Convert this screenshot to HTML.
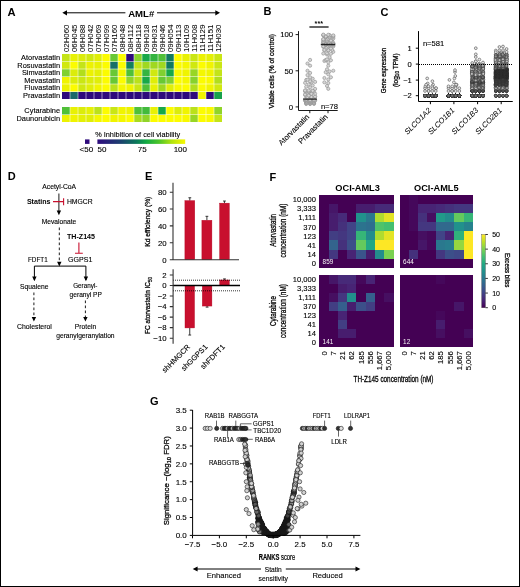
<!DOCTYPE html>
<html><head><meta charset="utf-8"><style>
html,body{margin:0;padding:0;background:#fff;}
body{width:520px;height:587px;overflow:hidden;font-family:"Liberation Sans", sans-serif;}
svg{display:block;will-change:transform;}
</style></head><body>
<svg width="520" height="587" viewBox="0 0 520 587" font-family="Liberation Sans, sans-serif"><text x="7.60" y="16.00" font-size="11.2" text-anchor="start" font-weight="bold">A</text>
<line x1="66" y1="12.8" x2="125.4" y2="12.8" stroke="#000" stroke-width="1"/>
<line x1="157" y1="12.8" x2="216" y2="12.8" stroke="#000" stroke-width="1"/>
<path d="M62.3 12.8 L67 10.2 L67 15.4 Z" fill="#000"/>
<path d="M220 12.8 L215.3 10.2 L215.3 15.4 Z" fill="#000"/>
<text x="141.20" y="17.30" font-size="9.6" text-anchor="middle" font-weight="bold">AML#</text>
<text x="69.10" y="52.10" font-size="6.6" text-anchor="start" stroke="#000" stroke-width="0.05" textLength="27.6" lengthAdjust="spacingAndGlyphs" transform="rotate(-90 69.10 52.10)">02H060</text>
<text x="77.10" y="52.10" font-size="6.6" text-anchor="start" stroke="#000" stroke-width="0.05" textLength="27.6" lengthAdjust="spacingAndGlyphs" transform="rotate(-90 77.10 52.10)">06H045</text>
<text x="85.10" y="52.10" font-size="6.6" text-anchor="start" stroke="#000" stroke-width="0.05" textLength="27.6" lengthAdjust="spacingAndGlyphs" transform="rotate(-90 85.10 52.10)">06H088</text>
<text x="93.10" y="52.10" font-size="6.6" text-anchor="start" stroke="#000" stroke-width="0.05" textLength="27.6" lengthAdjust="spacingAndGlyphs" transform="rotate(-90 93.10 52.10)">07H042</text>
<text x="101.10" y="52.10" font-size="6.6" text-anchor="start" stroke="#000" stroke-width="0.05" textLength="27.6" lengthAdjust="spacingAndGlyphs" transform="rotate(-90 101.10 52.10)">07H069</text>
<text x="109.10" y="52.10" font-size="6.6" text-anchor="start" stroke="#000" stroke-width="0.05" textLength="27.6" lengthAdjust="spacingAndGlyphs" transform="rotate(-90 109.10 52.10)">07H099</text>
<text x="117.10" y="52.10" font-size="6.6" text-anchor="start" stroke="#000" stroke-width="0.05" textLength="27.6" lengthAdjust="spacingAndGlyphs" transform="rotate(-90 117.10 52.10)">07H160</text>
<text x="125.10" y="52.10" font-size="6.6" text-anchor="start" stroke="#000" stroke-width="0.05" textLength="27.6" lengthAdjust="spacingAndGlyphs" transform="rotate(-90 125.10 52.10)">08H048</text>
<text x="133.10" y="52.10" font-size="6.6" text-anchor="start" stroke="#000" stroke-width="0.05" textLength="27.6" lengthAdjust="spacingAndGlyphs" transform="rotate(-90 133.10 52.10)">08H112</text>
<text x="141.10" y="52.10" font-size="6.6" text-anchor="start" stroke="#000" stroke-width="0.05" textLength="27.6" lengthAdjust="spacingAndGlyphs" transform="rotate(-90 141.10 52.10)">08H118</text>
<text x="149.10" y="52.10" font-size="6.6" text-anchor="start" stroke="#000" stroke-width="0.05" textLength="27.6" lengthAdjust="spacingAndGlyphs" transform="rotate(-90 149.10 52.10)">09H018</text>
<text x="157.10" y="52.10" font-size="6.6" text-anchor="start" stroke="#000" stroke-width="0.05" textLength="27.6" lengthAdjust="spacingAndGlyphs" transform="rotate(-90 157.10 52.10)">09H031</text>
<text x="165.10" y="52.10" font-size="6.6" text-anchor="start" stroke="#000" stroke-width="0.05" textLength="27.6" lengthAdjust="spacingAndGlyphs" transform="rotate(-90 165.10 52.10)">09H046</text>
<text x="173.10" y="52.10" font-size="6.6" text-anchor="start" stroke="#000" stroke-width="0.05" textLength="27.6" lengthAdjust="spacingAndGlyphs" transform="rotate(-90 173.10 52.10)">09H054</text>
<text x="181.10" y="52.10" font-size="6.6" text-anchor="start" stroke="#000" stroke-width="0.05" textLength="27.6" lengthAdjust="spacingAndGlyphs" transform="rotate(-90 181.10 52.10)">09H113</text>
<text x="189.10" y="52.10" font-size="6.6" text-anchor="start" stroke="#000" stroke-width="0.05" textLength="27.6" lengthAdjust="spacingAndGlyphs" transform="rotate(-90 189.10 52.10)">10H109</text>
<text x="197.10" y="52.10" font-size="6.6" text-anchor="start" stroke="#000" stroke-width="0.05" textLength="27.6" lengthAdjust="spacingAndGlyphs" transform="rotate(-90 197.10 52.10)">11H008</text>
<text x="205.10" y="52.10" font-size="6.6" text-anchor="start" stroke="#000" stroke-width="0.05" textLength="27.6" lengthAdjust="spacingAndGlyphs" transform="rotate(-90 205.10 52.10)">11H129</text>
<text x="213.10" y="52.10" font-size="6.6" text-anchor="start" stroke="#000" stroke-width="0.05" textLength="27.6" lengthAdjust="spacingAndGlyphs" transform="rotate(-90 213.10 52.10)">11H151</text>
<text x="221.10" y="52.10" font-size="6.6" text-anchor="start" stroke="#000" stroke-width="0.05" textLength="27.6" lengthAdjust="spacingAndGlyphs" transform="rotate(-90 221.10 52.10)">12H030</text>
<text x="60.10" y="60.30" font-size="7.4" text-anchor="end" stroke="#000" stroke-width="0.12">Atorvastatin</text>
<text x="60.10" y="67.80" font-size="7.4" text-anchor="end" stroke="#000" stroke-width="0.12">Rosuvastatin</text>
<text x="60.10" y="75.30" font-size="7.4" text-anchor="end" stroke="#000" stroke-width="0.12">Simvastatin</text>
<text x="60.10" y="82.80" font-size="7.4" text-anchor="end" stroke="#000" stroke-width="0.12">Mevastatin</text>
<text x="60.10" y="90.30" font-size="7.4" text-anchor="end" stroke="#000" stroke-width="0.12">Fluvastatin</text>
<text x="60.10" y="97.80" font-size="7.4" text-anchor="end" stroke="#000" stroke-width="0.12">Pravastatin</text>
<text x="60.10" y="113.30" font-size="7.4" text-anchor="end" stroke="#000" stroke-width="0.12">Cytarabine</text>
<text x="60.10" y="120.80" font-size="7.4" text-anchor="end" stroke="#000" stroke-width="0.12">Daunorubicin</text>
<g shape-rendering="crispEdges">
<rect x="62.00" y="54.00" width="8" height="7.5" fill="#c4e418"/>
<rect x="70.00" y="54.00" width="8" height="7.5" fill="#e8f104"/>
<rect x="78.00" y="54.00" width="8" height="7.5" fill="#dbec0b"/>
<rect x="86.00" y="54.00" width="8" height="7.5" fill="#d0e810"/>
<rect x="94.00" y="54.00" width="8" height="7.5" fill="#e0ee08"/>
<rect x="102.00" y="54.00" width="8" height="7.5" fill="#fcfc00"/>
<rect x="110.00" y="54.00" width="8" height="7.5" fill="#68c834"/>
<rect x="118.00" y="54.00" width="8" height="7.5" fill="#fcfc00"/>
<rect x="126.00" y="54.00" width="8" height="7.5" fill="#2e0a7c"/>
<rect x="134.00" y="54.00" width="8" height="7.5" fill="#88d22c"/>
<rect x="142.00" y="54.00" width="8" height="7.5" fill="#18a848"/>
<rect x="150.00" y="54.00" width="8" height="7.5" fill="#34b440"/>
<rect x="158.00" y="54.00" width="8" height="7.5" fill="#50c038"/>
<rect x="166.00" y="54.00" width="8" height="7.5" fill="#127a60"/>
<rect x="174.00" y="54.00" width="8" height="7.5" fill="#fcfc00"/>
<rect x="182.00" y="54.00" width="8" height="7.5" fill="#e8f104"/>
<rect x="190.00" y="54.00" width="8" height="7.5" fill="#cae614"/>
<rect x="198.00" y="54.00" width="8" height="7.5" fill="#ecf202"/>
<rect x="206.00" y="54.00" width="8" height="7.5" fill="#e4f006"/>
<rect x="214.00" y="54.00" width="8" height="7.5" fill="#cae614"/>
<rect x="62.00" y="61.50" width="8" height="7.5" fill="#d0e810"/>
<rect x="70.00" y="61.50" width="8" height="7.5" fill="#fcfc00"/>
<rect x="78.00" y="61.50" width="8" height="7.5" fill="#c4e418"/>
<rect x="86.00" y="61.50" width="8" height="7.5" fill="#ecf202"/>
<rect x="94.00" y="61.50" width="8" height="7.5" fill="#e8f104"/>
<rect x="102.00" y="61.50" width="8" height="7.5" fill="#fcfc00"/>
<rect x="110.00" y="61.50" width="8" height="7.5" fill="#176f67"/>
<rect x="118.00" y="61.50" width="8" height="7.5" fill="#fcfc00"/>
<rect x="126.00" y="61.50" width="8" height="7.5" fill="#13815d"/>
<rect x="134.00" y="61.50" width="8" height="7.5" fill="#c4e418"/>
<rect x="142.00" y="61.50" width="8" height="7.5" fill="#a0d820"/>
<rect x="150.00" y="61.50" width="8" height="7.5" fill="#a0d820"/>
<rect x="158.00" y="61.50" width="8" height="7.5" fill="#a0d820"/>
<rect x="166.00" y="61.50" width="8" height="7.5" fill="#127a60"/>
<rect x="174.00" y="61.50" width="8" height="7.5" fill="#fcfc00"/>
<rect x="182.00" y="61.50" width="8" height="7.5" fill="#f4f700"/>
<rect x="190.00" y="61.50" width="8" height="7.5" fill="#d0e810"/>
<rect x="198.00" y="61.50" width="8" height="7.5" fill="#fcfc00"/>
<rect x="206.00" y="61.50" width="8" height="7.5" fill="#f0f400"/>
<rect x="214.00" y="61.50" width="8" height="7.5" fill="#cae614"/>
<rect x="62.00" y="69.00" width="8" height="7.5" fill="#80d030"/>
<rect x="70.00" y="69.00" width="8" height="7.5" fill="#dbec0b"/>
<rect x="78.00" y="69.00" width="8" height="7.5" fill="#b2de1c"/>
<rect x="86.00" y="69.00" width="8" height="7.5" fill="#ecf202"/>
<rect x="94.00" y="69.00" width="8" height="7.5" fill="#e4f006"/>
<rect x="102.00" y="69.00" width="8" height="7.5" fill="#fcfc00"/>
<rect x="110.00" y="69.00" width="8" height="7.5" fill="#68c834"/>
<rect x="118.00" y="69.00" width="8" height="7.5" fill="#f4f700"/>
<rect x="126.00" y="69.00" width="8" height="7.5" fill="#50c038"/>
<rect x="134.00" y="69.00" width="8" height="7.5" fill="#d0e810"/>
<rect x="142.00" y="69.00" width="8" height="7.5" fill="#34b440"/>
<rect x="150.00" y="69.00" width="8" height="7.5" fill="#d0e810"/>
<rect x="158.00" y="69.00" width="8" height="7.5" fill="#80d030"/>
<rect x="166.00" y="69.00" width="8" height="7.5" fill="#18a848"/>
<rect x="174.00" y="69.00" width="8" height="7.5" fill="#f8f900"/>
<rect x="182.00" y="69.00" width="8" height="7.5" fill="#f0f400"/>
<rect x="190.00" y="69.00" width="8" height="7.5" fill="#98d624"/>
<rect x="198.00" y="69.00" width="8" height="7.5" fill="#f4f700"/>
<rect x="206.00" y="69.00" width="8" height="7.5" fill="#f0f400"/>
<rect x="214.00" y="69.00" width="8" height="7.5" fill="#c4e418"/>
<rect x="62.00" y="76.50" width="8" height="7.5" fill="#f0f400"/>
<rect x="70.00" y="76.50" width="8" height="7.5" fill="#dbec0b"/>
<rect x="78.00" y="76.50" width="8" height="7.5" fill="#cae614"/>
<rect x="86.00" y="76.50" width="8" height="7.5" fill="#dbec0b"/>
<rect x="94.00" y="76.50" width="8" height="7.5" fill="#e0ee08"/>
<rect x="102.00" y="76.50" width="8" height="7.5" fill="#fcfc00"/>
<rect x="110.00" y="76.50" width="8" height="7.5" fill="#68c834"/>
<rect x="118.00" y="76.50" width="8" height="7.5" fill="#fcfc00"/>
<rect x="126.00" y="76.50" width="8" height="7.5" fill="#90d428"/>
<rect x="134.00" y="76.50" width="8" height="7.5" fill="#bbe11a"/>
<rect x="142.00" y="76.50" width="8" height="7.5" fill="#18a848"/>
<rect x="150.00" y="76.50" width="8" height="7.5" fill="#e0ee08"/>
<rect x="158.00" y="76.50" width="8" height="7.5" fill="#68c834"/>
<rect x="166.00" y="76.50" width="8" height="7.5" fill="#80d030"/>
<rect x="174.00" y="76.50" width="8" height="7.5" fill="#fcfc00"/>
<rect x="182.00" y="76.50" width="8" height="7.5" fill="#f4f700"/>
<rect x="190.00" y="76.50" width="8" height="7.5" fill="#88d22c"/>
<rect x="198.00" y="76.50" width="8" height="7.5" fill="#fcfc00"/>
<rect x="206.00" y="76.50" width="8" height="7.5" fill="#f8f900"/>
<rect x="214.00" y="76.50" width="8" height="7.5" fill="#b2de1c"/>
<rect x="62.00" y="84.00" width="8" height="7.5" fill="#ecf202"/>
<rect x="70.00" y="84.00" width="8" height="7.5" fill="#fcfc00"/>
<rect x="78.00" y="84.00" width="8" height="7.5" fill="#d0e810"/>
<rect x="86.00" y="84.00" width="8" height="7.5" fill="#e0ee08"/>
<rect x="94.00" y="84.00" width="8" height="7.5" fill="#f0f400"/>
<rect x="102.00" y="84.00" width="8" height="7.5" fill="#fcfc00"/>
<rect x="110.00" y="84.00" width="8" height="7.5" fill="#bbe11a"/>
<rect x="118.00" y="84.00" width="8" height="7.5" fill="#f4f700"/>
<rect x="126.00" y="84.00" width="8" height="7.5" fill="#f0f400"/>
<rect x="134.00" y="84.00" width="8" height="7.5" fill="#cae614"/>
<rect x="142.00" y="84.00" width="8" height="7.5" fill="#50c038"/>
<rect x="150.00" y="84.00" width="8" height="7.5" fill="#e8f104"/>
<rect x="158.00" y="84.00" width="8" height="7.5" fill="#a0d820"/>
<rect x="166.00" y="84.00" width="8" height="7.5" fill="#e0ee08"/>
<rect x="174.00" y="84.00" width="8" height="7.5" fill="#f8f900"/>
<rect x="182.00" y="84.00" width="8" height="7.5" fill="#fcfc00"/>
<rect x="190.00" y="84.00" width="8" height="7.5" fill="#b2de1c"/>
<rect x="198.00" y="84.00" width="8" height="7.5" fill="#fcfc00"/>
<rect x="206.00" y="84.00" width="8" height="7.5" fill="#f0f400"/>
<rect x="214.00" y="84.00" width="8" height="7.5" fill="#d0e810"/>
<rect x="62.00" y="91.50" width="8" height="7.5" fill="#2e0a7c"/>
<rect x="70.00" y="91.50" width="8" height="7.5" fill="#1a6a6a"/>
<rect x="78.00" y="91.50" width="8" height="7.5" fill="#2e0a7c"/>
<rect x="86.00" y="91.50" width="8" height="7.5" fill="#2e0a7c"/>
<rect x="94.00" y="91.50" width="8" height="7.5" fill="#2e0a7c"/>
<rect x="102.00" y="91.50" width="8" height="7.5" fill="#2e0a7c"/>
<rect x="110.00" y="91.50" width="8" height="7.5" fill="#2e0a7c"/>
<rect x="118.00" y="91.50" width="8" height="7.5" fill="#2e0a7c"/>
<rect x="126.00" y="91.50" width="8" height="7.5" fill="#2e0a7c"/>
<rect x="134.00" y="91.50" width="8" height="7.5" fill="#2e0a7c"/>
<rect x="142.00" y="91.50" width="8" height="7.5" fill="#2e0a7c"/>
<rect x="150.00" y="91.50" width="8" height="7.5" fill="#2e0a7c"/>
<rect x="158.00" y="91.50" width="8" height="7.5" fill="#2e0a7c"/>
<rect x="166.00" y="91.50" width="8" height="7.5" fill="#2e0a7c"/>
<rect x="174.00" y="91.50" width="8" height="7.5" fill="#2e0a7c"/>
<rect x="182.00" y="91.50" width="8" height="7.5" fill="#2e0a7c"/>
<rect x="190.00" y="91.50" width="8" height="7.5" fill="#2e0a7c"/>
<rect x="198.00" y="91.50" width="8" height="7.5" fill="#f0f400"/>
<rect x="206.00" y="91.50" width="8" height="7.5" fill="#2e0a7c"/>
<rect x="214.00" y="91.50" width="8" height="7.5" fill="#17a14b"/>
<rect x="62.00" y="107.00" width="8" height="7.5" fill="#50c038"/>
<rect x="70.00" y="107.00" width="8" height="7.5" fill="#e8f104"/>
<rect x="78.00" y="107.00" width="8" height="7.5" fill="#dbec0b"/>
<rect x="86.00" y="107.00" width="8" height="7.5" fill="#e4f006"/>
<rect x="94.00" y="107.00" width="8" height="7.5" fill="#bbe11a"/>
<rect x="102.00" y="107.00" width="8" height="7.5" fill="#fcfc00"/>
<rect x="110.00" y="107.00" width="8" height="7.5" fill="#cae614"/>
<rect x="118.00" y="107.00" width="8" height="7.5" fill="#f0f400"/>
<rect x="126.00" y="107.00" width="8" height="7.5" fill="#ecf202"/>
<rect x="134.00" y="107.00" width="8" height="7.5" fill="#50c038"/>
<rect x="142.00" y="107.00" width="8" height="7.5" fill="#42ba3c"/>
<rect x="150.00" y="107.00" width="8" height="7.5" fill="#e8f104"/>
<rect x="158.00" y="107.00" width="8" height="7.5" fill="#18a848"/>
<rect x="166.00" y="107.00" width="8" height="7.5" fill="#fcfc00"/>
<rect x="174.00" y="107.00" width="8" height="7.5" fill="#dbec0b"/>
<rect x="182.00" y="107.00" width="8" height="7.5" fill="#f0f400"/>
<rect x="190.00" y="107.00" width="8" height="7.5" fill="#bbe11a"/>
<rect x="198.00" y="107.00" width="8" height="7.5" fill="#fcfc00"/>
<rect x="206.00" y="107.00" width="8" height="7.5" fill="#f8f900"/>
<rect x="214.00" y="107.00" width="8" height="7.5" fill="#90d428"/>
<rect x="62.00" y="114.50" width="8" height="7.5" fill="#ecf202"/>
<rect x="70.00" y="114.50" width="8" height="7.5" fill="#f0f400"/>
<rect x="78.00" y="114.50" width="8" height="7.5" fill="#e4f006"/>
<rect x="86.00" y="114.50" width="8" height="7.5" fill="#e0ee08"/>
<rect x="94.00" y="114.50" width="8" height="7.5" fill="#f4f700"/>
<rect x="102.00" y="114.50" width="8" height="7.5" fill="#fcfc00"/>
<rect x="110.00" y="114.50" width="8" height="7.5" fill="#f0f400"/>
<rect x="118.00" y="114.50" width="8" height="7.5" fill="#f4f700"/>
<rect x="126.00" y="114.50" width="8" height="7.5" fill="#fcfc00"/>
<rect x="134.00" y="114.50" width="8" height="7.5" fill="#a9db1e"/>
<rect x="142.00" y="114.50" width="8" height="7.5" fill="#90d428"/>
<rect x="150.00" y="114.50" width="8" height="7.5" fill="#fcfc00"/>
<rect x="158.00" y="114.50" width="8" height="7.5" fill="#fcfc00"/>
<rect x="166.00" y="114.50" width="8" height="7.5" fill="#fcfc00"/>
<rect x="174.00" y="114.50" width="8" height="7.5" fill="#fcfc00"/>
<rect x="182.00" y="114.50" width="8" height="7.5" fill="#f8f900"/>
<rect x="190.00" y="114.50" width="8" height="7.5" fill="#98d624"/>
<rect x="198.00" y="114.50" width="8" height="7.5" fill="#fcfc00"/>
<rect x="206.00" y="114.50" width="8" height="7.5" fill="#f8f900"/>
<rect x="214.00" y="114.50" width="8" height="7.5" fill="#c4e418"/>
</g>
<path d="M70 54V99M70 107V122M78 54V99M78 107V122M86 54V99M86 107V122M94 54V99M94 107V122M102 54V99M102 107V122M110 54V99M110 107V122M118 54V99M118 107V122M126 54V99M126 107V122M134 54V99M134 107V122M142 54V99M142 107V122M150 54V99M150 107V122M158 54V99M158 107V122M166 54V99M166 107V122M174 54V99M174 107V122M182 54V99M182 107V122M190 54V99M190 107V122M198 54V99M198 107V122M206 54V99M206 107V122M214 54V99M214 107V122M62 61.5H222M62 69.0H222M62 76.5H222M62 84.0H222M62 91.5H222M62 114.5H222" stroke="#fff" stroke-opacity="0.8" stroke-width="0.65" fill="none"/>
<text x="137.70" y="136.60" font-size="7.6" text-anchor="middle" stroke="#000" stroke-width="0.12" textLength="85" lengthAdjust="spacingAndGlyphs">% Inhibition of cell viability</text>
<rect x="85" y="139.4" width="4.5" height="4.5" fill="#2e0a7c"/>
<defs><linearGradient id="ga" x1="0" x2="1" y1="0" y2="0"><stop offset="0" stop-color="#2e0b7e"/><stop offset="0.25" stop-color="#1d3d70"/><stop offset="0.45" stop-color="#0c7a5a"/><stop offset="0.55" stop-color="#10a844"/><stop offset="0.7" stop-color="#4cc52a"/><stop offset="0.85" stop-color="#b4e40e"/><stop offset="1.0" stop-color="#f8f800"/></linearGradient></defs>
<rect x="97.4" y="139.4" width="87.8" height="4.5" fill="url(#ga)"/>
<text x="86.40" y="152.40" font-size="8" text-anchor="middle" stroke="#000" stroke-width="0.12">&lt;50</text>
<text x="97.50" y="152.40" font-size="8" text-anchor="start" stroke="#000" stroke-width="0.12">50</text>
<text x="142.30" y="152.40" font-size="8" text-anchor="middle" stroke="#000" stroke-width="0.12">75</text>
<text x="187.00" y="152.40" font-size="8" text-anchor="end" stroke="#000" stroke-width="0.12">100</text>
<text x="263.50" y="15.40" font-size="11" text-anchor="start" font-weight="bold">B</text>
<g fill="#d6d6d6" stroke="#8c8c8c" stroke-width="0.6"><circle cx="310.10" cy="104.00" r="1.6"/><circle cx="306.20" cy="103.95" r="1.6"/><circle cx="314.00" cy="103.88" r="1.6"/><circle cx="310.10" cy="103.52" r="1.6"/><circle cx="306.20" cy="103.46" r="1.6"/><circle cx="314.00" cy="103.41" r="1.6"/><circle cx="310.10" cy="103.32" r="1.6"/><circle cx="306.20" cy="103.10" r="1.6"/><circle cx="314.00" cy="103.07" r="1.6"/><circle cx="310.10" cy="103.07" r="1.6"/><circle cx="306.20" cy="102.94" r="1.6"/><circle cx="314.00" cy="102.80" r="1.6"/><circle cx="310.10" cy="101.99" r="1.6"/><circle cx="306.20" cy="101.97" r="1.6"/><circle cx="314.00" cy="101.65" r="1.6"/><circle cx="310.10" cy="101.52" r="1.6"/><circle cx="306.20" cy="101.33" r="1.6"/><circle cx="314.00" cy="101.31" r="1.6"/><circle cx="310.10" cy="101.19" r="1.6"/><circle cx="306.20" cy="100.80" r="1.6"/><circle cx="314.00" cy="100.79" r="1.6"/><circle cx="310.10" cy="100.69" r="1.6"/><circle cx="305.10" cy="100.56" r="1.6"/><circle cx="315.10" cy="100.55" r="1.6"/><circle cx="310.10" cy="100.23" r="1.6"/><circle cx="305.10" cy="100.22" r="1.6"/><circle cx="305.10" cy="100.10" r="1.6"/><circle cx="310.10" cy="100.03" r="1.6"/><circle cx="314.00" cy="100.01" r="1.6"/><circle cx="315.10" cy="99.92" r="1.6"/><circle cx="310.10" cy="99.92" r="1.6"/><circle cx="306.20" cy="99.75" r="1.6"/><circle cx="314.00" cy="99.64" r="1.6"/><circle cx="305.10" cy="99.10" r="1.6"/><circle cx="307.50" cy="98.41" r="1.6"/><circle cx="307.50" cy="98.23" r="1.6"/><circle cx="312.70" cy="97.89" r="1.6"/><circle cx="311.40" cy="97.16" r="1.6"/><circle cx="311.40" cy="97.08" r="1.6"/><circle cx="311.40" cy="97.06" r="1.6"/><circle cx="307.50" cy="96.98" r="1.6"/><circle cx="315.10" cy="96.74" r="1.6"/><circle cx="315.10" cy="96.54" r="1.6"/><circle cx="308.80" cy="95.50" r="1.6"/><circle cx="305.10" cy="94.99" r="1.6"/><circle cx="305.10" cy="94.44" r="1.6"/><circle cx="311.40" cy="93.79" r="1.6"/><circle cx="311.40" cy="93.79" r="1.6"/><circle cx="315.10" cy="93.68" r="1.6"/><circle cx="307.50" cy="92.57" r="1.6"/><circle cx="308.80" cy="91.92" r="1.6"/><circle cx="314.00" cy="91.51" r="1.6"/><circle cx="305.10" cy="91.33" r="1.6"/><circle cx="308.80" cy="91.28" r="1.6"/><circle cx="312.70" cy="90.89" r="1.6"/><circle cx="312.70" cy="90.78" r="1.6"/><circle cx="305.10" cy="90.73" r="1.6"/><circle cx="305.10" cy="90.45" r="1.6"/><circle cx="308.80" cy="90.33" r="1.6"/><circle cx="315.10" cy="88.90" r="1.6"/><circle cx="310.10" cy="87.34" r="1.6"/><circle cx="306.20" cy="86.76" r="1.6"/><circle cx="312.70" cy="85.43" r="1.6"/><circle cx="308.80" cy="84.30" r="1.6"/><circle cx="305.10" cy="82.84" r="1.6"/><circle cx="311.40" cy="82.32" r="1.6"/><circle cx="315.10" cy="81.88" r="1.6"/><circle cx="310.10" cy="81.22" r="1.6"/><circle cx="306.20" cy="79.94" r="1.6"/><circle cx="307.50" cy="79.71" r="1.6"/><circle cx="312.70" cy="78.70" r="1.6"/><circle cx="310.10" cy="77.26" r="1.6"/><circle cx="307.50" cy="75.09" r="1.6"/><circle cx="310.10" cy="72.92" r="1.6"/><circle cx="307.50" cy="70.75" r="1.6"/><circle cx="310.10" cy="65.69" r="1.6"/><circle cx="307.50" cy="63.52" r="1.6"/><circle cx="310.10" cy="59.91" r="1.6"/><circle cx="328.30" cy="88.83" r="1.6"/><circle cx="327.00" cy="85.93" r="1.6"/><circle cx="328.30" cy="83.04" r="1.6"/><circle cx="324.40" cy="82.32" r="1.6"/><circle cx="328.30" cy="79.43" r="1.6"/><circle cx="324.40" cy="77.98" r="1.6"/><circle cx="330.90" cy="77.26" r="1.6"/><circle cx="328.30" cy="74.37" r="1.6"/><circle cx="325.70" cy="72.20" r="1.6"/><circle cx="329.60" cy="71.47" r="1.6"/><circle cx="333.30" cy="70.75" r="1.6"/><circle cx="327.00" cy="69.30" r="1.6"/><circle cx="328.30" cy="65.69" r="1.6"/><circle cx="328.30" cy="62.25" r="1.6"/><circle cx="324.40" cy="61.00" r="1.6"/><circle cx="330.90" cy="60.25" r="1.6"/><circle cx="325.70" cy="60.02" r="1.6"/><circle cx="327.00" cy="59.36" r="1.6"/><circle cx="329.60" cy="57.19" r="1.6"/><circle cx="327.00" cy="54.51" r="1.6"/><circle cx="330.90" cy="53.76" r="1.6"/><circle cx="323.30" cy="53.52" r="1.6"/><circle cx="327.00" cy="53.33" r="1.6"/><circle cx="333.30" cy="51.86" r="1.6"/><circle cx="328.30" cy="50.45" r="1.6"/><circle cx="324.40" cy="50.26" r="1.6"/><circle cx="328.30" cy="50.25" r="1.6"/><circle cx="324.40" cy="49.90" r="1.6"/><circle cx="332.20" cy="49.85" r="1.6"/><circle cx="330.90" cy="48.46" r="1.6"/><circle cx="327.00" cy="47.44" r="1.6"/><circle cx="323.30" cy="46.87" r="1.6"/><circle cx="333.30" cy="46.36" r="1.6"/><circle cx="328.30" cy="46.29" r="1.6"/><circle cx="323.30" cy="46.22" r="1.6"/><circle cx="329.60" cy="45.57" r="1.6"/><circle cx="333.30" cy="45.23" r="1.6"/><circle cx="329.60" cy="44.96" r="1.6"/><circle cx="325.70" cy="44.73" r="1.6"/><circle cx="325.70" cy="44.35" r="1.6"/><circle cx="325.70" cy="44.23" r="1.6"/><circle cx="333.30" cy="44.16" r="1.6"/><circle cx="329.60" cy="43.93" r="1.6"/><circle cx="325.70" cy="43.80" r="1.6"/><circle cx="333.30" cy="43.63" r="1.6"/><circle cx="329.60" cy="43.22" r="1.6"/><circle cx="333.30" cy="43.09" r="1.6"/><circle cx="323.30" cy="42.93" r="1.6"/><circle cx="328.30" cy="42.73" r="1.6"/><circle cx="323.30" cy="42.32" r="1.6"/><circle cx="323.30" cy="41.56" r="1.6"/><circle cx="327.00" cy="41.52" r="1.6"/><circle cx="332.20" cy="41.28" r="1.6"/><circle cx="327.00" cy="41.27" r="1.6"/><circle cx="332.20" cy="41.24" r="1.6"/><circle cx="330.90" cy="41.13" r="1.6"/><circle cx="327.00" cy="40.61" r="1.6"/><circle cx="330.90" cy="40.45" r="1.6"/><circle cx="323.30" cy="40.11" r="1.6"/><circle cx="327.00" cy="39.41" r="1.6"/><circle cx="323.30" cy="39.32" r="1.6"/><circle cx="323.30" cy="39.20" r="1.6"/><circle cx="328.30" cy="38.71" r="1.6"/><circle cx="333.30" cy="38.54" r="1.6"/><circle cx="329.60" cy="37.75" r="1.6"/><circle cx="325.70" cy="37.15" r="1.6"/><circle cx="333.30" cy="37.07" r="1.6"/><circle cx="329.60" cy="36.87" r="1.6"/><circle cx="325.70" cy="36.65" r="1.6"/><circle cx="325.70" cy="36.36" r="1.6"/><circle cx="333.30" cy="36.02" r="1.6"/><circle cx="329.60" cy="35.43" r="1.6"/><circle cx="333.30" cy="35.37" r="1.6"/><circle cx="323.30" cy="35.31" r="1.6"/><circle cx="329.60" cy="35.19" r="1.6"/><circle cx="323.30" cy="35.15" r="1.6"/><circle cx="328.30" cy="34.73" r="1.6"/><circle cx="323.30" cy="34.63" r="1.6"/></g>
<path d="M303.3 99.1H316.9M320.8 44.5H335.2" stroke="#222" stroke-width="1.3"/>
<path d="M298.5 31.1V110.5H337.7M295.6 34.6H298.5M295.6 70.8H298.5M295.6 106.9H298.5M309.8 110.5V113.2M328 110.5V113.2" stroke="#000" stroke-width="0.9" fill="none"/>
<path d="M309.4 27H328.6" stroke="#111" stroke-width="1.3"/>
<text x="318.80" y="26.20" font-size="7.2" text-anchor="middle" font-weight="bold">***</text>
<text x="293.20" y="37.40" font-size="7.8" text-anchor="end" stroke="#000" stroke-width="0.12">100</text>
<text x="293.20" y="73.60" font-size="7.8" text-anchor="end" stroke="#000" stroke-width="0.12">50</text>
<text x="293.20" y="109.70" font-size="7.8" text-anchor="end" stroke="#000" stroke-width="0.12">0</text>
<text x="338.00" y="109.00" font-size="7.6" text-anchor="end" stroke="#000" stroke-width="0.12">n=78</text>
<text x="274.20" y="71.30" font-size="8" text-anchor="middle" stroke="#000" stroke-width="0.28" textLength="74.5" lengthAdjust="spacingAndGlyphs" transform="rotate(-90 274.20 71.30)">Viable cells (% of control)</text>
<text x="309.80" y="117.40" font-size="7.6" text-anchor="end" stroke="#000" stroke-width="0.12" transform="rotate(-45 309.80 117.40)">Atorvastatin</text>
<text x="328.20" y="117.40" font-size="7.6" text-anchor="end" stroke="#000" stroke-width="0.12" transform="rotate(-45 328.20 117.40)">Pravastatin</text>
<text x="380.40" y="15.50" font-size="11" text-anchor="start" font-weight="bold">C</text>
<g stroke="#333" stroke-width="0.5"><circle cx="428.6" cy="95.8" r="1.4" fill="#777"/><circle cx="432.2" cy="95.8" r="1.4" fill="#777"/><circle cx="425.0" cy="95.8" r="1.4" fill="#777"/><circle cx="435.8" cy="95.8" r="1.4" fill="#777"/><circle cx="428.6" cy="95.8" r="1.4" fill="#777"/><circle cx="432.2" cy="95.8" r="1.4" fill="#777"/><circle cx="425.0" cy="95.8" r="1.4" fill="#777"/><circle cx="435.8" cy="95.8" r="1.4" fill="#777"/><circle cx="428.6" cy="95.8" r="1.4" fill="#777"/><circle cx="432.2" cy="95.8" r="1.4" fill="#777"/><circle cx="425.0" cy="95.8" r="1.4" fill="#777"/><circle cx="435.8" cy="95.8" r="1.4" fill="#777"/><circle cx="428.6" cy="95.8" r="1.4" fill="#777"/><circle cx="432.2" cy="95.8" r="1.4" fill="#777"/><circle cx="428.6" cy="91.0" r="1.4" fill="#e8e8e8"/><circle cx="425.0" cy="95.8" r="1.4" fill="#777"/><circle cx="435.8" cy="95.8" r="1.4" fill="#777"/><circle cx="428.6" cy="95.8" r="1.4" fill="#777"/><circle cx="432.2" cy="95.8" r="1.4" fill="#777"/><circle cx="425.0" cy="95.8" r="1.4" fill="#777"/><circle cx="435.8" cy="95.8" r="1.4" fill="#777"/><circle cx="428.6" cy="95.8" r="1.4" fill="#777"/><circle cx="432.2" cy="95.8" r="1.4" fill="#777"/><circle cx="425.0" cy="95.8" r="1.4" fill="#777"/><circle cx="435.8" cy="95.8" r="1.4" fill="#777"/><circle cx="428.6" cy="95.8" r="1.4" fill="#777"/><circle cx="432.2" cy="95.8" r="1.4" fill="#777"/><circle cx="425.0" cy="95.8" r="1.4" fill="#777"/><circle cx="435.8" cy="95.8" r="1.4" fill="#777"/><circle cx="428.6" cy="95.8" r="1.4" fill="#777"/><circle cx="432.2" cy="95.8" r="1.4" fill="#777"/><circle cx="425.0" cy="95.8" r="1.4" fill="#777"/><circle cx="435.8" cy="95.8" r="1.4" fill="#777"/><circle cx="428.6" cy="95.8" r="1.4" fill="#777"/><circle cx="432.2" cy="95.8" r="1.4" fill="#777"/><circle cx="425.0" cy="95.8" r="1.4" fill="#777"/><circle cx="435.8" cy="95.8" r="1.4" fill="#777"/><circle cx="428.6" cy="95.8" r="1.4" fill="#777"/><circle cx="432.2" cy="95.8" r="1.4" fill="#777"/><circle cx="425.0" cy="95.8" r="1.4" fill="#777"/><circle cx="435.8" cy="95.8" r="1.4" fill="#777"/><circle cx="428.6" cy="95.8" r="1.4" fill="#777"/><circle cx="432.2" cy="95.8" r="1.4" fill="#777"/><circle cx="425.0" cy="95.8" r="1.4" fill="#777"/><circle cx="435.8" cy="95.8" r="1.4" fill="#777"/><circle cx="428.6" cy="95.8" r="1.4" fill="#777"/><circle cx="432.2" cy="95.8" r="1.4" fill="#777"/><circle cx="425.0" cy="95.8" r="1.4" fill="#777"/><circle cx="435.8" cy="95.8" r="1.4" fill="#777"/><circle cx="428.6" cy="95.8" r="1.4" fill="#777"/><circle cx="432.2" cy="95.8" r="1.4" fill="#777"/><circle cx="425.0" cy="95.8" r="1.4" fill="#777"/><circle cx="435.8" cy="95.8" r="1.4" fill="#777"/><circle cx="428.6" cy="95.8" r="1.4" fill="#777"/><circle cx="432.2" cy="95.8" r="1.4" fill="#777"/><circle cx="425.0" cy="95.8" r="1.4" fill="#777"/><circle cx="435.8" cy="95.8" r="1.4" fill="#777"/><circle cx="428.6" cy="95.8" r="1.4" fill="#777"/><circle cx="432.2" cy="95.8" r="1.4" fill="#777"/><circle cx="425.0" cy="95.8" r="1.4" fill="#777"/><circle cx="435.8" cy="95.8" r="1.4" fill="#777"/><circle cx="428.6" cy="95.8" r="1.4" fill="#777"/><circle cx="432.2" cy="95.8" r="1.4" fill="#777"/><circle cx="425.0" cy="95.8" r="1.4" fill="#777"/><circle cx="435.8" cy="95.8" r="1.4" fill="#777"/><circle cx="428.6" cy="95.8" r="1.4" fill="#777"/><circle cx="432.2" cy="95.8" r="1.4" fill="#777"/><circle cx="425.0" cy="95.8" r="1.4" fill="#777"/><circle cx="435.8" cy="95.8" r="1.4" fill="#777"/><circle cx="428.6" cy="95.8" r="1.4" fill="#777"/><circle cx="432.2" cy="95.8" r="1.4" fill="#777"/><circle cx="425.0" cy="95.8" r="1.4" fill="#777"/><circle cx="433.1" cy="84.7" r="1.4" fill="#e8e8e8"/><circle cx="435.8" cy="95.8" r="1.4" fill="#777"/><circle cx="428.6" cy="95.8" r="1.4" fill="#777"/><circle cx="432.2" cy="95.8" r="1.4" fill="#777"/><circle cx="425.0" cy="95.8" r="1.4" fill="#777"/><circle cx="435.8" cy="95.8" r="1.4" fill="#777"/><circle cx="428.6" cy="95.8" r="1.4" fill="#777"/><circle cx="432.2" cy="95.8" r="1.4" fill="#777"/><circle cx="425.0" cy="95.8" r="1.4" fill="#777"/><circle cx="435.8" cy="95.8" r="1.4" fill="#777"/><circle cx="428.6" cy="95.8" r="1.4" fill="#777"/><circle cx="432.2" cy="95.8" r="1.4" fill="#777"/><circle cx="425.0" cy="95.8" r="1.4" fill="#777"/><circle cx="435.8" cy="95.8" r="1.4" fill="#777"/><circle cx="428.6" cy="95.8" r="1.4" fill="#777"/><circle cx="432.2" cy="95.8" r="1.4" fill="#777"/><circle cx="425.0" cy="95.8" r="1.4" fill="#777"/><circle cx="435.8" cy="95.8" r="1.4" fill="#777"/><circle cx="428.6" cy="95.8" r="1.4" fill="#777"/><circle cx="432.2" cy="95.8" r="1.4" fill="#777"/><circle cx="425.0" cy="95.8" r="1.4" fill="#777"/><circle cx="435.8" cy="95.8" r="1.4" fill="#777"/><circle cx="428.6" cy="95.8" r="1.4" fill="#777"/><circle cx="432.2" cy="95.8" r="1.4" fill="#777"/><circle cx="425.0" cy="95.8" r="1.4" fill="#777"/><circle cx="435.8" cy="95.8" r="1.4" fill="#777"/><circle cx="428.6" cy="95.8" r="1.4" fill="#777"/><circle cx="432.2" cy="95.8" r="1.4" fill="#777"/><circle cx="425.0" cy="95.8" r="1.4" fill="#777"/><circle cx="435.8" cy="95.8" r="1.4" fill="#777"/><circle cx="428.6" cy="95.8" r="1.4" fill="#777"/><circle cx="432.2" cy="95.8" r="1.4" fill="#777"/><circle cx="425.0" cy="95.8" r="1.4" fill="#777"/><circle cx="435.8" cy="95.8" r="1.4" fill="#777"/><circle cx="428.6" cy="95.8" r="1.4" fill="#777"/><circle cx="432.2" cy="95.8" r="1.4" fill="#777"/><circle cx="428.6" cy="88.2" r="1.4" fill="#e8e8e8"/><circle cx="425.0" cy="95.8" r="1.4" fill="#777"/><circle cx="435.8" cy="95.8" r="1.4" fill="#777"/><circle cx="428.6" cy="95.8" r="1.4" fill="#777"/><circle cx="432.2" cy="95.8" r="1.4" fill="#777"/><circle cx="425.0" cy="95.8" r="1.4" fill="#777"/><circle cx="435.8" cy="95.8" r="1.4" fill="#777"/><circle cx="428.6" cy="95.8" r="1.4" fill="#777"/><circle cx="432.2" cy="95.8" r="1.4" fill="#777"/><circle cx="432.4" cy="81.2" r="1.4" fill="#e8e8e8"/><circle cx="432.2" cy="91.0" r="1.4" fill="#e8e8e8"/><circle cx="425.0" cy="95.8" r="1.4" fill="#777"/><circle cx="435.8" cy="95.8" r="1.4" fill="#777"/><circle cx="428.6" cy="95.8" r="1.4" fill="#777"/><circle cx="432.2" cy="95.8" r="1.4" fill="#777"/><circle cx="425.0" cy="95.8" r="1.4" fill="#777"/><circle cx="435.8" cy="95.8" r="1.4" fill="#777"/><circle cx="428.6" cy="95.8" r="1.4" fill="#777"/><circle cx="432.2" cy="95.8" r="1.4" fill="#777"/><circle cx="425.0" cy="95.8" r="1.4" fill="#777"/><circle cx="435.8" cy="95.8" r="1.4" fill="#777"/><circle cx="428.6" cy="95.8" r="1.4" fill="#777"/><circle cx="432.2" cy="95.8" r="1.4" fill="#777"/><circle cx="425.0" cy="95.8" r="1.4" fill="#777"/><circle cx="435.8" cy="95.8" r="1.4" fill="#777"/><circle cx="428.6" cy="95.8" r="1.4" fill="#777"/><circle cx="432.2" cy="95.8" r="1.4" fill="#777"/><circle cx="425.0" cy="95.8" r="1.4" fill="#777"/><circle cx="435.8" cy="95.8" r="1.4" fill="#777"/><circle cx="428.6" cy="95.8" r="1.4" fill="#777"/><circle cx="432.2" cy="95.8" r="1.4" fill="#777"/><circle cx="425.0" cy="95.8" r="1.4" fill="#777"/><circle cx="432.2" cy="86.3" r="1.4" fill="#e8e8e8"/><circle cx="435.8" cy="95.8" r="1.4" fill="#777"/><circle cx="428.6" cy="95.8" r="1.4" fill="#777"/><circle cx="425.0" cy="91.0" r="1.4" fill="#e8e8e8"/><circle cx="432.2" cy="95.8" r="1.4" fill="#777"/><circle cx="425.0" cy="95.8" r="1.4" fill="#777"/><circle cx="435.8" cy="95.8" r="1.4" fill="#777"/><circle cx="428.6" cy="95.8" r="1.4" fill="#777"/><circle cx="425.0" cy="88.2" r="1.4" fill="#e8e8e8"/><circle cx="432.2" cy="95.8" r="1.4" fill="#777"/><circle cx="425.0" cy="95.8" r="1.4" fill="#777"/><circle cx="435.8" cy="95.8" r="1.4" fill="#777"/><circle cx="435.8" cy="88.2" r="1.4" fill="#e8e8e8"/><circle cx="428.3" cy="86.3" r="1.4" fill="#e8e8e8"/><circle cx="428.6" cy="95.8" r="1.4" fill="#777"/><circle cx="432.2" cy="95.8" r="1.4" fill="#777"/><circle cx="425.0" cy="95.8" r="1.4" fill="#777"/><circle cx="435.8" cy="95.8" r="1.4" fill="#777"/><circle cx="428.6" cy="95.8" r="1.4" fill="#777"/><circle cx="432.2" cy="95.8" r="1.4" fill="#777"/><circle cx="425.0" cy="95.8" r="1.4" fill="#777"/><circle cx="435.8" cy="95.8" r="1.4" fill="#777"/><circle cx="428.6" cy="95.8" r="1.4" fill="#777"/><circle cx="432.2" cy="95.8" r="1.4" fill="#777"/><circle cx="425.0" cy="95.8" r="1.4" fill="#777"/><circle cx="435.8" cy="95.8" r="1.4" fill="#777"/><circle cx="428.6" cy="95.8" r="1.4" fill="#777"/><circle cx="432.2" cy="95.8" r="1.4" fill="#777"/><circle cx="425.0" cy="95.8" r="1.4" fill="#777"/><circle cx="435.8" cy="95.8" r="1.4" fill="#777"/><circle cx="428.6" cy="95.8" r="1.4" fill="#777"/><circle cx="432.2" cy="95.8" r="1.4" fill="#777"/><circle cx="425.0" cy="95.8" r="1.4" fill="#777"/><circle cx="435.8" cy="95.8" r="1.4" fill="#777"/><circle cx="428.6" cy="95.8" r="1.4" fill="#777"/><circle cx="432.2" cy="95.8" r="1.4" fill="#777"/><circle cx="425.0" cy="95.8" r="1.4" fill="#777"/><circle cx="435.8" cy="95.8" r="1.4" fill="#777"/><circle cx="428.6" cy="95.8" r="1.4" fill="#777"/><circle cx="432.2" cy="95.8" r="1.4" fill="#777"/><circle cx="425.0" cy="95.8" r="1.4" fill="#777"/><circle cx="435.8" cy="95.8" r="1.4" fill="#777"/><circle cx="435.8" cy="91.0" r="1.4" fill="#e8e8e8"/><circle cx="428.6" cy="95.8" r="1.4" fill="#777"/><circle cx="432.2" cy="95.8" r="1.4" fill="#777"/><circle cx="425.0" cy="95.8" r="1.4" fill="#777"/><circle cx="435.8" cy="95.8" r="1.4" fill="#777"/><circle cx="428.6" cy="95.8" r="1.4" fill="#777"/><circle cx="432.2" cy="95.8" r="1.4" fill="#777"/><circle cx="425.0" cy="95.8" r="1.4" fill="#777"/><circle cx="435.8" cy="95.8" r="1.4" fill="#777"/><circle cx="428.6" cy="95.8" r="1.4" fill="#777"/><circle cx="432.2" cy="95.8" r="1.4" fill="#777"/><circle cx="425.0" cy="95.8" r="1.4" fill="#777"/><circle cx="435.8" cy="95.8" r="1.4" fill="#777"/><circle cx="428.6" cy="95.8" r="1.4" fill="#777"/><circle cx="432.2" cy="95.8" r="1.4" fill="#777"/><circle cx="425.0" cy="95.8" r="1.4" fill="#777"/><circle cx="435.8" cy="95.8" r="1.4" fill="#777"/><circle cx="432.4" cy="88.2" r="1.4" fill="#e8e8e8"/><circle cx="428.6" cy="95.8" r="1.4" fill="#777"/><circle cx="432.2" cy="95.8" r="1.4" fill="#777"/><circle cx="425.0" cy="95.8" r="1.4" fill="#777"/><circle cx="435.8" cy="95.8" r="1.4" fill="#777"/><circle cx="428.6" cy="95.8" r="1.4" fill="#777"/><circle cx="432.2" cy="95.8" r="1.4" fill="#777"/><circle cx="425.0" cy="95.8" r="1.4" fill="#777"/><circle cx="435.8" cy="95.8" r="1.4" fill="#777"/><circle cx="428.6" cy="95.8" r="1.4" fill="#777"/><circle cx="432.2" cy="95.8" r="1.4" fill="#777"/><circle cx="425.0" cy="95.8" r="1.4" fill="#777"/><circle cx="435.8" cy="95.8" r="1.4" fill="#777"/><circle cx="428.6" cy="95.8" r="1.4" fill="#777"/><circle cx="432.2" cy="95.8" r="1.4" fill="#777"/><circle cx="427.2" cy="78.4" r="1.4" fill="#e8e8e8"/><circle cx="425.0" cy="95.8" r="1.4" fill="#777"/><circle cx="435.8" cy="95.8" r="1.4" fill="#777"/><circle cx="425.4" cy="86.3" r="1.4" fill="#e8e8e8"/><circle cx="428.6" cy="95.8" r="1.4" fill="#777"/><circle cx="432.2" cy="95.8" r="1.4" fill="#777"/><circle cx="425.0" cy="95.8" r="1.4" fill="#777"/><circle cx="435.8" cy="95.8" r="1.4" fill="#777"/><circle cx="428.6" cy="95.8" r="1.4" fill="#777"/><circle cx="432.2" cy="95.8" r="1.4" fill="#777"/><circle cx="425.0" cy="95.8" r="1.4" fill="#777"/><circle cx="435.8" cy="95.8" r="1.4" fill="#777"/><circle cx="428.6" cy="95.8" r="1.4" fill="#777"/><circle cx="432.2" cy="95.8" r="1.4" fill="#777"/><circle cx="425.0" cy="95.8" r="1.4" fill="#777"/><circle cx="435.8" cy="95.8" r="1.4" fill="#777"/><circle cx="428.6" cy="95.8" r="1.4" fill="#777"/><circle cx="432.2" cy="95.8" r="1.4" fill="#777"/><circle cx="425.0" cy="95.8" r="1.4" fill="#777"/><circle cx="435.8" cy="95.8" r="1.4" fill="#777"/><circle cx="428.6" cy="95.8" r="1.4" fill="#777"/><circle cx="432.2" cy="95.8" r="1.4" fill="#777"/><circle cx="425.0" cy="95.8" r="1.4" fill="#777"/><circle cx="435.8" cy="95.8" r="1.4" fill="#777"/><circle cx="427.7" cy="83.5" r="1.4" fill="#e8e8e8"/><circle cx="428.6" cy="95.8" r="1.4" fill="#777"/><circle cx="432.2" cy="95.8" r="1.4" fill="#777"/><circle cx="425.0" cy="95.8" r="1.4" fill="#777"/><circle cx="436.1" cy="88.2" r="1.4" fill="#e8e8e8"/><circle cx="435.8" cy="95.8" r="1.4" fill="#777"/><circle cx="428.6" cy="95.8" r="1.4" fill="#777"/><circle cx="432.2" cy="95.8" r="1.4" fill="#777"/><circle cx="425.0" cy="95.8" r="1.4" fill="#777"/><circle cx="435.8" cy="95.8" r="1.4" fill="#777"/><circle cx="428.6" cy="95.8" r="1.4" fill="#777"/><circle cx="432.2" cy="95.8" r="1.4" fill="#777"/><circle cx="425.0" cy="95.8" r="1.4" fill="#777"/><circle cx="435.8" cy="95.8" r="1.4" fill="#777"/><circle cx="428.6" cy="95.8" r="1.4" fill="#777"/><circle cx="432.2" cy="95.8" r="1.4" fill="#777"/><circle cx="425.0" cy="95.8" r="1.4" fill="#777"/><circle cx="426.2" cy="84.7" r="1.4" fill="#e8e8e8"/><circle cx="435.8" cy="95.8" r="1.4" fill="#777"/><circle cx="428.6" cy="95.8" r="1.4" fill="#777"/><circle cx="432.2" cy="95.8" r="1.4" fill="#777"/><circle cx="425.0" cy="95.8" r="1.4" fill="#777"/><circle cx="435.8" cy="95.8" r="1.4" fill="#777"/><circle cx="428.6" cy="95.8" r="1.4" fill="#777"/><circle cx="432.2" cy="95.8" r="1.4" fill="#777"/><circle cx="425.0" cy="95.8" r="1.4" fill="#777"/><circle cx="435.8" cy="95.8" r="1.4" fill="#777"/><circle cx="428.6" cy="95.8" r="1.4" fill="#777"/><circle cx="432.2" cy="95.8" r="1.4" fill="#777"/><circle cx="425.0" cy="95.8" r="1.4" fill="#777"/><circle cx="435.8" cy="95.8" r="1.4" fill="#777"/><circle cx="428.6" cy="95.8" r="1.4" fill="#777"/><circle cx="432.2" cy="95.8" r="1.4" fill="#777"/><circle cx="425.0" cy="95.8" r="1.4" fill="#777"/><circle cx="435.8" cy="95.8" r="1.4" fill="#777"/><circle cx="428.6" cy="95.8" r="1.4" fill="#777"/><circle cx="432.2" cy="95.8" r="1.4" fill="#777"/><circle cx="425.0" cy="95.8" r="1.4" fill="#777"/><circle cx="435.8" cy="95.8" r="1.4" fill="#777"/><circle cx="428.6" cy="95.8" r="1.4" fill="#777"/><circle cx="432.2" cy="95.8" r="1.4" fill="#777"/><circle cx="425.0" cy="95.8" r="1.4" fill="#777"/><circle cx="435.8" cy="95.8" r="1.4" fill="#777"/><circle cx="428.6" cy="95.8" r="1.4" fill="#777"/><circle cx="432.2" cy="95.8" r="1.4" fill="#777"/><circle cx="425.0" cy="95.8" r="1.4" fill="#777"/><circle cx="428.6" cy="91.0" r="1.4" fill="#e8e8e8"/><circle cx="435.8" cy="95.8" r="1.4" fill="#777"/><circle cx="428.6" cy="95.8" r="1.4" fill="#777"/><circle cx="432.2" cy="95.8" r="1.4" fill="#777"/><circle cx="425.0" cy="95.8" r="1.4" fill="#777"/><circle cx="435.8" cy="95.8" r="1.4" fill="#777"/><circle cx="428.6" cy="95.8" r="1.4" fill="#777"/><circle cx="432.2" cy="95.8" r="1.4" fill="#777"/><circle cx="425.0" cy="95.8" r="1.4" fill="#777"/><circle cx="435.8" cy="95.8" r="1.4" fill="#777"/><circle cx="428.6" cy="95.8" r="1.4" fill="#777"/><circle cx="432.2" cy="95.8" r="1.4" fill="#777"/><circle cx="425.0" cy="95.8" r="1.4" fill="#777"/><circle cx="435.8" cy="95.8" r="1.4" fill="#777"/><circle cx="428.6" cy="95.8" r="1.4" fill="#777"/><circle cx="432.2" cy="95.8" r="1.4" fill="#777"/><circle cx="425.0" cy="95.8" r="1.4" fill="#777"/><circle cx="435.8" cy="95.8" r="1.4" fill="#777"/><circle cx="428.6" cy="95.8" r="1.4" fill="#777"/><circle cx="432.2" cy="95.8" r="1.4" fill="#777"/><circle cx="425.0" cy="95.8" r="1.4" fill="#777"/><circle cx="435.8" cy="95.8" r="1.4" fill="#777"/><circle cx="428.6" cy="95.8" r="1.4" fill="#777"/><circle cx="432.2" cy="95.8" r="1.4" fill="#777"/><circle cx="425.0" cy="95.8" r="1.4" fill="#777"/><circle cx="435.8" cy="95.8" r="1.4" fill="#777"/><circle cx="428.6" cy="95.8" r="1.4" fill="#777"/><circle cx="432.2" cy="95.8" r="1.4" fill="#777"/><circle cx="425.0" cy="95.8" r="1.4" fill="#777"/><circle cx="435.8" cy="95.8" r="1.4" fill="#777"/><circle cx="428.6" cy="95.8" r="1.4" fill="#777"/><circle cx="432.2" cy="95.8" r="1.4" fill="#777"/><circle cx="425.0" cy="95.8" r="1.4" fill="#777"/><circle cx="435.8" cy="95.8" r="1.4" fill="#777"/><circle cx="452.1" cy="95.8" r="1.4" fill="#777"/><circle cx="455.7" cy="95.8" r="1.4" fill="#777"/><circle cx="448.5" cy="95.8" r="1.4" fill="#777"/><circle cx="459.3" cy="95.8" r="1.4" fill="#777"/><circle cx="452.1" cy="95.8" r="1.4" fill="#777"/><circle cx="455.7" cy="95.8" r="1.4" fill="#777"/><circle cx="448.5" cy="95.8" r="1.4" fill="#777"/><circle cx="459.3" cy="95.8" r="1.4" fill="#777"/><circle cx="452.1" cy="95.8" r="1.4" fill="#777"/><circle cx="455.7" cy="95.8" r="1.4" fill="#777"/><circle cx="448.5" cy="95.8" r="1.4" fill="#777"/><circle cx="459.3" cy="95.8" r="1.4" fill="#777"/><circle cx="452.1" cy="95.8" r="1.4" fill="#777"/><circle cx="455.7" cy="95.8" r="1.4" fill="#777"/><circle cx="448.5" cy="95.8" r="1.4" fill="#777"/><circle cx="459.3" cy="95.8" r="1.4" fill="#777"/><circle cx="452.1" cy="95.8" r="1.4" fill="#777"/><circle cx="455.7" cy="95.8" r="1.4" fill="#777"/><circle cx="448.5" cy="95.8" r="1.4" fill="#777"/><circle cx="459.3" cy="95.8" r="1.4" fill="#777"/><circle cx="452.1" cy="95.8" r="1.4" fill="#777"/><circle cx="455.7" cy="95.8" r="1.4" fill="#777"/><circle cx="448.5" cy="95.8" r="1.4" fill="#777"/><circle cx="459.3" cy="95.8" r="1.4" fill="#777"/><circle cx="452.1" cy="95.8" r="1.4" fill="#777"/><circle cx="455.7" cy="95.8" r="1.4" fill="#777"/><circle cx="448.5" cy="95.8" r="1.4" fill="#777"/><circle cx="459.3" cy="95.8" r="1.4" fill="#777"/><circle cx="452.1" cy="95.8" r="1.4" fill="#777"/><circle cx="455.7" cy="95.8" r="1.4" fill="#777"/><circle cx="448.5" cy="95.8" r="1.4" fill="#777"/><circle cx="459.3" cy="95.8" r="1.4" fill="#777"/><circle cx="452.1" cy="95.8" r="1.4" fill="#777"/><circle cx="455.7" cy="95.8" r="1.4" fill="#777"/><circle cx="448.5" cy="95.8" r="1.4" fill="#777"/><circle cx="459.3" cy="95.8" r="1.4" fill="#777"/><circle cx="454.4" cy="78.4" r="1.4" fill="#e8e8e8"/><circle cx="452.1" cy="95.8" r="1.4" fill="#777"/><circle cx="455.7" cy="95.8" r="1.4" fill="#777"/><circle cx="448.5" cy="95.8" r="1.4" fill="#777"/><circle cx="459.3" cy="95.8" r="1.4" fill="#777"/><circle cx="452.1" cy="95.8" r="1.4" fill="#777"/><circle cx="455.7" cy="95.8" r="1.4" fill="#777"/><circle cx="448.5" cy="95.8" r="1.4" fill="#777"/><circle cx="459.3" cy="95.8" r="1.4" fill="#777"/><circle cx="452.1" cy="95.8" r="1.4" fill="#777"/><circle cx="455.7" cy="95.8" r="1.4" fill="#777"/><circle cx="448.5" cy="95.8" r="1.4" fill="#777"/><circle cx="459.3" cy="95.8" r="1.4" fill="#777"/><circle cx="452.1" cy="95.8" r="1.4" fill="#777"/><circle cx="455.7" cy="95.8" r="1.4" fill="#777"/><circle cx="448.5" cy="95.8" r="1.4" fill="#777"/><circle cx="459.3" cy="95.8" r="1.4" fill="#777"/><circle cx="452.1" cy="95.8" r="1.4" fill="#777"/><circle cx="455.7" cy="95.8" r="1.4" fill="#777"/><circle cx="448.5" cy="95.8" r="1.4" fill="#777"/><circle cx="459.3" cy="95.8" r="1.4" fill="#777"/><circle cx="452.1" cy="95.8" r="1.4" fill="#777"/><circle cx="455.7" cy="95.8" r="1.4" fill="#777"/><circle cx="448.5" cy="95.8" r="1.4" fill="#777"/><circle cx="459.3" cy="95.8" r="1.4" fill="#777"/><circle cx="452.1" cy="95.8" r="1.4" fill="#777"/><circle cx="455.0" cy="72.0" r="1.4" fill="#e8e8e8"/><circle cx="455.7" cy="95.8" r="1.4" fill="#777"/><circle cx="448.5" cy="95.8" r="1.4" fill="#777"/><circle cx="459.3" cy="95.8" r="1.4" fill="#777"/><circle cx="452.1" cy="95.8" r="1.4" fill="#777"/><circle cx="455.7" cy="95.8" r="1.4" fill="#777"/><circle cx="448.5" cy="95.8" r="1.4" fill="#777"/><circle cx="459.3" cy="95.8" r="1.4" fill="#777"/><circle cx="452.1" cy="95.8" r="1.4" fill="#777"/><circle cx="455.7" cy="95.8" r="1.4" fill="#777"/><circle cx="448.5" cy="95.8" r="1.4" fill="#777"/><circle cx="459.3" cy="95.8" r="1.4" fill="#777"/><circle cx="452.1" cy="95.8" r="1.4" fill="#777"/><circle cx="455.7" cy="95.8" r="1.4" fill="#777"/><circle cx="448.5" cy="95.8" r="1.4" fill="#777"/><circle cx="459.3" cy="95.8" r="1.4" fill="#777"/><circle cx="452.1" cy="95.8" r="1.4" fill="#777"/><circle cx="455.7" cy="95.8" r="1.4" fill="#777"/><circle cx="448.5" cy="95.8" r="1.4" fill="#777"/><circle cx="459.3" cy="95.8" r="1.4" fill="#777"/><circle cx="452.1" cy="88.2" r="1.4" fill="#e8e8e8"/><circle cx="455.7" cy="86.3" r="1.4" fill="#e8e8e8"/><circle cx="452.1" cy="95.8" r="1.4" fill="#777"/><circle cx="455.7" cy="95.8" r="1.4" fill="#777"/><circle cx="448.5" cy="95.8" r="1.4" fill="#777"/><circle cx="459.3" cy="95.8" r="1.4" fill="#777"/><circle cx="452.1" cy="95.8" r="1.4" fill="#777"/><circle cx="452.1" cy="91.0" r="1.4" fill="#e8e8e8"/><circle cx="455.7" cy="95.8" r="1.4" fill="#777"/><circle cx="448.5" cy="95.8" r="1.4" fill="#777"/><circle cx="459.3" cy="95.8" r="1.4" fill="#777"/><circle cx="452.1" cy="95.8" r="1.4" fill="#777"/><circle cx="455.7" cy="95.8" r="1.4" fill="#777"/><circle cx="448.5" cy="95.8" r="1.4" fill="#777"/><circle cx="459.3" cy="95.8" r="1.4" fill="#777"/><circle cx="452.1" cy="95.8" r="1.4" fill="#777"/><circle cx="455.7" cy="95.8" r="1.4" fill="#777"/><circle cx="448.5" cy="95.8" r="1.4" fill="#777"/><circle cx="459.3" cy="95.8" r="1.4" fill="#777"/><circle cx="452.1" cy="95.8" r="1.4" fill="#777"/><circle cx="455.7" cy="95.8" r="1.4" fill="#777"/><circle cx="448.5" cy="95.8" r="1.4" fill="#777"/><circle cx="459.3" cy="95.8" r="1.4" fill="#777"/><circle cx="452.1" cy="95.8" r="1.4" fill="#777"/><circle cx="455.7" cy="95.8" r="1.4" fill="#777"/><circle cx="448.5" cy="95.8" r="1.4" fill="#777"/><circle cx="459.3" cy="95.8" r="1.4" fill="#777"/><circle cx="452.1" cy="95.8" r="1.4" fill="#777"/><circle cx="455.7" cy="95.8" r="1.4" fill="#777"/><circle cx="448.5" cy="95.8" r="1.4" fill="#777"/><circle cx="459.3" cy="95.8" r="1.4" fill="#777"/><circle cx="452.1" cy="95.8" r="1.4" fill="#777"/><circle cx="455.7" cy="95.8" r="1.4" fill="#777"/><circle cx="448.5" cy="95.8" r="1.4" fill="#777"/><circle cx="459.3" cy="95.8" r="1.4" fill="#777"/><circle cx="452.1" cy="95.8" r="1.4" fill="#777"/><circle cx="455.7" cy="95.8" r="1.4" fill="#777"/><circle cx="448.5" cy="95.8" r="1.4" fill="#777"/><circle cx="459.3" cy="95.8" r="1.4" fill="#777"/><circle cx="452.1" cy="95.8" r="1.4" fill="#777"/><circle cx="455.7" cy="95.8" r="1.4" fill="#777"/><circle cx="448.5" cy="95.8" r="1.4" fill="#777"/><circle cx="459.3" cy="95.8" r="1.4" fill="#777"/><circle cx="452.1" cy="95.8" r="1.4" fill="#777"/><circle cx="455.7" cy="95.8" r="1.4" fill="#777"/><circle cx="448.5" cy="95.8" r="1.4" fill="#777"/><circle cx="459.3" cy="95.8" r="1.4" fill="#777"/><circle cx="452.1" cy="95.8" r="1.4" fill="#777"/><circle cx="455.7" cy="95.8" r="1.4" fill="#777"/><circle cx="448.5" cy="95.8" r="1.4" fill="#777"/><circle cx="459.3" cy="95.8" r="1.4" fill="#777"/><circle cx="452.1" cy="95.8" r="1.4" fill="#777"/><circle cx="455.7" cy="95.8" r="1.4" fill="#777"/><circle cx="448.5" cy="95.8" r="1.4" fill="#777"/><circle cx="459.3" cy="95.8" r="1.4" fill="#777"/><circle cx="452.1" cy="95.8" r="1.4" fill="#777"/><circle cx="455.7" cy="95.8" r="1.4" fill="#777"/><circle cx="448.5" cy="95.8" r="1.4" fill="#777"/><circle cx="459.3" cy="95.8" r="1.4" fill="#777"/><circle cx="452.1" cy="95.8" r="1.4" fill="#777"/><circle cx="455.7" cy="95.8" r="1.4" fill="#777"/><circle cx="448.5" cy="95.8" r="1.4" fill="#777"/><circle cx="459.3" cy="95.8" r="1.4" fill="#777"/><circle cx="452.1" cy="95.8" r="1.4" fill="#777"/><circle cx="455.7" cy="95.8" r="1.4" fill="#777"/><circle cx="448.5" cy="95.8" r="1.4" fill="#777"/><circle cx="459.3" cy="95.8" r="1.4" fill="#777"/><circle cx="452.1" cy="95.8" r="1.4" fill="#777"/><circle cx="455.7" cy="95.8" r="1.4" fill="#777"/><circle cx="448.5" cy="95.8" r="1.4" fill="#777"/><circle cx="459.3" cy="95.8" r="1.4" fill="#777"/><circle cx="452.1" cy="95.8" r="1.4" fill="#777"/><circle cx="455.7" cy="95.8" r="1.4" fill="#777"/><circle cx="448.5" cy="95.8" r="1.4" fill="#777"/><circle cx="459.3" cy="95.8" r="1.4" fill="#777"/><circle cx="452.1" cy="95.8" r="1.4" fill="#777"/><circle cx="455.7" cy="95.8" r="1.4" fill="#777"/><circle cx="448.5" cy="95.8" r="1.4" fill="#777"/><circle cx="459.3" cy="95.8" r="1.4" fill="#777"/><circle cx="452.1" cy="95.8" r="1.4" fill="#777"/><circle cx="455.7" cy="95.8" r="1.4" fill="#777"/><circle cx="448.5" cy="88.2" r="1.4" fill="#e8e8e8"/><circle cx="448.5" cy="95.8" r="1.4" fill="#777"/><circle cx="459.3" cy="95.8" r="1.4" fill="#777"/><circle cx="452.1" cy="95.8" r="1.4" fill="#777"/><circle cx="455.7" cy="95.8" r="1.4" fill="#777"/><circle cx="448.5" cy="95.8" r="1.4" fill="#777"/><circle cx="459.3" cy="95.8" r="1.4" fill="#777"/><circle cx="452.1" cy="95.8" r="1.4" fill="#777"/><circle cx="455.7" cy="95.8" r="1.4" fill="#777"/><circle cx="448.5" cy="95.8" r="1.4" fill="#777"/><circle cx="459.3" cy="95.8" r="1.4" fill="#777"/><circle cx="452.1" cy="95.8" r="1.4" fill="#777"/><circle cx="459.3" cy="88.2" r="1.4" fill="#e8e8e8"/><circle cx="455.7" cy="95.8" r="1.4" fill="#777"/><circle cx="448.5" cy="95.8" r="1.4" fill="#777"/><circle cx="459.3" cy="95.8" r="1.4" fill="#777"/><circle cx="452.1" cy="95.8" r="1.4" fill="#777"/><circle cx="455.7" cy="95.8" r="1.4" fill="#777"/><circle cx="455.7" cy="91.0" r="1.4" fill="#e8e8e8"/><circle cx="448.5" cy="95.8" r="1.4" fill="#777"/><circle cx="455.0" cy="70.1" r="1.4" fill="#e8e8e8"/><circle cx="459.3" cy="95.8" r="1.4" fill="#777"/><circle cx="452.1" cy="95.8" r="1.4" fill="#777"/><circle cx="455.7" cy="95.8" r="1.4" fill="#777"/><circle cx="448.5" cy="95.8" r="1.4" fill="#777"/><circle cx="459.3" cy="95.8" r="1.4" fill="#777"/><circle cx="452.2" cy="86.3" r="1.4" fill="#e8e8e8"/><circle cx="452.1" cy="95.8" r="1.4" fill="#777"/><circle cx="455.7" cy="95.8" r="1.4" fill="#777"/><circle cx="448.5" cy="95.8" r="1.4" fill="#777"/><circle cx="459.3" cy="95.8" r="1.4" fill="#777"/><circle cx="452.1" cy="95.8" r="1.4" fill="#777"/><circle cx="455.7" cy="95.8" r="1.4" fill="#777"/><circle cx="448.5" cy="95.8" r="1.4" fill="#777"/><circle cx="459.3" cy="95.8" r="1.4" fill="#777"/><circle cx="455.7" cy="88.2" r="1.4" fill="#e8e8e8"/><circle cx="452.1" cy="95.8" r="1.4" fill="#777"/><circle cx="455.7" cy="95.8" r="1.4" fill="#777"/><circle cx="448.5" cy="95.8" r="1.4" fill="#777"/><circle cx="459.3" cy="95.8" r="1.4" fill="#777"/><circle cx="452.1" cy="95.8" r="1.4" fill="#777"/><circle cx="455.7" cy="95.8" r="1.4" fill="#777"/><circle cx="448.5" cy="95.8" r="1.4" fill="#777"/><circle cx="448.5" cy="91.0" r="1.4" fill="#e8e8e8"/><circle cx="459.3" cy="95.8" r="1.4" fill="#777"/><circle cx="452.1" cy="95.8" r="1.4" fill="#777"/><circle cx="455.7" cy="95.8" r="1.4" fill="#777"/><circle cx="448.5" cy="95.8" r="1.4" fill="#777"/><circle cx="459.3" cy="95.8" r="1.4" fill="#777"/><circle cx="452.1" cy="95.8" r="1.4" fill="#777"/><circle cx="455.7" cy="95.8" r="1.4" fill="#777"/><circle cx="448.5" cy="95.8" r="1.4" fill="#777"/><circle cx="459.3" cy="95.8" r="1.4" fill="#777"/><circle cx="452.1" cy="95.8" r="1.4" fill="#777"/><circle cx="455.7" cy="95.8" r="1.4" fill="#777"/><circle cx="448.5" cy="95.8" r="1.4" fill="#777"/><circle cx="459.3" cy="95.8" r="1.4" fill="#777"/><circle cx="452.1" cy="95.8" r="1.4" fill="#777"/><circle cx="455.7" cy="95.8" r="1.4" fill="#777"/><circle cx="459.3" cy="91.0" r="1.4" fill="#e8e8e8"/><circle cx="448.5" cy="95.8" r="1.4" fill="#777"/><circle cx="459.3" cy="95.8" r="1.4" fill="#777"/><circle cx="452.1" cy="95.8" r="1.4" fill="#777"/><circle cx="455.7" cy="95.8" r="1.4" fill="#777"/><circle cx="448.5" cy="95.8" r="1.4" fill="#777"/><circle cx="459.3" cy="95.8" r="1.4" fill="#777"/><circle cx="452.1" cy="95.8" r="1.4" fill="#777"/><circle cx="455.7" cy="95.8" r="1.4" fill="#777"/><circle cx="448.5" cy="95.8" r="1.4" fill="#777"/><circle cx="459.3" cy="95.8" r="1.4" fill="#777"/><circle cx="452.1" cy="95.8" r="1.4" fill="#777"/><circle cx="455.7" cy="95.8" r="1.4" fill="#777"/><circle cx="448.5" cy="95.8" r="1.4" fill="#777"/><circle cx="459.3" cy="95.8" r="1.4" fill="#777"/><circle cx="452.1" cy="95.8" r="1.4" fill="#777"/><circle cx="455.7" cy="95.8" r="1.4" fill="#777"/><circle cx="448.5" cy="95.8" r="1.4" fill="#777"/><circle cx="459.3" cy="95.8" r="1.4" fill="#777"/><circle cx="452.1" cy="95.8" r="1.4" fill="#777"/><circle cx="455.7" cy="95.8" r="1.4" fill="#777"/><circle cx="448.5" cy="95.8" r="1.4" fill="#777"/><circle cx="449.4" cy="79.9" r="1.4" fill="#e8e8e8"/><circle cx="459.3" cy="95.8" r="1.4" fill="#777"/><circle cx="452.1" cy="95.8" r="1.4" fill="#777"/><circle cx="455.7" cy="95.8" r="1.4" fill="#777"/><circle cx="448.5" cy="95.8" r="1.4" fill="#777"/><circle cx="459.3" cy="95.8" r="1.4" fill="#777"/><circle cx="452.1" cy="95.8" r="1.4" fill="#777"/><circle cx="455.7" cy="95.8" r="1.4" fill="#777"/><circle cx="448.5" cy="95.8" r="1.4" fill="#777"/><circle cx="459.3" cy="95.8" r="1.4" fill="#777"/><circle cx="452.1" cy="95.8" r="1.4" fill="#777"/><circle cx="455.7" cy="95.8" r="1.4" fill="#777"/><circle cx="448.5" cy="95.8" r="1.4" fill="#777"/><circle cx="459.3" cy="95.8" r="1.4" fill="#777"/><circle cx="452.1" cy="95.8" r="1.4" fill="#777"/><circle cx="455.7" cy="95.8" r="1.4" fill="#777"/><circle cx="456.6" cy="84.7" r="1.4" fill="#e8e8e8"/><circle cx="448.5" cy="95.8" r="1.4" fill="#777"/><circle cx="459.3" cy="95.8" r="1.4" fill="#777"/><circle cx="452.1" cy="95.8" r="1.4" fill="#777"/><circle cx="455.7" cy="95.8" r="1.4" fill="#777"/><circle cx="448.5" cy="95.8" r="1.4" fill="#777"/><circle cx="456.1" cy="84.7" r="1.4" fill="#e8e8e8"/><circle cx="459.3" cy="95.8" r="1.4" fill="#777"/><circle cx="452.1" cy="95.8" r="1.4" fill="#777"/><circle cx="455.7" cy="95.8" r="1.4" fill="#777"/><circle cx="448.5" cy="95.8" r="1.4" fill="#777"/><circle cx="459.3" cy="95.8" r="1.4" fill="#777"/><circle cx="452.1" cy="95.8" r="1.4" fill="#777"/><circle cx="455.7" cy="95.8" r="1.4" fill="#777"/><circle cx="448.5" cy="95.8" r="1.4" fill="#777"/><circle cx="459.3" cy="95.8" r="1.4" fill="#777"/><circle cx="452.1" cy="95.8" r="1.4" fill="#777"/><circle cx="455.7" cy="95.8" r="1.4" fill="#777"/><circle cx="448.5" cy="95.8" r="1.4" fill="#777"/><circle cx="459.3" cy="95.8" r="1.4" fill="#777"/><circle cx="452.1" cy="95.8" r="1.4" fill="#777"/><circle cx="455.7" cy="95.8" r="1.4" fill="#777"/><circle cx="448.5" cy="95.8" r="1.4" fill="#777"/><circle cx="459.3" cy="95.8" r="1.4" fill="#777"/><circle cx="452.1" cy="95.8" r="1.4" fill="#777"/><circle cx="455.7" cy="95.8" r="1.4" fill="#777"/><circle cx="453.9" cy="82.3" r="1.4" fill="#e8e8e8"/><circle cx="448.5" cy="86.3" r="1.4" fill="#e8e8e8"/><circle cx="448.5" cy="95.8" r="1.4" fill="#777"/><circle cx="459.3" cy="95.8" r="1.4" fill="#777"/><circle cx="452.1" cy="95.8" r="1.4" fill="#777"/><circle cx="455.7" cy="95.8" r="1.4" fill="#777"/><circle cx="448.5" cy="95.8" r="1.4" fill="#777"/><circle cx="459.3" cy="95.8" r="1.4" fill="#777"/><circle cx="452.1" cy="95.8" r="1.4" fill="#777"/><circle cx="455.7" cy="95.8" r="1.4" fill="#777"/><circle cx="448.5" cy="95.8" r="1.4" fill="#777"/><circle cx="459.3" cy="95.8" r="1.4" fill="#777"/><circle cx="452.1" cy="95.8" r="1.4" fill="#777"/><circle cx="455.7" cy="95.8" r="1.4" fill="#777"/><circle cx="448.5" cy="95.8" r="1.4" fill="#777"/><circle cx="459.3" cy="95.8" r="1.4" fill="#777"/><circle cx="452.1" cy="95.8" r="1.4" fill="#777"/><circle cx="455.3" cy="76.0" r="1.4" fill="#e8e8e8"/><circle cx="455.7" cy="95.8" r="1.4" fill="#777"/><circle cx="448.5" cy="95.8" r="1.4" fill="#777"/><circle cx="459.3" cy="95.8" r="1.4" fill="#777"/><circle cx="452.1" cy="95.8" r="1.4" fill="#777"/><circle cx="455.7" cy="95.8" r="1.4" fill="#777"/><circle cx="448.5" cy="95.8" r="1.4" fill="#777"/><circle cx="459.3" cy="95.8" r="1.4" fill="#777"/><circle cx="452.1" cy="95.8" r="1.4" fill="#777"/><circle cx="455.7" cy="95.8" r="1.4" fill="#777"/><circle cx="448.5" cy="95.8" r="1.4" fill="#777"/><circle cx="459.3" cy="95.8" r="1.4" fill="#777"/><circle cx="452.1" cy="91.0" r="1.4" fill="#e8e8e8"/><circle cx="452.1" cy="95.8" r="1.4" fill="#777"/><circle cx="455.7" cy="95.8" r="1.4" fill="#777"/><circle cx="448.5" cy="95.8" r="1.4" fill="#777"/><circle cx="459.3" cy="95.8" r="1.4" fill="#777"/><circle cx="475.8" cy="95.8" r="1.4" fill="#777"/><circle cx="479.4" cy="95.8" r="1.4" fill="#777"/><circle cx="475.8" cy="86.1" r="1.4" fill="#959595"/><circle cx="475.8" cy="91.0" r="1.4" fill="#555"/><circle cx="472.2" cy="95.8" r="1.4" fill="#777"/><circle cx="483.0" cy="95.8" r="1.4" fill="#777"/><circle cx="475.8" cy="68.4" r="1.4" fill="#888888"/><circle cx="475.8" cy="75.8" r="1.4" fill="#cccccc"/><circle cx="479.4" cy="74.9" r="1.4" fill="#cccccc"/><circle cx="475.8" cy="95.8" r="1.4" fill="#777"/><circle cx="479.4" cy="91.0" r="1.4" fill="#555"/><circle cx="479.4" cy="95.8" r="1.4" fill="#777"/><circle cx="475.8" cy="73.6" r="1.4" fill="#959595"/><circle cx="475.8" cy="82.6" r="1.4" fill="#585858"/><circle cx="472.2" cy="95.8" r="1.4" fill="#777"/><circle cx="483.0" cy="95.8" r="1.4" fill="#777"/><circle cx="479.4" cy="86.2" r="1.4" fill="#959595"/><circle cx="475.8" cy="95.8" r="1.4" fill="#777"/><circle cx="479.4" cy="95.8" r="1.4" fill="#777"/><circle cx="479.4" cy="83.5" r="1.4" fill="#585858"/><circle cx="472.2" cy="91.0" r="1.4" fill="#555"/><circle cx="472.2" cy="95.8" r="1.4" fill="#777"/><circle cx="475.8" cy="65.5" r="1.4" fill="#b8b8b8"/><circle cx="483.0" cy="95.8" r="1.4" fill="#777"/><circle cx="483.0" cy="91.0" r="1.4" fill="#555"/><circle cx="475.8" cy="95.8" r="1.4" fill="#777"/><circle cx="479.4" cy="95.8" r="1.4" fill="#777"/><circle cx="472.2" cy="95.8" r="1.4" fill="#777"/><circle cx="479.4" cy="68.0" r="1.4" fill="#888888"/><circle cx="483.0" cy="95.8" r="1.4" fill="#777"/><circle cx="475.8" cy="95.8" r="1.4" fill="#777"/><circle cx="475.8" cy="87.3" r="1.4" fill="#9c9c9c"/><circle cx="475.8" cy="91.0" r="1.4" fill="#555"/><circle cx="479.4" cy="86.4" r="1.4" fill="#9c9c9c"/><circle cx="479.4" cy="95.8" r="1.4" fill="#777"/><circle cx="472.2" cy="95.8" r="1.4" fill="#777"/><circle cx="483.0" cy="95.8" r="1.4" fill="#777"/><circle cx="479.4" cy="91.0" r="1.4" fill="#555"/><circle cx="475.8" cy="95.8" r="1.4" fill="#777"/><circle cx="475.8" cy="70.6" r="1.4" fill="#b8b8b8"/><circle cx="479.4" cy="95.8" r="1.4" fill="#777"/><circle cx="472.2" cy="95.8" r="1.4" fill="#777"/><circle cx="472.2" cy="88.7" r="1.4" fill="#9c9c9c"/><circle cx="483.0" cy="95.8" r="1.4" fill="#777"/><circle cx="475.8" cy="78.3" r="1.4" fill="#737373"/><circle cx="472.2" cy="83.3" r="1.4" fill="#585858"/><circle cx="475.8" cy="95.8" r="1.4" fill="#777"/><circle cx="472.2" cy="67.0" r="1.4" fill="#888888"/><circle cx="472.2" cy="91.0" r="1.4" fill="#555"/><circle cx="475.8" cy="80.8" r="1.4" fill="#b1b1b1"/><circle cx="483.0" cy="82.1" r="1.4" fill="#585858"/><circle cx="472.2" cy="84.1" r="1.4" fill="#959595"/><circle cx="479.4" cy="71.6" r="1.4" fill="#959595"/><circle cx="483.0" cy="87.9" r="1.4" fill="#9c9c9c"/><circle cx="483.0" cy="66.7" r="1.4" fill="#888888"/><circle cx="476.0" cy="88.6" r="1.4" fill="#9c9c9c"/><circle cx="483.0" cy="85.4" r="1.4" fill="#959595"/><circle cx="479.4" cy="95.8" r="1.4" fill="#777"/><circle cx="472.2" cy="95.8" r="1.4" fill="#777"/><circle cx="479.4" cy="78.1" r="1.4" fill="#737373"/><circle cx="479.2" cy="86.3" r="1.4" fill="#9c9c9c"/><circle cx="472.2" cy="72.6" r="1.4" fill="#959595"/><circle cx="483.0" cy="95.8" r="1.4" fill="#777"/><circle cx="475.8" cy="57.0" r="1.4" fill="#e8e8e8"/><circle cx="475.8" cy="95.8" r="1.4" fill="#777"/><circle cx="479.4" cy="95.8" r="1.4" fill="#777"/><circle cx="472.2" cy="76.4" r="1.4" fill="#737373"/><circle cx="483.0" cy="91.0" r="1.4" fill="#555"/><circle cx="475.8" cy="91.0" r="1.4" fill="#555"/><circle cx="479.4" cy="65.5" r="1.4" fill="#b8b8b8"/><circle cx="472.2" cy="95.8" r="1.4" fill="#777"/><circle cx="483.0" cy="72.6" r="1.4" fill="#959595"/><circle cx="483.0" cy="95.8" r="1.4" fill="#777"/><circle cx="475.8" cy="95.8" r="1.4" fill="#777"/><circle cx="483.0" cy="77.5" r="1.4" fill="#737373"/><circle cx="479.4" cy="68.8" r="1.4" fill="#b8b8b8"/><circle cx="479.4" cy="95.8" r="1.4" fill="#777"/><circle cx="472.2" cy="95.8" r="1.4" fill="#777"/><circle cx="475.8" cy="61.2" r="1.4" fill="#e8e8e8"/><circle cx="483.0" cy="95.8" r="1.4" fill="#777"/><circle cx="475.8" cy="61.4" r="1.4" fill="#e8e8e8"/><circle cx="475.8" cy="95.8" r="1.4" fill="#777"/><circle cx="479.4" cy="95.8" r="1.4" fill="#777"/><circle cx="475.6" cy="77.6" r="1.4" fill="#737373"/><circle cx="472.2" cy="95.8" r="1.4" fill="#777"/><circle cx="479.4" cy="91.0" r="1.4" fill="#555"/><circle cx="483.0" cy="95.8" r="1.4" fill="#777"/><circle cx="475.9" cy="71.3" r="1.4" fill="#959595"/><circle cx="475.8" cy="95.8" r="1.4" fill="#777"/><circle cx="479.4" cy="63.7" r="1.4" fill="#e8e8e8"/><circle cx="479.4" cy="95.8" r="1.4" fill="#777"/><circle cx="472.2" cy="95.8" r="1.4" fill="#777"/><circle cx="479.3" cy="72.8" r="1.4" fill="#959595"/><circle cx="483.0" cy="95.8" r="1.4" fill="#777"/><circle cx="475.8" cy="95.8" r="1.4" fill="#777"/><circle cx="475.7" cy="86.0" r="1.4" fill="#959595"/><circle cx="479.4" cy="80.1" r="1.4" fill="#b1b1b1"/><circle cx="472.2" cy="91.0" r="1.4" fill="#555"/><circle cx="479.4" cy="95.8" r="1.4" fill="#777"/><circle cx="472.2" cy="95.8" r="1.4" fill="#777"/><circle cx="483.0" cy="91.0" r="1.4" fill="#555"/><circle cx="471.8" cy="73.2" r="1.4" fill="#959595"/><circle cx="475.8" cy="91.0" r="1.4" fill="#555"/><circle cx="479.4" cy="91.0" r="1.4" fill="#555"/><circle cx="483.0" cy="95.8" r="1.4" fill="#777"/><circle cx="475.8" cy="95.8" r="1.4" fill="#777"/><circle cx="472.2" cy="91.0" r="1.4" fill="#555"/><circle cx="483.0" cy="91.0" r="1.4" fill="#555"/><circle cx="479.4" cy="95.8" r="1.4" fill="#777"/><circle cx="475.8" cy="82.8" r="1.4" fill="#585858"/><circle cx="483.1" cy="73.7" r="1.4" fill="#959595"/><circle cx="472.2" cy="95.8" r="1.4" fill="#777"/><circle cx="472.2" cy="75.4" r="1.4" fill="#cccccc"/><circle cx="483.0" cy="95.8" r="1.4" fill="#777"/><circle cx="472.2" cy="79.6" r="1.4" fill="#b1b1b1"/><circle cx="475.8" cy="95.8" r="1.4" fill="#777"/><circle cx="479.0" cy="84.2" r="1.4" fill="#959595"/><circle cx="471.8" cy="85.6" r="1.4" fill="#959595"/><circle cx="479.4" cy="95.8" r="1.4" fill="#777"/><circle cx="479.5" cy="83.5" r="1.4" fill="#585858"/><circle cx="472.2" cy="95.8" r="1.4" fill="#777"/><circle cx="483.0" cy="95.8" r="1.4" fill="#777"/><circle cx="475.8" cy="95.8" r="1.4" fill="#777"/><circle cx="472.0" cy="83.1" r="1.4" fill="#585858"/><circle cx="479.4" cy="95.8" r="1.4" fill="#777"/><circle cx="483.0" cy="83.9" r="1.4" fill="#959595"/><circle cx="472.2" cy="95.8" r="1.4" fill="#777"/><circle cx="472.2" cy="86.5" r="1.4" fill="#9c9c9c"/><circle cx="483.0" cy="78.8" r="1.4" fill="#b1b1b1"/><circle cx="482.9" cy="83.1" r="1.4" fill="#585858"/><circle cx="483.0" cy="95.8" r="1.4" fill="#777"/><circle cx="475.6" cy="72.8" r="1.4" fill="#959595"/><circle cx="475.8" cy="95.8" r="1.4" fill="#777"/><circle cx="479.4" cy="95.8" r="1.4" fill="#777"/><circle cx="475.5" cy="67.4" r="1.4" fill="#888888"/><circle cx="479.3" cy="72.4" r="1.4" fill="#959595"/><circle cx="472.2" cy="95.8" r="1.4" fill="#777"/><circle cx="472.2" cy="66.0" r="1.4" fill="#b8b8b8"/><circle cx="476.1" cy="83.0" r="1.4" fill="#585858"/><circle cx="479.1" cy="67.2" r="1.4" fill="#888888"/><circle cx="475.8" cy="91.0" r="1.4" fill="#555"/><circle cx="479.0" cy="82.7" r="1.4" fill="#585858"/><circle cx="475.8" cy="89.1" r="1.4" fill="#e8e8e8"/><circle cx="472.4" cy="82.9" r="1.4" fill="#585858"/><circle cx="483.2" cy="88.5" r="1.4" fill="#9c9c9c"/><circle cx="483.0" cy="95.8" r="1.4" fill="#777"/><circle cx="479.4" cy="88.9" r="1.4" fill="#e8e8e8"/><circle cx="475.8" cy="95.8" r="1.4" fill="#777"/><circle cx="475.8" cy="86.9" r="1.4" fill="#9c9c9c"/><circle cx="479.4" cy="91.0" r="1.4" fill="#555"/><circle cx="479.4" cy="95.8" r="1.4" fill="#777"/><circle cx="472.2" cy="95.8" r="1.4" fill="#777"/><circle cx="471.9" cy="73.5" r="1.4" fill="#959595"/><circle cx="475.5" cy="79.1" r="1.4" fill="#b1b1b1"/><circle cx="483.0" cy="95.8" r="1.4" fill="#777"/><circle cx="475.8" cy="95.8" r="1.4" fill="#777"/><circle cx="479.4" cy="95.8" r="1.4" fill="#777"/><circle cx="472.2" cy="91.0" r="1.4" fill="#555"/><circle cx="475.9" cy="85.9" r="1.4" fill="#959595"/><circle cx="483.0" cy="91.0" r="1.4" fill="#555"/><circle cx="472.2" cy="95.8" r="1.4" fill="#777"/><circle cx="472.2" cy="70.9" r="1.4" fill="#b8b8b8"/><circle cx="483.0" cy="95.8" r="1.4" fill="#777"/><circle cx="483.0" cy="68.9" r="1.4" fill="#b8b8b8"/><circle cx="479.2" cy="76.4" r="1.4" fill="#737373"/><circle cx="475.8" cy="95.8" r="1.4" fill="#777"/><circle cx="475.8" cy="91.0" r="1.4" fill="#555"/><circle cx="483.2" cy="82.2" r="1.4" fill="#585858"/><circle cx="483.0" cy="65.6" r="1.4" fill="#b8b8b8"/><circle cx="472.6" cy="77.8" r="1.4" fill="#737373"/><circle cx="479.4" cy="95.8" r="1.4" fill="#777"/><circle cx="475.4" cy="83.0" r="1.4" fill="#585858"/><circle cx="472.2" cy="95.8" r="1.4" fill="#777"/><circle cx="483.3" cy="77.2" r="1.4" fill="#737373"/><circle cx="483.0" cy="95.8" r="1.4" fill="#777"/><circle cx="475.8" cy="95.8" r="1.4" fill="#777"/><circle cx="479.7" cy="81.8" r="1.4" fill="#585858"/><circle cx="479.4" cy="95.8" r="1.4" fill="#777"/><circle cx="475.9" cy="76.9" r="1.4" fill="#737373"/><circle cx="479.5" cy="80.0" r="1.4" fill="#b1b1b1"/><circle cx="472.2" cy="95.8" r="1.4" fill="#777"/><circle cx="479.4" cy="91.0" r="1.4" fill="#555"/><circle cx="472.2" cy="91.0" r="1.4" fill="#555"/><circle cx="475.9" cy="69.5" r="1.4" fill="#b8b8b8"/><circle cx="479.4" cy="87.7" r="1.4" fill="#9c9c9c"/><circle cx="472.2" cy="66.7" r="1.4" fill="#888888"/><circle cx="483.0" cy="95.8" r="1.4" fill="#777"/><circle cx="483.0" cy="91.0" r="1.4" fill="#555"/><circle cx="482.7" cy="67.7" r="1.4" fill="#888888"/><circle cx="475.8" cy="95.8" r="1.4" fill="#777"/><circle cx="479.4" cy="95.8" r="1.4" fill="#777"/><circle cx="472.2" cy="95.8" r="1.4" fill="#777"/><circle cx="483.0" cy="95.8" r="1.4" fill="#777"/><circle cx="471.8" cy="88.4" r="1.4" fill="#9c9c9c"/><circle cx="475.8" cy="95.8" r="1.4" fill="#777"/><circle cx="479.4" cy="95.8" r="1.4" fill="#777"/><circle cx="472.2" cy="95.8" r="1.4" fill="#777"/><circle cx="475.4" cy="65.7" r="1.4" fill="#b8b8b8"/><circle cx="475.8" cy="91.0" r="1.4" fill="#555"/><circle cx="472.2" cy="63.0" r="1.4" fill="#e8e8e8"/><circle cx="479.4" cy="91.0" r="1.4" fill="#555"/><circle cx="483.0" cy="95.8" r="1.4" fill="#777"/><circle cx="479.0" cy="70.9" r="1.4" fill="#b8b8b8"/><circle cx="471.9" cy="79.7" r="1.4" fill="#b1b1b1"/><circle cx="475.8" cy="95.8" r="1.4" fill="#777"/><circle cx="479.4" cy="95.8" r="1.4" fill="#777"/><circle cx="479.1" cy="76.8" r="1.4" fill="#737373"/><circle cx="472.2" cy="95.8" r="1.4" fill="#777"/><circle cx="483.0" cy="95.8" r="1.4" fill="#777"/><circle cx="472.5" cy="81.9" r="1.4" fill="#585858"/><circle cx="475.8" cy="95.8" r="1.4" fill="#777"/><circle cx="479.4" cy="95.8" r="1.4" fill="#777"/><circle cx="472.2" cy="91.0" r="1.4" fill="#555"/><circle cx="472.2" cy="95.8" r="1.4" fill="#777"/><circle cx="483.0" cy="91.0" r="1.4" fill="#555"/><circle cx="483.0" cy="95.8" r="1.4" fill="#777"/><circle cx="475.8" cy="95.8" r="1.4" fill="#777"/><circle cx="471.9" cy="71.1" r="1.4" fill="#b8b8b8"/><circle cx="475.8" cy="91.0" r="1.4" fill="#555"/><circle cx="479.4" cy="95.8" r="1.4" fill="#777"/><circle cx="479.4" cy="91.0" r="1.4" fill="#555"/><circle cx="472.2" cy="95.8" r="1.4" fill="#777"/><circle cx="483.1" cy="73.5" r="1.4" fill="#959595"/><circle cx="483.0" cy="95.8" r="1.4" fill="#777"/><circle cx="475.8" cy="54.3" r="1.4" fill="#e8e8e8"/><circle cx="479.5" cy="85.8" r="1.4" fill="#959595"/><circle cx="472.2" cy="91.0" r="1.4" fill="#555"/><circle cx="475.8" cy="95.8" r="1.4" fill="#777"/><circle cx="479.4" cy="95.8" r="1.4" fill="#777"/><circle cx="479.2" cy="66.0" r="1.4" fill="#b8b8b8"/><circle cx="472.2" cy="95.8" r="1.4" fill="#777"/><circle cx="482.9" cy="87.6" r="1.4" fill="#9c9c9c"/><circle cx="483.0" cy="75.3" r="1.4" fill="#cccccc"/><circle cx="483.0" cy="91.0" r="1.4" fill="#555"/><circle cx="483.0" cy="95.8" r="1.4" fill="#777"/><circle cx="475.8" cy="91.0" r="1.4" fill="#555"/><circle cx="479.4" cy="91.0" r="1.4" fill="#555"/><circle cx="472.2" cy="66.0" r="1.4" fill="#b8b8b8"/><circle cx="475.8" cy="95.8" r="1.4" fill="#777"/><circle cx="479.4" cy="95.8" r="1.4" fill="#777"/><circle cx="472.3" cy="78.2" r="1.4" fill="#737373"/><circle cx="472.2" cy="95.8" r="1.4" fill="#777"/><circle cx="483.0" cy="95.8" r="1.4" fill="#777"/><circle cx="472.2" cy="91.0" r="1.4" fill="#555"/><circle cx="483.0" cy="91.0" r="1.4" fill="#555"/><circle cx="475.8" cy="95.8" r="1.4" fill="#777"/><circle cx="475.9" cy="75.6" r="1.4" fill="#cccccc"/><circle cx="479.4" cy="95.8" r="1.4" fill="#777"/><circle cx="482.9" cy="78.2" r="1.4" fill="#737373"/><circle cx="483.1" cy="64.1" r="1.4" fill="#b8b8b8"/><circle cx="475.8" cy="87.3" r="1.4" fill="#9c9c9c"/><circle cx="472.2" cy="95.8" r="1.4" fill="#777"/><circle cx="483.0" cy="95.8" r="1.4" fill="#777"/><circle cx="475.8" cy="91.0" r="1.4" fill="#555"/><circle cx="471.9" cy="84.3" r="1.4" fill="#959595"/><circle cx="479.4" cy="91.0" r="1.4" fill="#555"/><circle cx="475.8" cy="48.2" r="1.4" fill="#e8e8e8"/><circle cx="472.2" cy="91.0" r="1.4" fill="#555"/><circle cx="475.8" cy="95.8" r="1.4" fill="#777"/><circle cx="475.9" cy="64.9" r="1.4" fill="#b8b8b8"/><circle cx="483.4" cy="79.6" r="1.4" fill="#b1b1b1"/><circle cx="479.4" cy="95.8" r="1.4" fill="#777"/><circle cx="472.2" cy="95.8" r="1.4" fill="#777"/><circle cx="483.0" cy="95.8" r="1.4" fill="#777"/><circle cx="475.8" cy="95.8" r="1.4" fill="#777"/><circle cx="476.0" cy="78.2" r="1.4" fill="#737373"/><circle cx="483.0" cy="81.8" r="1.4" fill="#585858"/><circle cx="479.4" cy="95.8" r="1.4" fill="#777"/><circle cx="483.0" cy="91.0" r="1.4" fill="#555"/><circle cx="479.4" cy="76.6" r="1.4" fill="#737373"/><circle cx="472.2" cy="95.8" r="1.4" fill="#777"/><circle cx="482.9" cy="69.3" r="1.4" fill="#b8b8b8"/><circle cx="482.9" cy="85.7" r="1.4" fill="#959595"/><circle cx="483.0" cy="95.8" r="1.4" fill="#777"/><circle cx="476.1" cy="66.5" r="1.4" fill="#888888"/><circle cx="479.1" cy="75.8" r="1.4" fill="#cccccc"/><circle cx="475.9" cy="71.2" r="1.4" fill="#b8b8b8"/><circle cx="475.8" cy="95.8" r="1.4" fill="#777"/><circle cx="475.5" cy="71.7" r="1.4" fill="#959595"/><circle cx="476.2" cy="82.7" r="1.4" fill="#585858"/><circle cx="479.2" cy="67.7" r="1.4" fill="#888888"/><circle cx="472.3" cy="67.6" r="1.4" fill="#888888"/><circle cx="479.4" cy="95.8" r="1.4" fill="#777"/><circle cx="479.1" cy="70.2" r="1.4" fill="#b8b8b8"/><circle cx="476.1" cy="79.1" r="1.4" fill="#b1b1b1"/><circle cx="472.2" cy="95.8" r="1.4" fill="#777"/><circle cx="483.0" cy="95.8" r="1.4" fill="#777"/><circle cx="475.8" cy="95.8" r="1.4" fill="#777"/><circle cx="476.1" cy="84.5" r="1.4" fill="#959595"/><circle cx="479.4" cy="95.8" r="1.4" fill="#777"/><circle cx="472.6" cy="76.4" r="1.4" fill="#737373"/><circle cx="475.8" cy="91.0" r="1.4" fill="#555"/><circle cx="479.4" cy="91.0" r="1.4" fill="#555"/><circle cx="472.2" cy="91.0" r="1.4" fill="#555"/><circle cx="482.8" cy="77.4" r="1.4" fill="#737373"/><circle cx="479.0" cy="64.2" r="1.4" fill="#b8b8b8"/><circle cx="483.1" cy="67.5" r="1.4" fill="#888888"/><circle cx="479.5" cy="84.0" r="1.4" fill="#959595"/><circle cx="472.2" cy="95.8" r="1.4" fill="#777"/><circle cx="483.0" cy="91.0" r="1.4" fill="#555"/><circle cx="483.0" cy="95.8" r="1.4" fill="#777"/><circle cx="475.8" cy="95.8" r="1.4" fill="#777"/><circle cx="472.3" cy="65.5" r="1.4" fill="#b8b8b8"/><circle cx="479.4" cy="95.8" r="1.4" fill="#777"/><circle cx="479.7" cy="88.2" r="1.4" fill="#9c9c9c"/><circle cx="483.4" cy="65.4" r="1.4" fill="#b8b8b8"/><circle cx="472.2" cy="95.8" r="1.4" fill="#777"/><circle cx="475.6" cy="78.0" r="1.4" fill="#737373"/><circle cx="483.0" cy="95.8" r="1.4" fill="#777"/><circle cx="475.8" cy="95.8" r="1.4" fill="#777"/><circle cx="472.5" cy="86.1" r="1.4" fill="#959595"/><circle cx="479.4" cy="95.8" r="1.4" fill="#777"/><circle cx="475.8" cy="91.0" r="1.4" fill="#555"/><circle cx="483.3" cy="84.5" r="1.4" fill="#959595"/><circle cx="479.1" cy="77.1" r="1.4" fill="#737373"/><circle cx="472.2" cy="95.8" r="1.4" fill="#777"/><circle cx="483.0" cy="95.8" r="1.4" fill="#777"/><circle cx="479.4" cy="91.0" r="1.4" fill="#555"/><circle cx="472.2" cy="75.0" r="1.4" fill="#cccccc"/><circle cx="471.9" cy="71.2" r="1.4" fill="#b8b8b8"/><circle cx="476.1" cy="67.3" r="1.4" fill="#888888"/><circle cx="479.7" cy="73.5" r="1.4" fill="#959595"/><circle cx="475.8" cy="95.8" r="1.4" fill="#777"/><circle cx="475.6" cy="85.7" r="1.4" fill="#959595"/><circle cx="479.4" cy="95.8" r="1.4" fill="#777"/><circle cx="471.9" cy="88.0" r="1.4" fill="#9c9c9c"/><circle cx="472.2" cy="91.0" r="1.4" fill="#555"/><circle cx="476.1" cy="65.0" r="1.4" fill="#b8b8b8"/><circle cx="472.2" cy="95.8" r="1.4" fill="#777"/><circle cx="479.2" cy="67.2" r="1.4" fill="#888888"/><circle cx="483.0" cy="95.8" r="1.4" fill="#777"/><circle cx="472.1" cy="66.8" r="1.4" fill="#888888"/><circle cx="472.3" cy="72.2" r="1.4" fill="#959595"/><circle cx="475.8" cy="95.8" r="1.4" fill="#777"/><circle cx="479.4" cy="95.8" r="1.4" fill="#777"/><circle cx="472.2" cy="95.8" r="1.4" fill="#777"/><circle cx="483.0" cy="95.8" r="1.4" fill="#777"/><circle cx="475.8" cy="95.8" r="1.4" fill="#777"/><circle cx="483.0" cy="91.0" r="1.4" fill="#555"/><circle cx="475.8" cy="91.0" r="1.4" fill="#555"/><circle cx="479.4" cy="95.8" r="1.4" fill="#777"/><circle cx="479.3" cy="80.1" r="1.4" fill="#b1b1b1"/><circle cx="472.2" cy="88.8" r="1.4" fill="#e8e8e8"/><circle cx="472.5" cy="79.4" r="1.4" fill="#b1b1b1"/><circle cx="472.2" cy="95.8" r="1.4" fill="#777"/><circle cx="483.3" cy="66.3" r="1.4" fill="#888888"/><circle cx="483.0" cy="95.8" r="1.4" fill="#777"/><circle cx="475.8" cy="95.8" r="1.4" fill="#777"/><circle cx="479.4" cy="95.8" r="1.4" fill="#777"/><circle cx="479.4" cy="91.0" r="1.4" fill="#555"/><circle cx="483.4" cy="86.9" r="1.4" fill="#9c9c9c"/><circle cx="476.1" cy="66.7" r="1.4" fill="#888888"/><circle cx="479.4" cy="82.5" r="1.4" fill="#585858"/><circle cx="472.2" cy="95.8" r="1.4" fill="#777"/><circle cx="483.0" cy="95.8" r="1.4" fill="#777"/><circle cx="475.8" cy="95.8" r="1.4" fill="#777"/><circle cx="479.4" cy="95.8" r="1.4" fill="#777"/><circle cx="483.0" cy="71.0" r="1.4" fill="#b8b8b8"/><circle cx="472.2" cy="95.8" r="1.4" fill="#777"/><circle cx="479.4" cy="66.2" r="1.4" fill="#b8b8b8"/><circle cx="483.0" cy="95.8" r="1.4" fill="#777"/><circle cx="475.8" cy="95.8" r="1.4" fill="#777"/><circle cx="479.4" cy="95.8" r="1.4" fill="#777"/><circle cx="472.2" cy="91.0" r="1.4" fill="#555"/><circle cx="472.2" cy="95.8" r="1.4" fill="#777"/><circle cx="483.0" cy="91.0" r="1.4" fill="#555"/><circle cx="483.0" cy="95.8" r="1.4" fill="#777"/><circle cx="475.8" cy="95.8" r="1.4" fill="#777"/><circle cx="479.4" cy="95.8" r="1.4" fill="#777"/><circle cx="475.4" cy="87.4" r="1.4" fill="#9c9c9c"/><circle cx="471.8" cy="82.1" r="1.4" fill="#585858"/><circle cx="472.2" cy="95.8" r="1.4" fill="#777"/><circle cx="483.0" cy="95.8" r="1.4" fill="#777"/><circle cx="475.8" cy="95.8" r="1.4" fill="#777"/><circle cx="476.2" cy="69.1" r="1.4" fill="#b8b8b8"/><circle cx="479.4" cy="95.8" r="1.4" fill="#777"/><circle cx="482.8" cy="74.2" r="1.4" fill="#cccccc"/><circle cx="472.5" cy="76.5" r="1.4" fill="#737373"/><circle cx="483.0" cy="89.1" r="1.4" fill="#e8e8e8"/><circle cx="483.2" cy="80.9" r="1.4" fill="#b1b1b1"/><circle cx="472.2" cy="95.8" r="1.4" fill="#777"/><circle cx="483.0" cy="95.8" r="1.4" fill="#777"/><circle cx="475.8" cy="95.8" r="1.4" fill="#777"/><circle cx="479.3" cy="84.1" r="1.4" fill="#959595"/><circle cx="479.5" cy="67.4" r="1.4" fill="#888888"/><circle cx="483.1" cy="82.2" r="1.4" fill="#585858"/><circle cx="479.4" cy="95.8" r="1.4" fill="#777"/><circle cx="472.2" cy="95.8" r="1.4" fill="#777"/><circle cx="482.7" cy="71.5" r="1.4" fill="#959595"/><circle cx="483.0" cy="95.8" r="1.4" fill="#777"/><circle cx="475.8" cy="95.8" r="1.4" fill="#777"/><circle cx="479.4" cy="95.8" r="1.4" fill="#777"/><circle cx="472.2" cy="95.8" r="1.4" fill="#777"/><circle cx="479.0" cy="87.5" r="1.4" fill="#9c9c9c"/><circle cx="482.7" cy="76.8" r="1.4" fill="#737373"/><circle cx="475.9" cy="82.4" r="1.4" fill="#585858"/><circle cx="483.0" cy="62.5" r="1.4" fill="#e8e8e8"/><circle cx="483.0" cy="95.8" r="1.4" fill="#777"/><circle cx="475.8" cy="95.8" r="1.4" fill="#777"/><circle cx="479.4" cy="95.8" r="1.4" fill="#777"/><circle cx="472.2" cy="95.8" r="1.4" fill="#777"/><circle cx="483.0" cy="95.8" r="1.4" fill="#777"/><circle cx="475.8" cy="95.8" r="1.4" fill="#777"/><circle cx="479.4" cy="95.8" r="1.4" fill="#777"/><circle cx="472.2" cy="95.8" r="1.4" fill="#777"/><circle cx="479.1" cy="83.7" r="1.4" fill="#585858"/><circle cx="476.2" cy="79.9" r="1.4" fill="#b1b1b1"/><circle cx="483.0" cy="95.8" r="1.4" fill="#777"/><circle cx="472.4" cy="65.9" r="1.4" fill="#b8b8b8"/><circle cx="479.0" cy="70.5" r="1.4" fill="#b8b8b8"/><circle cx="475.8" cy="95.8" r="1.4" fill="#777"/><circle cx="471.9" cy="81.8" r="1.4" fill="#585858"/><circle cx="475.9" cy="89.1" r="1.4" fill="#e8e8e8"/><circle cx="479.4" cy="95.8" r="1.4" fill="#777"/><circle cx="472.2" cy="95.8" r="1.4" fill="#777"/><circle cx="483.0" cy="95.8" r="1.4" fill="#777"/><circle cx="475.8" cy="95.8" r="1.4" fill="#777"/><circle cx="475.8" cy="91.0" r="1.4" fill="#555"/><circle cx="479.4" cy="95.8" r="1.4" fill="#777"/><circle cx="472.2" cy="95.8" r="1.4" fill="#777"/><circle cx="483.0" cy="95.8" r="1.4" fill="#777"/><circle cx="471.8" cy="69.3" r="1.4" fill="#b8b8b8"/><circle cx="475.8" cy="95.8" r="1.4" fill="#777"/><circle cx="479.4" cy="95.8" r="1.4" fill="#777"/><circle cx="472.2" cy="95.8" r="1.4" fill="#777"/><circle cx="475.5" cy="71.4" r="1.4" fill="#959595"/><circle cx="479.0" cy="79.6" r="1.4" fill="#b1b1b1"/><circle cx="483.0" cy="95.8" r="1.4" fill="#777"/><circle cx="472.5" cy="80.8" r="1.4" fill="#b1b1b1"/><circle cx="472.4" cy="86.7" r="1.4" fill="#9c9c9c"/><circle cx="475.8" cy="95.8" r="1.4" fill="#777"/><circle cx="479.4" cy="95.8" r="1.4" fill="#777"/><circle cx="472.2" cy="95.8" r="1.4" fill="#777"/><circle cx="475.6" cy="74.9" r="1.4" fill="#cccccc"/><circle cx="479.4" cy="91.0" r="1.4" fill="#555"/><circle cx="483.0" cy="95.8" r="1.4" fill="#777"/><circle cx="475.8" cy="95.8" r="1.4" fill="#777"/><circle cx="479.4" cy="95.8" r="1.4" fill="#777"/><circle cx="472.2" cy="95.8" r="1.4" fill="#777"/><circle cx="483.0" cy="95.8" r="1.4" fill="#777"/><circle cx="483.4" cy="82.6" r="1.4" fill="#585858"/><circle cx="475.8" cy="95.8" r="1.4" fill="#777"/><circle cx="475.8" cy="81.8" r="1.4" fill="#585858"/><circle cx="479.4" cy="95.8" r="1.4" fill="#777"/><circle cx="472.2" cy="95.8" r="1.4" fill="#777"/><circle cx="483.0" cy="95.8" r="1.4" fill="#777"/><circle cx="475.8" cy="95.8" r="1.4" fill="#777"/><circle cx="472.3" cy="85.1" r="1.4" fill="#959595"/><circle cx="479.4" cy="95.8" r="1.4" fill="#777"/><circle cx="479.4" cy="59.6" r="1.4" fill="#e8e8e8"/><circle cx="472.5" cy="66.3" r="1.4" fill="#888888"/><circle cx="479.6" cy="74.6" r="1.4" fill="#cccccc"/><circle cx="472.2" cy="95.8" r="1.4" fill="#777"/><circle cx="483.0" cy="95.8" r="1.4" fill="#777"/><circle cx="479.6" cy="71.9" r="1.4" fill="#959595"/><circle cx="472.2" cy="91.0" r="1.4" fill="#555"/><circle cx="479.3" cy="82.6" r="1.4" fill="#585858"/><circle cx="472.0" cy="71.9" r="1.4" fill="#959595"/><circle cx="475.8" cy="95.8" r="1.4" fill="#777"/><circle cx="479.4" cy="95.8" r="1.4" fill="#777"/><circle cx="472.2" cy="95.8" r="1.4" fill="#777"/><circle cx="483.0" cy="95.8" r="1.4" fill="#777"/><circle cx="475.8" cy="95.8" r="1.4" fill="#777"/><circle cx="472.0" cy="81.5" r="1.4" fill="#585858"/><circle cx="479.4" cy="95.8" r="1.4" fill="#777"/><circle cx="482.6" cy="80.9" r="1.4" fill="#b1b1b1"/><circle cx="483.4" cy="72.1" r="1.4" fill="#959595"/><circle cx="483.3" cy="68.2" r="1.4" fill="#888888"/><circle cx="472.2" cy="95.8" r="1.4" fill="#777"/><circle cx="483.2" cy="83.1" r="1.4" fill="#585858"/><circle cx="483.0" cy="95.8" r="1.4" fill="#777"/><circle cx="475.8" cy="95.8" r="1.4" fill="#777"/><circle cx="475.5" cy="67.6" r="1.4" fill="#888888"/><circle cx="479.4" cy="95.8" r="1.4" fill="#777"/><circle cx="472.2" cy="95.8" r="1.4" fill="#777"/><circle cx="483.0" cy="95.8" r="1.4" fill="#777"/><circle cx="483.0" cy="91.0" r="1.4" fill="#555"/><circle cx="475.8" cy="95.8" r="1.4" fill="#777"/><circle cx="479.4" cy="95.8" r="1.4" fill="#777"/><circle cx="472.2" cy="95.8" r="1.4" fill="#777"/><circle cx="483.0" cy="95.8" r="1.4" fill="#777"/><circle cx="476.0" cy="77.7" r="1.4" fill="#737373"/><circle cx="475.8" cy="95.8" r="1.4" fill="#777"/><circle cx="475.8" cy="91.0" r="1.4" fill="#555"/><circle cx="479.4" cy="95.8" r="1.4" fill="#777"/><circle cx="479.5" cy="77.9" r="1.4" fill="#737373"/><circle cx="479.4" cy="68.6" r="1.4" fill="#888888"/><circle cx="472.2" cy="95.8" r="1.4" fill="#777"/><circle cx="483.0" cy="95.8" r="1.4" fill="#777"/><circle cx="475.8" cy="95.8" r="1.4" fill="#777"/><circle cx="471.9" cy="73.9" r="1.4" fill="#cccccc"/><circle cx="479.4" cy="95.8" r="1.4" fill="#777"/><circle cx="476.0" cy="83.0" r="1.4" fill="#585858"/><circle cx="472.3" cy="78.0" r="1.4" fill="#737373"/><circle cx="482.8" cy="77.2" r="1.4" fill="#737373"/><circle cx="475.7" cy="73.4" r="1.4" fill="#959595"/><circle cx="472.2" cy="95.8" r="1.4" fill="#777"/><circle cx="483.0" cy="95.8" r="1.4" fill="#777"/><circle cx="482.8" cy="65.7" r="1.4" fill="#b8b8b8"/><circle cx="475.7" cy="80.4" r="1.4" fill="#b1b1b1"/><circle cx="475.8" cy="95.8" r="1.4" fill="#777"/><circle cx="479.4" cy="95.8" r="1.4" fill="#777"/><circle cx="472.2" cy="95.8" r="1.4" fill="#777"/><circle cx="483.0" cy="95.8" r="1.4" fill="#777"/><circle cx="475.8" cy="95.8" r="1.4" fill="#777"/><circle cx="476.1" cy="77.7" r="1.4" fill="#737373"/><circle cx="482.6" cy="88.0" r="1.4" fill="#9c9c9c"/><circle cx="479.4" cy="95.8" r="1.4" fill="#777"/><circle cx="472.2" cy="95.8" r="1.4" fill="#777"/><circle cx="479.6" cy="81.8" r="1.4" fill="#585858"/><circle cx="479.4" cy="91.0" r="1.4" fill="#555"/><circle cx="483.0" cy="95.8" r="1.4" fill="#777"/><circle cx="475.8" cy="95.8" r="1.4" fill="#777"/><circle cx="472.2" cy="91.0" r="1.4" fill="#555"/><circle cx="479.4" cy="95.8" r="1.4" fill="#777"/><circle cx="472.2" cy="95.8" r="1.4" fill="#777"/><circle cx="483.3" cy="73.8" r="1.4" fill="#cccccc"/><circle cx="479.6" cy="78.2" r="1.4" fill="#737373"/><circle cx="483.1" cy="85.2" r="1.4" fill="#959595"/><circle cx="472.2" cy="66.4" r="1.4" fill="#888888"/><circle cx="483.0" cy="95.8" r="1.4" fill="#777"/><circle cx="475.6" cy="75.0" r="1.4" fill="#cccccc"/><circle cx="475.8" cy="95.8" r="1.4" fill="#777"/><circle cx="483.2" cy="68.8" r="1.4" fill="#b8b8b8"/><circle cx="476.0" cy="83.8" r="1.4" fill="#959595"/><circle cx="479.4" cy="95.8" r="1.4" fill="#777"/><circle cx="483.0" cy="91.0" r="1.4" fill="#555"/><circle cx="499.4" cy="74.4" r="1.4" fill="#282828"/><circle cx="503.0" cy="75.7" r="1.4" fill="#282828"/><circle cx="499.4" cy="87.6" r="1.4" fill="#aaaaaa"/><circle cx="499.4" cy="73.3" r="1.4" fill="#282828"/><circle cx="499.4" cy="81.0" r="1.4" fill="#3c3c3c"/><circle cx="499.4" cy="91.0" r="1.4" fill="#555"/><circle cx="499.4" cy="55.8" r="1.4" fill="#959595"/><circle cx="503.0" cy="88.6" r="1.4" fill="#aaaaaa"/><circle cx="499.4" cy="77.3" r="1.4" fill="#282828"/><circle cx="499.4" cy="82.9" r="1.4" fill="#3c3c3c"/><circle cx="499.4" cy="66.7" r="1.4" fill="#737373"/><circle cx="495.8" cy="76.2" r="1.4" fill="#282828"/><circle cx="499.4" cy="62.5" r="1.4" fill="#b8b8b8"/><circle cx="499.4" cy="68.8" r="1.4" fill="#282828"/><circle cx="503.0" cy="76.5" r="1.4" fill="#282828"/><circle cx="503.0" cy="71.1" r="1.4" fill="#282828"/><circle cx="506.6" cy="76.2" r="1.4" fill="#282828"/><circle cx="495.8" cy="76.4" r="1.4" fill="#282828"/><circle cx="499.4" cy="64.2" r="1.4" fill="#959595"/><circle cx="503.0" cy="72.2" r="1.4" fill="#282828"/><circle cx="499.6" cy="74.5" r="1.4" fill="#282828"/><circle cx="506.6" cy="78.7" r="1.4" fill="#282828"/><circle cx="502.8" cy="75.5" r="1.4" fill="#282828"/><circle cx="499.4" cy="95.8" r="1.4" fill="#777"/><circle cx="499.4" cy="84.7" r="1.4" fill="#434343"/><circle cx="499.3" cy="76.7" r="1.4" fill="#282828"/><circle cx="499.4" cy="57.5" r="1.4" fill="#959595"/><circle cx="503.0" cy="62.8" r="1.4" fill="#b8b8b8"/><circle cx="495.7" cy="75.3" r="1.4" fill="#282828"/><circle cx="506.6" cy="74.8" r="1.4" fill="#282828"/><circle cx="503.1" cy="77.3" r="1.4" fill="#282828"/><circle cx="503.0" cy="95.8" r="1.4" fill="#777"/><circle cx="495.8" cy="71.6" r="1.4" fill="#282828"/><circle cx="499.4" cy="50.5" r="1.4" fill="#e8e8e8"/><circle cx="495.8" cy="70.8" r="1.4" fill="#282828"/><circle cx="503.0" cy="85.7" r="1.4" fill="#434343"/><circle cx="499.5" cy="73.9" r="1.4" fill="#282828"/><circle cx="506.6" cy="69.7" r="1.4" fill="#282828"/><circle cx="503.0" cy="91.0" r="1.4" fill="#555"/><circle cx="495.4" cy="76.5" r="1.4" fill="#282828"/><circle cx="506.8" cy="77.8" r="1.4" fill="#282828"/><circle cx="499.4" cy="89.0" r="1.4" fill="#e8e8e8"/><circle cx="506.6" cy="73.6" r="1.4" fill="#282828"/><circle cx="495.8" cy="63.7" r="1.4" fill="#b8b8b8"/><circle cx="495.8" cy="91.0" r="1.4" fill="#555"/><circle cx="499.8" cy="71.8" r="1.4" fill="#282828"/><circle cx="495.8" cy="83.8" r="1.4" fill="#434343"/><circle cx="502.9" cy="72.9" r="1.4" fill="#282828"/><circle cx="495.6" cy="71.8" r="1.4" fill="#282828"/><circle cx="503.0" cy="66.7" r="1.4" fill="#737373"/><circle cx="499.4" cy="77.5" r="1.4" fill="#282828"/><circle cx="495.8" cy="66.3" r="1.4" fill="#737373"/><circle cx="506.6" cy="62.4" r="1.4" fill="#b8b8b8"/><circle cx="503.2" cy="76.0" r="1.4" fill="#282828"/><circle cx="502.9" cy="76.9" r="1.4" fill="#282828"/><circle cx="503.0" cy="81.9" r="1.4" fill="#3c3c3c"/><circle cx="503.0" cy="81.0" r="1.4" fill="#3c3c3c"/><circle cx="506.5" cy="72.7" r="1.4" fill="#282828"/><circle cx="499.4" cy="61.2" r="1.4" fill="#bebebe"/><circle cx="499.2" cy="69.9" r="1.4" fill="#282828"/><circle cx="506.6" cy="68.2" r="1.4" fill="#737373"/><circle cx="503.0" cy="59.1" r="1.4" fill="#bebebe"/><circle cx="499.7" cy="72.5" r="1.4" fill="#282828"/><circle cx="506.6" cy="91.0" r="1.4" fill="#555"/><circle cx="495.8" cy="81.9" r="1.4" fill="#3c3c3c"/><circle cx="495.8" cy="79.9" r="1.4" fill="#3c3c3c"/><circle cx="495.7" cy="78.1" r="1.4" fill="#282828"/><circle cx="495.8" cy="95.8" r="1.4" fill="#777"/><circle cx="499.4" cy="91.0" r="1.4" fill="#555"/><circle cx="506.6" cy="84.0" r="1.4" fill="#434343"/><circle cx="507.0" cy="76.6" r="1.4" fill="#282828"/><circle cx="495.8" cy="88.7" r="1.4" fill="#aaaaaa"/><circle cx="503.1" cy="70.8" r="1.4" fill="#282828"/><circle cx="502.8" cy="71.9" r="1.4" fill="#282828"/><circle cx="503.0" cy="64.9" r="1.4" fill="#959595"/><circle cx="506.6" cy="82.5" r="1.4" fill="#3c3c3c"/><circle cx="503.0" cy="58.3" r="1.4" fill="#959595"/><circle cx="503.0" cy="89.2" r="1.4" fill="#e8e8e8"/><circle cx="499.3" cy="82.5" r="1.4" fill="#3c3c3c"/><circle cx="496.2" cy="72.6" r="1.4" fill="#282828"/><circle cx="496.1" cy="70.4" r="1.4" fill="#282828"/><circle cx="506.6" cy="79.4" r="1.4" fill="#3c3c3c"/><circle cx="499.8" cy="77.8" r="1.4" fill="#282828"/><circle cx="495.8" cy="57.0" r="1.4" fill="#959595"/><circle cx="506.2" cy="72.5" r="1.4" fill="#282828"/><circle cx="506.6" cy="56.5" r="1.4" fill="#959595"/><circle cx="499.2" cy="80.3" r="1.4" fill="#3c3c3c"/><circle cx="506.9" cy="70.3" r="1.4" fill="#282828"/><circle cx="502.8" cy="82.0" r="1.4" fill="#3c3c3c"/><circle cx="499.4" cy="70.9" r="1.4" fill="#282828"/><circle cx="506.6" cy="88.7" r="1.4" fill="#aaaaaa"/><circle cx="502.8" cy="70.1" r="1.4" fill="#282828"/><circle cx="495.9" cy="69.3" r="1.4" fill="#282828"/><circle cx="499.3" cy="73.7" r="1.4" fill="#282828"/><circle cx="506.9" cy="69.3" r="1.4" fill="#282828"/><circle cx="499.6" cy="68.6" r="1.4" fill="#737373"/><circle cx="499.3" cy="57.7" r="1.4" fill="#959595"/><circle cx="495.8" cy="74.6" r="1.4" fill="#282828"/><circle cx="499.4" cy="52.6" r="1.4" fill="#e8e8e8"/><circle cx="495.8" cy="64.9" r="1.4" fill="#959595"/><circle cx="502.6" cy="73.5" r="1.4" fill="#282828"/><circle cx="503.0" cy="55.2" r="1.4" fill="#959595"/><circle cx="495.9" cy="83.0" r="1.4" fill="#3c3c3c"/><circle cx="503.0" cy="91.0" r="1.4" fill="#555"/><circle cx="506.6" cy="64.0" r="1.4" fill="#959595"/><circle cx="506.6" cy="95.8" r="1.4" fill="#777"/><circle cx="503.0" cy="68.7" r="1.4" fill="#737373"/><circle cx="495.4" cy="67.7" r="1.4" fill="#737373"/><circle cx="495.8" cy="91.0" r="1.4" fill="#555"/><circle cx="499.1" cy="62.9" r="1.4" fill="#b8b8b8"/><circle cx="506.4" cy="82.1" r="1.4" fill="#3c3c3c"/><circle cx="499.3" cy="85.0" r="1.4" fill="#434343"/><circle cx="499.4" cy="70.0" r="1.4" fill="#282828"/><circle cx="503.1" cy="76.7" r="1.4" fill="#282828"/><circle cx="503.3" cy="71.0" r="1.4" fill="#282828"/><circle cx="502.7" cy="85.1" r="1.4" fill="#434343"/><circle cx="506.6" cy="91.0" r="1.4" fill="#555"/><circle cx="495.6" cy="78.7" r="1.4" fill="#282828"/><circle cx="499.3" cy="82.0" r="1.4" fill="#3c3c3c"/><circle cx="506.5" cy="76.7" r="1.4" fill="#282828"/><circle cx="499.4" cy="95.8" r="1.4" fill="#777"/><circle cx="499.6" cy="63.8" r="1.4" fill="#959595"/><circle cx="506.9" cy="74.8" r="1.4" fill="#282828"/><circle cx="499.5" cy="77.4" r="1.4" fill="#282828"/><circle cx="503.2" cy="81.0" r="1.4" fill="#3c3c3c"/><circle cx="499.6" cy="75.0" r="1.4" fill="#282828"/><circle cx="495.5" cy="72.3" r="1.4" fill="#282828"/><circle cx="495.8" cy="56.2" r="1.4" fill="#959595"/><circle cx="499.4" cy="91.0" r="1.4" fill="#555"/><circle cx="506.5" cy="73.6" r="1.4" fill="#282828"/><circle cx="503.0" cy="95.8" r="1.4" fill="#777"/><circle cx="506.6" cy="54.9" r="1.4" fill="#959595"/><circle cx="495.7" cy="80.0" r="1.4" fill="#3c3c3c"/><circle cx="495.8" cy="95.8" r="1.4" fill="#777"/><circle cx="502.7" cy="75.0" r="1.4" fill="#282828"/><circle cx="499.4" cy="47.0" r="1.4" fill="#e8e8e8"/><circle cx="506.4" cy="66.6" r="1.4" fill="#737373"/><circle cx="499.1" cy="72.1" r="1.4" fill="#282828"/><circle cx="506.6" cy="95.8" r="1.4" fill="#777"/><circle cx="503.1" cy="73.7" r="1.4" fill="#282828"/><circle cx="499.2" cy="88.1" r="1.4" fill="#aaaaaa"/><circle cx="495.7" cy="70.3" r="1.4" fill="#282828"/><circle cx="503.3" cy="77.5" r="1.4" fill="#282828"/><circle cx="503.0" cy="64.1" r="1.4" fill="#959595"/><circle cx="499.8" cy="68.1" r="1.4" fill="#737373"/><circle cx="503.1" cy="66.7" r="1.4" fill="#737373"/><circle cx="495.8" cy="85.1" r="1.4" fill="#434343"/><circle cx="496.1" cy="67.2" r="1.4" fill="#737373"/><circle cx="506.4" cy="86.1" r="1.4" fill="#434343"/><circle cx="496.1" cy="71.9" r="1.4" fill="#282828"/><circle cx="499.3" cy="54.2" r="1.4" fill="#959595"/><circle cx="503.0" cy="91.0" r="1.4" fill="#555"/><circle cx="506.2" cy="66.8" r="1.4" fill="#737373"/><circle cx="506.7" cy="79.1" r="1.4" fill="#3c3c3c"/><circle cx="495.5" cy="74.5" r="1.4" fill="#282828"/><circle cx="506.7" cy="73.9" r="1.4" fill="#282828"/><circle cx="499.5" cy="74.4" r="1.4" fill="#282828"/><circle cx="506.8" cy="73.6" r="1.4" fill="#282828"/><circle cx="499.6" cy="84.8" r="1.4" fill="#434343"/><circle cx="495.4" cy="76.7" r="1.4" fill="#282828"/><circle cx="499.0" cy="71.5" r="1.4" fill="#282828"/><circle cx="503.2" cy="71.9" r="1.4" fill="#282828"/><circle cx="506.6" cy="69.1" r="1.4" fill="#282828"/><circle cx="503.3" cy="58.7" r="1.4" fill="#959595"/><circle cx="499.3" cy="70.0" r="1.4" fill="#282828"/><circle cx="502.7" cy="87.2" r="1.4" fill="#aaaaaa"/><circle cx="506.2" cy="77.0" r="1.4" fill="#282828"/><circle cx="495.4" cy="58.3" r="1.4" fill="#959595"/><circle cx="495.5" cy="73.2" r="1.4" fill="#282828"/><circle cx="503.2" cy="75.5" r="1.4" fill="#282828"/><circle cx="506.7" cy="56.4" r="1.4" fill="#959595"/><circle cx="499.7" cy="79.9" r="1.4" fill="#3c3c3c"/><circle cx="499.7" cy="77.2" r="1.4" fill="#282828"/><circle cx="503.0" cy="78.4" r="1.4" fill="#282828"/><circle cx="503.0" cy="46.5" r="1.4" fill="#e8e8e8"/><circle cx="499.4" cy="95.8" r="1.4" fill="#777"/><circle cx="495.5" cy="73.8" r="1.4" fill="#282828"/><circle cx="495.6" cy="76.3" r="1.4" fill="#282828"/><circle cx="503.1" cy="69.1" r="1.4" fill="#282828"/><circle cx="502.7" cy="82.1" r="1.4" fill="#3c3c3c"/><circle cx="495.8" cy="81.7" r="1.4" fill="#3c3c3c"/><circle cx="495.8" cy="59.2" r="1.4" fill="#bebebe"/><circle cx="495.8" cy="69.4" r="1.4" fill="#282828"/><circle cx="495.4" cy="87.7" r="1.4" fill="#aaaaaa"/><circle cx="506.3" cy="69.3" r="1.4" fill="#282828"/><circle cx="507.0" cy="75.8" r="1.4" fill="#282828"/><circle cx="503.0" cy="51.8" r="1.4" fill="#e8e8e8"/><circle cx="506.6" cy="81.5" r="1.4" fill="#3c3c3c"/><circle cx="506.6" cy="78.2" r="1.4" fill="#282828"/><circle cx="503.0" cy="95.8" r="1.4" fill="#777"/><circle cx="502.9" cy="55.3" r="1.4" fill="#959595"/><circle cx="506.8" cy="72.0" r="1.4" fill="#282828"/><circle cx="499.5" cy="72.8" r="1.4" fill="#282828"/><circle cx="499.5" cy="77.0" r="1.4" fill="#282828"/><circle cx="495.8" cy="95.8" r="1.4" fill="#777"/><circle cx="495.9" cy="54.7" r="1.4" fill="#959595"/><circle cx="502.7" cy="76.8" r="1.4" fill="#282828"/><circle cx="499.2" cy="74.3" r="1.4" fill="#282828"/><circle cx="495.6" cy="64.8" r="1.4" fill="#959595"/><circle cx="502.6" cy="76.2" r="1.4" fill="#282828"/><circle cx="506.7" cy="54.8" r="1.4" fill="#959595"/><circle cx="503.3" cy="85.9" r="1.4" fill="#434343"/><circle cx="503.4" cy="61.4" r="1.4" fill="#b8b8b8"/><circle cx="499.1" cy="58.4" r="1.4" fill="#959595"/><circle cx="506.4" cy="63.9" r="1.4" fill="#959595"/><circle cx="499.5" cy="67.4" r="1.4" fill="#737373"/><circle cx="495.8" cy="91.0" r="1.4" fill="#555"/><circle cx="502.6" cy="79.8" r="1.4" fill="#3c3c3c"/><circle cx="495.6" cy="62.2" r="1.4" fill="#b8b8b8"/><circle cx="495.7" cy="81.0" r="1.4" fill="#3c3c3c"/><circle cx="499.6" cy="70.1" r="1.4" fill="#282828"/><circle cx="502.6" cy="73.0" r="1.4" fill="#282828"/><circle cx="506.2" cy="61.9" r="1.4" fill="#b8b8b8"/><circle cx="495.6" cy="77.8" r="1.4" fill="#282828"/><circle cx="506.4" cy="81.0" r="1.4" fill="#3c3c3c"/><circle cx="502.7" cy="69.9" r="1.4" fill="#282828"/><circle cx="495.9" cy="74.7" r="1.4" fill="#282828"/><circle cx="495.5" cy="84.5" r="1.4" fill="#434343"/><circle cx="506.2" cy="77.3" r="1.4" fill="#282828"/><circle cx="499.7" cy="55.1" r="1.4" fill="#959595"/><circle cx="506.6" cy="74.5" r="1.4" fill="#282828"/><circle cx="495.7" cy="73.6" r="1.4" fill="#282828"/><circle cx="499.2" cy="75.3" r="1.4" fill="#282828"/><circle cx="506.6" cy="91.0" r="1.4" fill="#555"/><circle cx="499.7" cy="78.1" r="1.4" fill="#282828"/><circle cx="499.8" cy="82.6" r="1.4" fill="#3c3c3c"/><circle cx="502.7" cy="76.5" r="1.4" fill="#282828"/><circle cx="503.1" cy="68.6" r="1.4" fill="#737373"/><circle cx="506.6" cy="95.8" r="1.4" fill="#777"/><circle cx="506.7" cy="73.3" r="1.4" fill="#282828"/><circle cx="506.7" cy="83.8" r="1.4" fill="#434343"/><circle cx="499.3" cy="80.6" r="1.4" fill="#3c3c3c"/><circle cx="499.4" cy="91.0" r="1.4" fill="#555"/><circle cx="499.3" cy="73.2" r="1.4" fill="#282828"/><circle cx="499.6" cy="65.5" r="1.4" fill="#959595"/><circle cx="499.0" cy="63.7" r="1.4" fill="#b8b8b8"/><circle cx="503.3" cy="72.9" r="1.4" fill="#282828"/><circle cx="502.7" cy="75.8" r="1.4" fill="#282828"/><circle cx="503.0" cy="91.0" r="1.4" fill="#555"/><circle cx="499.4" cy="95.8" r="1.4" fill="#777"/><circle cx="495.8" cy="91.0" r="1.4" fill="#555"/><circle cx="495.5" cy="66.6" r="1.4" fill="#737373"/><circle cx="502.9" cy="61.9" r="1.4" fill="#b8b8b8"/><circle cx="502.6" cy="80.7" r="1.4" fill="#3c3c3c"/><circle cx="503.3" cy="82.3" r="1.4" fill="#3c3c3c"/><circle cx="495.7" cy="69.7" r="1.4" fill="#282828"/><circle cx="495.7" cy="75.9" r="1.4" fill="#282828"/><circle cx="495.7" cy="78.8" r="1.4" fill="#3c3c3c"/><circle cx="499.7" cy="86.1" r="1.4" fill="#434343"/><circle cx="502.9" cy="65.3" r="1.4" fill="#959595"/><circle cx="495.9" cy="73.6" r="1.4" fill="#282828"/><circle cx="507.0" cy="75.2" r="1.4" fill="#282828"/><circle cx="503.0" cy="95.8" r="1.4" fill="#777"/><circle cx="506.5" cy="79.3" r="1.4" fill="#3c3c3c"/><circle cx="496.1" cy="81.5" r="1.4" fill="#3c3c3c"/><circle cx="503.0" cy="50.1" r="1.4" fill="#e8e8e8"/><circle cx="506.6" cy="69.1" r="1.4" fill="#282828"/><circle cx="499.3" cy="70.0" r="1.4" fill="#282828"/><circle cx="503.0" cy="84.9" r="1.4" fill="#434343"/><circle cx="495.7" cy="65.4" r="1.4" fill="#959595"/><circle cx="499.3" cy="74.3" r="1.4" fill="#282828"/><circle cx="495.8" cy="95.8" r="1.4" fill="#777"/><circle cx="506.4" cy="83.6" r="1.4" fill="#3c3c3c"/><circle cx="495.4" cy="78.2" r="1.4" fill="#282828"/><circle cx="506.8" cy="73.6" r="1.4" fill="#282828"/><circle cx="506.4" cy="76.5" r="1.4" fill="#282828"/><circle cx="499.1" cy="73.3" r="1.4" fill="#282828"/><circle cx="502.8" cy="72.3" r="1.4" fill="#282828"/><circle cx="495.8" cy="71.9" r="1.4" fill="#282828"/><circle cx="503.2" cy="57.9" r="1.4" fill="#959595"/><circle cx="499.4" cy="82.6" r="1.4" fill="#3c3c3c"/><circle cx="499.4" cy="76.6" r="1.4" fill="#282828"/><circle cx="506.6" cy="91.0" r="1.4" fill="#555"/><circle cx="506.8" cy="73.2" r="1.4" fill="#282828"/><circle cx="502.8" cy="75.9" r="1.4" fill="#282828"/><circle cx="506.6" cy="95.8" r="1.4" fill="#777"/><circle cx="506.5" cy="65.1" r="1.4" fill="#959595"/><circle cx="506.6" cy="59.7" r="1.4" fill="#bebebe"/><circle cx="499.2" cy="66.1" r="1.4" fill="#959595"/><circle cx="502.9" cy="69.1" r="1.4" fill="#282828"/><circle cx="503.1" cy="64.2" r="1.4" fill="#959595"/><circle cx="495.8" cy="50.5" r="1.4" fill="#e8e8e8"/><circle cx="495.9" cy="56.7" r="1.4" fill="#959595"/><circle cx="495.6" cy="68.8" r="1.4" fill="#282828"/><circle cx="499.4" cy="73.3" r="1.4" fill="#282828"/><circle cx="499.4" cy="95.8" r="1.4" fill="#777"/><circle cx="503.0" cy="95.8" r="1.4" fill="#777"/><circle cx="506.4" cy="67.1" r="1.4" fill="#737373"/><circle cx="503.3" cy="72.0" r="1.4" fill="#282828"/><circle cx="506.7" cy="88.1" r="1.4" fill="#aaaaaa"/><circle cx="499.8" cy="80.7" r="1.4" fill="#3c3c3c"/><circle cx="499.8" cy="86.9" r="1.4" fill="#aaaaaa"/><circle cx="503.1" cy="79.7" r="1.4" fill="#3c3c3c"/><circle cx="495.8" cy="74.1" r="1.4" fill="#282828"/><circle cx="507.0" cy="70.5" r="1.4" fill="#282828"/><circle cx="499.4" cy="91.0" r="1.4" fill="#555"/><circle cx="503.0" cy="91.0" r="1.4" fill="#555"/><circle cx="503.0" cy="83.4" r="1.4" fill="#3c3c3c"/><circle cx="495.7" cy="81.8" r="1.4" fill="#3c3c3c"/><circle cx="506.6" cy="81.7" r="1.4" fill="#3c3c3c"/><circle cx="495.5" cy="80.2" r="1.4" fill="#3c3c3c"/><circle cx="506.8" cy="58.6" r="1.4" fill="#959595"/><circle cx="495.8" cy="89.2" r="1.4" fill="#e8e8e8"/><circle cx="495.8" cy="52.2" r="1.4" fill="#e8e8e8"/><circle cx="495.9" cy="72.7" r="1.4" fill="#282828"/><circle cx="495.5" cy="84.2" r="1.4" fill="#434343"/><circle cx="506.9" cy="84.3" r="1.4" fill="#434343"/><circle cx="499.6" cy="57.5" r="1.4" fill="#959595"/><circle cx="495.8" cy="95.8" r="1.4" fill="#777"/><circle cx="506.8" cy="73.1" r="1.4" fill="#282828"/><circle cx="499.0" cy="69.0" r="1.4" fill="#282828"/><circle cx="499.6" cy="83.0" r="1.4" fill="#3c3c3c"/><circle cx="506.3" cy="79.8" r="1.4" fill="#3c3c3c"/><circle cx="502.6" cy="78.1" r="1.4" fill="#282828"/><circle cx="506.6" cy="95.8" r="1.4" fill="#777"/><circle cx="499.6" cy="72.5" r="1.4" fill="#282828"/><circle cx="503.2" cy="71.8" r="1.4" fill="#282828"/><circle cx="503.2" cy="82.5" r="1.4" fill="#3c3c3c"/><circle cx="506.4" cy="74.4" r="1.4" fill="#282828"/><circle cx="502.8" cy="53.9" r="1.4" fill="#959595"/><circle cx="506.6" cy="89.5" r="1.4" fill="#e8e8e8"/><circle cx="499.4" cy="95.8" r="1.4" fill="#777"/><circle cx="499.7" cy="68.6" r="1.4" fill="#737373"/><circle cx="499.1" cy="75.1" r="1.4" fill="#282828"/><circle cx="503.3" cy="75.0" r="1.4" fill="#282828"/><circle cx="496.0" cy="55.1" r="1.4" fill="#959595"/><circle cx="496.0" cy="72.7" r="1.4" fill="#282828"/><circle cx="506.4" cy="73.3" r="1.4" fill="#282828"/><circle cx="496.0" cy="74.8" r="1.4" fill="#282828"/><circle cx="499.1" cy="73.4" r="1.4" fill="#282828"/><circle cx="499.2" cy="84.8" r="1.4" fill="#434343"/><circle cx="496.1" cy="76.7" r="1.4" fill="#282828"/><circle cx="502.9" cy="56.6" r="1.4" fill="#959595"/><circle cx="506.5" cy="74.3" r="1.4" fill="#282828"/><circle cx="506.9" cy="77.7" r="1.4" fill="#282828"/><circle cx="503.0" cy="85.0" r="1.4" fill="#434343"/><circle cx="499.5" cy="59.9" r="1.4" fill="#bebebe"/><circle cx="495.9" cy="65.0" r="1.4" fill="#959595"/><circle cx="499.7" cy="78.3" r="1.4" fill="#282828"/><circle cx="503.3" cy="77.1" r="1.4" fill="#282828"/><circle cx="499.1" cy="76.1" r="1.4" fill="#282828"/><circle cx="506.5" cy="54.1" r="1.4" fill="#959595"/><circle cx="503.2" cy="67.4" r="1.4" fill="#737373"/><circle cx="496.0" cy="62.3" r="1.4" fill="#b8b8b8"/><circle cx="503.3" cy="71.0" r="1.4" fill="#282828"/><circle cx="499.0" cy="81.0" r="1.4" fill="#3c3c3c"/><circle cx="496.0" cy="84.9" r="1.4" fill="#434343"/><circle cx="495.8" cy="91.0" r="1.4" fill="#555"/><circle cx="499.4" cy="55.8" r="1.4" fill="#959595"/><circle cx="503.4" cy="79.3" r="1.4" fill="#3c3c3c"/><circle cx="502.9" cy="61.1" r="1.4" fill="#bebebe"/><circle cx="506.6" cy="91.0" r="1.4" fill="#555"/><circle cx="506.9" cy="64.1" r="1.4" fill="#959595"/><circle cx="495.5" cy="61.1" r="1.4" fill="#bebebe"/><circle cx="502.8" cy="86.7" r="1.4" fill="#aaaaaa"/><circle cx="502.8" cy="74.9" r="1.4" fill="#282828"/><circle cx="506.7" cy="61.4" r="1.4" fill="#b8b8b8"/><circle cx="495.6" cy="78.3" r="1.4" fill="#282828"/><circle cx="506.7" cy="78.5" r="1.4" fill="#282828"/><circle cx="503.0" cy="95.8" r="1.4" fill="#777"/><circle cx="495.7" cy="87.2" r="1.4" fill="#aaaaaa"/><circle cx="506.7" cy="85.3" r="1.4" fill="#434343"/><circle cx="502.9" cy="71.3" r="1.4" fill="#282828"/><circle cx="496.0" cy="71.1" r="1.4" fill="#282828"/><circle cx="495.5" cy="79.4" r="1.4" fill="#3c3c3c"/><circle cx="499.6" cy="83.8" r="1.4" fill="#434343"/><circle cx="506.6" cy="79.1" r="1.4" fill="#3c3c3c"/><circle cx="499.5" cy="79.4" r="1.4" fill="#3c3c3c"/><circle cx="496.2" cy="74.1" r="1.4" fill="#282828"/><circle cx="503.1" cy="79.7" r="1.4" fill="#3c3c3c"/><circle cx="506.4" cy="71.1" r="1.4" fill="#282828"/><circle cx="503.0" cy="55.3" r="1.4" fill="#959595"/><circle cx="495.8" cy="95.8" r="1.4" fill="#777"/><circle cx="499.4" cy="70.3" r="1.4" fill="#282828"/><circle cx="496.1" cy="73.0" r="1.4" fill="#282828"/><circle cx="506.7" cy="72.6" r="1.4" fill="#282828"/><circle cx="499.5" cy="76.3" r="1.4" fill="#282828"/><circle cx="506.9" cy="76.2" r="1.4" fill="#282828"/><circle cx="499.4" cy="91.0" r="1.4" fill="#555"/><circle cx="502.7" cy="84.9" r="1.4" fill="#434343"/><circle cx="506.8" cy="59.8" r="1.4" fill="#bebebe"/><circle cx="503.1" cy="77.4" r="1.4" fill="#282828"/><circle cx="499.7" cy="60.3" r="1.4" fill="#bebebe"/><circle cx="496.1" cy="77.9" r="1.4" fill="#282828"/><circle cx="506.6" cy="95.8" r="1.4" fill="#777"/><circle cx="499.5" cy="72.6" r="1.4" fill="#282828"/><circle cx="499.4" cy="95.8" r="1.4" fill="#777"/><circle cx="506.8" cy="77.4" r="1.4" fill="#282828"/><circle cx="499.8" cy="63.9" r="1.4" fill="#959595"/><circle cx="495.9" cy="57.1" r="1.4" fill="#959595"/><circle cx="495.4" cy="85.3" r="1.4" fill="#434343"/><circle cx="499.3" cy="77.6" r="1.4" fill="#282828"/><circle cx="503.2" cy="73.3" r="1.4" fill="#282828"/><circle cx="499.3" cy="73.9" r="1.4" fill="#282828"/><circle cx="503.0" cy="95.8" r="1.4" fill="#777"/><circle cx="506.9" cy="86.5" r="1.4" fill="#aaaaaa"/><circle cx="506.5" cy="86.0" r="1.4" fill="#434343"/><circle cx="495.8" cy="95.8" r="1.4" fill="#777"/><circle cx="496.0" cy="82.0" r="1.4" fill="#3c3c3c"/><circle cx="503.4" cy="61.1" r="1.4" fill="#bebebe"/><circle cx="503.1" cy="78.1" r="1.4" fill="#282828"/><circle cx="506.6" cy="95.8" r="1.4" fill="#777"/><circle cx="499.2" cy="84.1" r="1.4" fill="#434343"/><circle cx="503.0" cy="85.7" r="1.4" fill="#434343"/><circle cx="495.7" cy="84.0" r="1.4" fill="#434343"/><circle cx="496.2" cy="60.3" r="1.4" fill="#bebebe"/><circle cx="499.4" cy="88.7" r="1.4" fill="#aaaaaa"/><circle cx="502.9" cy="74.1" r="1.4" fill="#282828"/><circle cx="506.6" cy="57.9" r="1.4" fill="#959595"/><circle cx="496.0" cy="72.7" r="1.4" fill="#282828"/><circle cx="503.0" cy="91.0" r="1.4" fill="#555"/><circle cx="496.1" cy="79.3" r="1.4" fill="#3c3c3c"/><circle cx="506.7" cy="72.1" r="1.4" fill="#282828"/><circle cx="495.8" cy="78.1" r="1.4" fill="#282828"/><circle cx="506.7" cy="78.3" r="1.4" fill="#282828"/><circle cx="506.4" cy="80.5" r="1.4" fill="#3c3c3c"/><circle cx="495.8" cy="91.0" r="1.4" fill="#555"/><circle cx="499.5" cy="77.9" r="1.4" fill="#282828"/><circle cx="499.7" cy="73.2" r="1.4" fill="#282828"/><circle cx="496.0" cy="67.2" r="1.4" fill="#737373"/><circle cx="506.6" cy="83.2" r="1.4" fill="#3c3c3c"/><circle cx="502.8" cy="77.1" r="1.4" fill="#282828"/><circle cx="507.0" cy="59.3" r="1.4" fill="#bebebe"/><circle cx="496.1" cy="56.2" r="1.4" fill="#959595"/><circle cx="503.0" cy="66.2" r="1.4" fill="#959595"/><circle cx="506.3" cy="85.6" r="1.4" fill="#434343"/><circle cx="499.4" cy="95.8" r="1.4" fill="#777"/><circle cx="499.1" cy="79.1" r="1.4" fill="#3c3c3c"/><circle cx="503.2" cy="70.8" r="1.4" fill="#282828"/><circle cx="499.2" cy="89.1" r="1.4" fill="#e8e8e8"/><circle cx="506.6" cy="91.0" r="1.4" fill="#555"/><circle cx="503.0" cy="95.8" r="1.4" fill="#777"/><circle cx="495.6" cy="77.4" r="1.4" fill="#282828"/><circle cx="503.4" cy="73.4" r="1.4" fill="#282828"/><circle cx="506.3" cy="68.3" r="1.4" fill="#737373"/><circle cx="495.7" cy="75.0" r="1.4" fill="#282828"/><circle cx="506.3" cy="76.6" r="1.4" fill="#282828"/><circle cx="503.1" cy="89.3" r="1.4" fill="#e8e8e8"/><circle cx="499.1" cy="67.2" r="1.4" fill="#737373"/><circle cx="506.7" cy="75.9" r="1.4" fill="#282828"/><circle cx="495.8" cy="95.8" r="1.4" fill="#777"/><circle cx="499.4" cy="76.2" r="1.4" fill="#282828"/><circle cx="506.6" cy="54.3" r="1.4" fill="#959595"/><circle cx="503.2" cy="68.7" r="1.4" fill="#737373"/><circle cx="506.6" cy="95.8" r="1.4" fill="#777"/><circle cx="502.6" cy="80.5" r="1.4" fill="#3c3c3c"/><circle cx="499.6" cy="54.3" r="1.4" fill="#959595"/><circle cx="499.1" cy="62.5" r="1.4" fill="#b8b8b8"/><circle cx="499.5" cy="82.9" r="1.4" fill="#3c3c3c"/><circle cx="503.2" cy="87.1" r="1.4" fill="#aaaaaa"/><circle cx="495.5" cy="69.6" r="1.4" fill="#282828"/><circle cx="496.0" cy="88.5" r="1.4" fill="#aaaaaa"/><circle cx="499.5" cy="60.1" r="1.4" fill="#bebebe"/><circle cx="499.2" cy="85.3" r="1.4" fill="#434343"/><circle cx="499.5" cy="77.0" r="1.4" fill="#282828"/><circle cx="495.5" cy="68.7" r="1.4" fill="#737373"/><circle cx="502.9" cy="84.9" r="1.4" fill="#434343"/><circle cx="496.2" cy="73.1" r="1.4" fill="#282828"/><circle cx="506.7" cy="68.2" r="1.4" fill="#737373"/><circle cx="506.3" cy="72.3" r="1.4" fill="#282828"/><circle cx="499.8" cy="56.4" r="1.4" fill="#959595"/><circle cx="506.6" cy="51.9" r="1.4" fill="#e8e8e8"/><circle cx="503.3" cy="82.0" r="1.4" fill="#3c3c3c"/><circle cx="502.9" cy="76.2" r="1.4" fill="#282828"/><circle cx="502.8" cy="76.6" r="1.4" fill="#282828"/><circle cx="506.8" cy="69.2" r="1.4" fill="#282828"/><circle cx="499.4" cy="91.0" r="1.4" fill="#555"/><circle cx="502.6" cy="54.4" r="1.4" fill="#959595"/><circle cx="503.0" cy="91.0" r="1.4" fill="#555"/><circle cx="495.8" cy="75.3" r="1.4" fill="#282828"/><circle cx="499.0" cy="73.3" r="1.4" fill="#282828"/><circle cx="496.1" cy="81.4" r="1.4" fill="#3c3c3c"/><circle cx="495.6" cy="78.9" r="1.4" fill="#3c3c3c"/><circle cx="499.4" cy="95.8" r="1.4" fill="#777"/><circle cx="499.1" cy="69.0" r="1.4" fill="#282828"/><circle cx="495.6" cy="54.8" r="1.4" fill="#959595"/><circle cx="507.0" cy="88.1" r="1.4" fill="#aaaaaa"/><circle cx="506.3" cy="75.8" r="1.4" fill="#282828"/><circle cx="499.4" cy="74.5" r="1.4" fill="#282828"/><circle cx="506.7" cy="80.9" r="1.4" fill="#3c3c3c"/><circle cx="499.2" cy="87.8" r="1.4" fill="#aaaaaa"/><circle cx="503.0" cy="72.0" r="1.4" fill="#282828"/><circle cx="502.6" cy="70.8" r="1.4" fill="#282828"/><circle cx="503.0" cy="95.8" r="1.4" fill="#777"/><circle cx="495.8" cy="95.8" r="1.4" fill="#777"/><circle cx="506.6" cy="95.8" r="1.4" fill="#777"/><circle cx="495.8" cy="91.0" r="1.4" fill="#555"/><circle cx="506.6" cy="49.0" r="1.4" fill="#e8e8e8"/><circle cx="495.8" cy="85.4" r="1.4" fill="#434343"/><circle cx="507.0" cy="81.6" r="1.4" fill="#3c3c3c"/><circle cx="503.0" cy="73.8" r="1.4" fill="#282828"/><circle cx="499.4" cy="95.8" r="1.4" fill="#777"/><circle cx="496.0" cy="71.2" r="1.4" fill="#282828"/><circle cx="495.7" cy="77.0" r="1.4" fill="#282828"/><circle cx="506.6" cy="91.0" r="1.4" fill="#555"/><circle cx="503.2" cy="61.7" r="1.4" fill="#b8b8b8"/><circle cx="499.2" cy="68.3" r="1.4" fill="#737373"/><circle cx="495.9" cy="74.2" r="1.4" fill="#282828"/><circle cx="496.2" cy="71.7" r="1.4" fill="#282828"/><circle cx="506.6" cy="74.2" r="1.4" fill="#282828"/><circle cx="506.8" cy="71.9" r="1.4" fill="#282828"/><circle cx="495.7" cy="64.3" r="1.4" fill="#959595"/><circle cx="499.4" cy="91.0" r="1.4" fill="#555"/><circle cx="506.5" cy="77.8" r="1.4" fill="#282828"/><circle cx="499.1" cy="80.0" r="1.4" fill="#3c3c3c"/><circle cx="499.2" cy="78.1" r="1.4" fill="#282828"/><circle cx="495.9" cy="62.0" r="1.4" fill="#b8b8b8"/><circle cx="503.2" cy="78.1" r="1.4" fill="#282828"/><circle cx="499.6" cy="83.6" r="1.4" fill="#3c3c3c"/><circle cx="503.1" cy="68.4" r="1.4" fill="#737373"/><circle cx="499.1" cy="72.4" r="1.4" fill="#282828"/><circle cx="506.8" cy="56.2" r="1.4" fill="#959595"/><circle cx="506.2" cy="84.4" r="1.4" fill="#434343"/><circle cx="503.0" cy="95.8" r="1.4" fill="#777"/><circle cx="502.9" cy="82.0" r="1.4" fill="#3c3c3c"/><circle cx="495.8" cy="95.8" r="1.4" fill="#777"/><circle cx="502.7" cy="72.9" r="1.4" fill="#282828"/><circle cx="495.7" cy="77.3" r="1.4" fill="#282828"/><circle cx="506.6" cy="95.8" r="1.4" fill="#777"/><circle cx="507.0" cy="69.6" r="1.4" fill="#282828"/><circle cx="499.4" cy="70.2" r="1.4" fill="#282828"/><circle cx="496.1" cy="83.5" r="1.4" fill="#3c3c3c"/><circle cx="503.1" cy="58.6" r="1.4" fill="#959595"/><circle cx="495.5" cy="72.2" r="1.4" fill="#282828"/><circle cx="506.8" cy="82.4" r="1.4" fill="#3c3c3c"/><circle cx="499.2" cy="74.5" r="1.4" fill="#282828"/><circle cx="499.5" cy="54.1" r="1.4" fill="#959595"/><circle cx="503.0" cy="91.0" r="1.4" fill="#555"/><circle cx="506.5" cy="65.9" r="1.4" fill="#959595"/><circle cx="506.7" cy="71.3" r="1.4" fill="#282828"/><circle cx="502.9" cy="59.3" r="1.4" fill="#bebebe"/><circle cx="499.2" cy="72.4" r="1.4" fill="#282828"/><circle cx="502.7" cy="73.0" r="1.4" fill="#282828"/><circle cx="506.9" cy="61.4" r="1.4" fill="#b8b8b8"/><circle cx="503.3" cy="70.5" r="1.4" fill="#282828"/><circle cx="502.8" cy="79.6" r="1.4" fill="#3c3c3c"/><circle cx="502.6" cy="88.2" r="1.4" fill="#aaaaaa"/><circle cx="502.7" cy="75.1" r="1.4" fill="#282828"/><circle cx="499.6" cy="66.1" r="1.4" fill="#959595"/><circle cx="499.7" cy="85.0" r="1.4" fill="#434343"/><circle cx="496.2" cy="74.8" r="1.4" fill="#282828"/><circle cx="495.7" cy="56.4" r="1.4" fill="#959595"/><circle cx="495.4" cy="60.0" r="1.4" fill="#bebebe"/><circle cx="506.4" cy="75.6" r="1.4" fill="#282828"/><circle cx="506.5" cy="57.1" r="1.4" fill="#959595"/><circle cx="499.6" cy="82.0" r="1.4" fill="#3c3c3c"/><circle cx="499.8" cy="56.3" r="1.4" fill="#959595"/><circle cx="503.1" cy="83.4" r="1.4" fill="#3c3c3c"/></g>
<path d="M419 64.5H512.5" stroke="#000" stroke-width="1" stroke-dasharray="1 1"/>
<path d="M418.5 31.1V101.5H512.75M415.8 48.2H418.5M415.8 64.1H418.5M415.8 80.1H418.5M415.8 95.7H418.5M430.4 101.5V104.2M453.9 101.5V104.2M477.6 101.5V104.2M501.2 101.5V104.2" stroke="#000" stroke-width="1" fill="none"/>
<text x="411.80" y="50.90" font-size="7.6" text-anchor="end" stroke="#000" stroke-width="0.12">1</text>
<text x="411.80" y="66.80" font-size="7.6" text-anchor="end" stroke="#000" stroke-width="0.12">0</text>
<text x="411.80" y="82.80" font-size="7.6" text-anchor="end" stroke="#000" stroke-width="0.12">−1</text>
<text x="411.80" y="98.40" font-size="7.6" text-anchor="end" stroke="#000" stroke-width="0.12">−2</text>
<text x="422.90" y="46.20" font-size="7.6" text-anchor="start" stroke="#000" stroke-width="0.12">n=581</text>
<text x="385.50" y="70.50" font-size="8" text-anchor="middle" stroke="#000" stroke-width="0.28" textLength="45.4" lengthAdjust="spacingAndGlyphs" transform="rotate(-90 385.50 70.50)">Gene expression</text>
<text x="397.6" y="70.2" font-size="8" text-anchor="middle" transform="rotate(-90 397.6 70.2)" textLength="33.8" lengthAdjust="spacingAndGlyphs" stroke="#000" stroke-width="0.28">(log<tspan font-size="5.6" dy="1.7">10</tspan><tspan dy="-1.7"> TPM)</tspan></text>
<text x="431.60" y="110.80" font-size="7.6" text-anchor="end" stroke="#000" stroke-width="0.04" font-style="italic" transform="rotate(-45 431.60 110.80)">SLCO1A2</text>
<text x="455.10" y="110.80" font-size="7.6" text-anchor="end" stroke="#000" stroke-width="0.04" font-style="italic" transform="rotate(-45 455.10 110.80)">SLCO1B1</text>
<text x="478.80" y="110.80" font-size="7.6" text-anchor="end" stroke="#000" stroke-width="0.04" font-style="italic" transform="rotate(-45 478.80 110.80)">SLCO1B3</text>
<text x="502.40" y="110.80" font-size="7.6" text-anchor="end" stroke="#000" stroke-width="0.04" font-style="italic" transform="rotate(-45 502.40 110.80)">SLCO2B1</text>
<text x="7.70" y="179.60" font-size="11" text-anchor="start" font-weight="bold">D</text>
<text x="59.20" y="189.30" font-size="6.8" text-anchor="middle" stroke="#000" stroke-width="0.12" textLength="33.9" lengthAdjust="spacingAndGlyphs">Acetyl-CoA</text>
<line x1="58.9" y1="193.5" x2="58.9" y2="212" stroke="#000" stroke-width="0.9"/>
<path d="M58.9 215.2 L56.7 210.6 L61.1 210.6 Z" fill="#000"/>
<text x="26.90" y="203.80" font-size="7.1" text-anchor="start" font-weight="bold" textLength="23.6" lengthAdjust="spacingAndGlyphs">Statins</text>
<path d="M53 201.6H63.6M63.6 198.3V205.2" stroke="#c8102e" stroke-width="1.1" fill="none"/>
<text x="66.90" y="203.80" font-size="6.8" text-anchor="start" stroke="#000" stroke-width="0.12">HMGCR</text>
<text x="59.00" y="224.20" font-size="6.8" text-anchor="middle" stroke="#000" stroke-width="0.12" textLength="34.4" lengthAdjust="spacingAndGlyphs">Mevalonate</text>
<line x1="59.3" y1="227.5" x2="59.3" y2="262" stroke="#000" stroke-width="0.9" stroke-dasharray="2.7 2.3"/>
<path d="M59.3 266.4 L57.1 261.8 L61.5 261.8 Z" fill="#000"/>
<text x="67.00" y="238.70" font-size="7.2" text-anchor="start" font-weight="bold" textLength="28" lengthAdjust="spacingAndGlyphs">TH-Z145</text>
<path d="M78.9 242.6V253.2M75 253.2H82.8" stroke="#c8102e" stroke-width="1.1" fill="none"/>
<text x="28.00" y="262.30" font-size="6.8" text-anchor="start" stroke="#000" stroke-width="0.12" textLength="19.7" lengthAdjust="spacingAndGlyphs">FDFT1</text>
<text x="68.00" y="262.30" font-size="6.8" text-anchor="start" stroke="#000" stroke-width="0.12" textLength="24.3" lengthAdjust="spacingAndGlyphs">GGPS1</text>
<path d="M34.4 280V266.1H85.9V280" stroke="#000" stroke-width="1" fill="none"/>
<path d="M34.4 281.2 L32.2 276.6 L36.6 276.6 Z M85.9 281.2 L83.7 276.6 L88.1 276.6 Z" fill="#000"/>
<text x="34.30" y="288.90" font-size="6.8" text-anchor="middle" stroke="#000" stroke-width="0.12" textLength="28.4" lengthAdjust="spacingAndGlyphs">Squalene</text>
<text x="85.30" y="287.50" font-size="6.8" text-anchor="middle" stroke="#000" stroke-width="0.12" textLength="24.2" lengthAdjust="spacingAndGlyphs">Geranyl-</text>
<text x="85.75" y="296.90" font-size="6.8" text-anchor="middle" stroke="#000" stroke-width="0.12" textLength="32.3" lengthAdjust="spacingAndGlyphs">geranyl PP</text>
<line x1="33.9" y1="292.5" x2="33.9" y2="317.5" stroke="#000" stroke-width="0.9" stroke-dasharray="2.7 2.3"/>
<line x1="85.4" y1="300.5" x2="85.4" y2="317.5" stroke="#000" stroke-width="0.9" stroke-dasharray="2.7 2.3"/>
<path d="M33.9 321.6 L31.7 317 L36.1 317 Z M85.4 321.6 L83.2 317 L87.6 317 Z" fill="#000"/>
<text x="34.40" y="328.80" font-size="6.8" text-anchor="middle" stroke="#000" stroke-width="0.12" textLength="34.8" lengthAdjust="spacingAndGlyphs">Cholesterol</text>
<text x="85.50" y="328.80" font-size="6.8" text-anchor="middle" stroke="#000" stroke-width="0.12" textLength="21.3" lengthAdjust="spacingAndGlyphs">Protein</text>
<text x="85.40" y="337.80" font-size="6.8" text-anchor="middle" stroke="#000" stroke-width="0.12" textLength="58.4" lengthAdjust="spacingAndGlyphs">geranylgeranylation</text>
<text x="145.00" y="180.00" font-size="11" text-anchor="start" font-weight="bold">E</text>
<path d="M189.82 200.62V197.75M188.42 197.75H191.22" stroke="#222" stroke-width="0.9"/>
<rect x="184.9" y="200.62" width="9.85" height="59.08" fill="#c8102e" stroke="#b5001f" stroke-width="0.4"/>
<path d="M206.90 220.29V216.32M205.50 216.32H208.30" stroke="#222" stroke-width="0.9"/>
<rect x="201.9" y="220.29" width="10.00" height="39.41" fill="#c8102e" stroke="#b5001f" stroke-width="0.4"/>
<path d="M224.45 203.15V201.04M223.05 201.04H225.85" stroke="#222" stroke-width="0.9"/>
<rect x="219.6" y="203.15" width="9.70" height="56.55" fill="#c8102e" stroke="#b5001f" stroke-width="0.4"/>
<path d="M173 182.8V259.7H239M169.8 192.2H173M169.8 209H173M169.8 225.9H173M169.8 242.8H173M169.8 259.7H173" stroke="#333" stroke-width="1.1" fill="none"/>
<text x="166.60" y="194.98" font-size="7.8" text-anchor="end" stroke="#000" stroke-width="0.12">80</text>
<text x="166.60" y="211.86" font-size="7.8" text-anchor="end" stroke="#000" stroke-width="0.12">60</text>
<text x="166.60" y="228.74" font-size="7.8" text-anchor="end" stroke="#000" stroke-width="0.12">40</text>
<text x="166.60" y="245.62" font-size="7.8" text-anchor="end" stroke="#000" stroke-width="0.12">20</text>
<text x="166.60" y="262.50" font-size="7.8" text-anchor="end" stroke="#000" stroke-width="0.12">0</text>
<text x="149.60" y="221.70" font-size="8" text-anchor="middle" stroke="#000" stroke-width="0.28" textLength="50" lengthAdjust="spacingAndGlyphs" transform="rotate(-90 149.60 221.70)">Kd efficiency (%)</text>
<path d="M189.75 327.92V335.04M188.35 335.04H191.15" stroke="#222" stroke-width="0.9"/>
<rect x="185" y="285.50" width="9.50" height="42.42" fill="#c8102e" stroke="#b5001f" stroke-width="0.4"/>
<path d="M207.10 306.05V307.11M205.70 307.11H208.50" stroke="#222" stroke-width="0.9"/>
<rect x="202.3" y="285.50" width="9.60" height="20.55" fill="#c8102e" stroke="#b5001f" stroke-width="0.4"/>
<path d="M224.50 279.97V278.91M223.10 278.91H225.90" stroke="#222" stroke-width="0.9"/>
<rect x="219.7" y="279.97" width="9.60" height="5.53" fill="#c8102e" stroke="#b5001f" stroke-width="0.4"/>
<path d="M173 280.2H240M173 290.8H240" stroke="#000" stroke-width="0.8" stroke-dasharray="1 1"/>
<path d="M173 285.5H240" stroke="#000" stroke-width="1.3"/>
<path d="M173.1 269.2V343.8M169.8 274.96H173M169.8 285.50H173M169.8 296.04H173M169.8 306.58H173M169.8 317.12H173M169.8 327.66H173M169.8 338.20H173" stroke="#333" stroke-width="1.1" fill="none"/>
<text x="166.60" y="277.76" font-size="7.8" text-anchor="end" stroke="#000" stroke-width="0.12">2</text>
<text x="166.60" y="288.30" font-size="7.8" text-anchor="end" stroke="#000" stroke-width="0.12">0</text>
<text x="166.60" y="298.84" font-size="7.8" text-anchor="end" stroke="#000" stroke-width="0.12">−2</text>
<text x="166.60" y="309.38" font-size="7.8" text-anchor="end" stroke="#000" stroke-width="0.12">−4</text>
<text x="166.60" y="319.92" font-size="7.8" text-anchor="end" stroke="#000" stroke-width="0.12">−6</text>
<text x="166.60" y="330.46" font-size="7.8" text-anchor="end" stroke="#000" stroke-width="0.12">−8</text>
<text x="166.60" y="341.00" font-size="7.8" text-anchor="end" stroke="#000" stroke-width="0.12">−10</text>
<text x="150.2" y="305.5" font-size="8" text-anchor="middle" transform="rotate(-90 150.2 305.5)" textLength="57" lengthAdjust="spacingAndGlyphs" stroke="#000" stroke-width="0.28">FC atorvastatin IC<tspan font-size="5.6" dy="1.7">50</tspan></text>
<text x="190.70" y="347.40" font-size="7.5" text-anchor="end" stroke="#000" stroke-width="0.12" transform="rotate(-45 190.70 347.40)">shHMGCR</text>
<text x="208.10" y="347.40" font-size="7.5" text-anchor="end" stroke="#000" stroke-width="0.12" transform="rotate(-45 208.10 347.40)">shGGPS1</text>
<text x="225.50" y="347.40" font-size="7.5" text-anchor="end" stroke="#000" stroke-width="0.12" transform="rotate(-45 225.50 347.40)">shFDFT1</text>
<text x="269.40" y="181.00" font-size="11" text-anchor="start" font-weight="bold">F</text>
<text x="357.60" y="191.30" font-size="8.6" text-anchor="middle" font-weight="bold" textLength="44.6" lengthAdjust="spacingAndGlyphs">OCI-AML3</text>
<text x="436.30" y="191.30" font-size="8.6" text-anchor="middle" font-weight="bold" textLength="44.6" lengthAdjust="spacingAndGlyphs">OCI-AML5</text>
<g shape-rendering="crispEdges">
<rect x="319.40" y="195.00" width="9.53" height="9.39" fill="#440154"/>
<rect x="328.62" y="195.00" width="9.53" height="9.39" fill="#440154"/>
<rect x="337.85" y="195.00" width="9.53" height="9.39" fill="#440154"/>
<rect x="347.07" y="195.00" width="9.53" height="9.39" fill="#440154"/>
<rect x="356.30" y="195.00" width="9.53" height="9.39" fill="#440154"/>
<rect x="365.52" y="195.00" width="9.53" height="9.39" fill="#440154"/>
<rect x="374.75" y="195.00" width="9.53" height="9.39" fill="#440154"/>
<rect x="383.97" y="195.00" width="9.53" height="9.39" fill="#440154"/>
<rect x="319.40" y="204.09" width="9.53" height="9.39" fill="#440154"/>
<rect x="328.62" y="204.09" width="9.53" height="9.39" fill="#461668"/>
<rect x="337.85" y="204.09" width="9.53" height="9.39" fill="#440154"/>
<rect x="347.07" y="204.09" width="9.53" height="9.39" fill="#440154"/>
<rect x="356.30" y="204.09" width="9.53" height="9.39" fill="#471d6e"/>
<rect x="365.52" y="204.09" width="9.53" height="9.39" fill="#471d6e"/>
<rect x="374.75" y="204.09" width="9.53" height="9.39" fill="#472a79"/>
<rect x="383.97" y="204.09" width="9.53" height="9.39" fill="#472a79"/>
<rect x="319.40" y="213.18" width="9.53" height="9.39" fill="#440154"/>
<rect x="328.62" y="213.18" width="9.53" height="9.39" fill="#471d6e"/>
<rect x="337.85" y="213.18" width="9.53" height="9.39" fill="#472a79"/>
<rect x="347.07" y="213.18" width="9.53" height="9.39" fill="#440154"/>
<rect x="356.30" y="213.18" width="9.53" height="9.39" fill="#21918c"/>
<rect x="365.52" y="213.18" width="9.53" height="9.39" fill="#2a788e"/>
<rect x="374.75" y="213.18" width="9.53" height="9.39" fill="#b0dc2f"/>
<rect x="383.97" y="213.18" width="9.53" height="9.39" fill="#e3e425"/>
<rect x="319.40" y="222.26" width="9.53" height="9.39" fill="#440154"/>
<rect x="328.62" y="222.26" width="9.53" height="9.39" fill="#471d6e"/>
<rect x="337.85" y="222.26" width="9.53" height="9.39" fill="#45317c"/>
<rect x="347.07" y="222.26" width="9.53" height="9.39" fill="#414487"/>
<rect x="356.30" y="222.26" width="9.53" height="9.39" fill="#2c738e"/>
<rect x="365.52" y="222.26" width="9.53" height="9.39" fill="#2e6e8e"/>
<rect x="374.75" y="222.26" width="9.53" height="9.39" fill="#4fc36a"/>
<rect x="383.97" y="222.26" width="9.53" height="9.39" fill="#44bf70"/>
<rect x="319.40" y="231.35" width="9.53" height="9.39" fill="#440154"/>
<rect x="328.62" y="231.35" width="9.53" height="9.39" fill="#423e83"/>
<rect x="337.85" y="231.35" width="9.53" height="9.39" fill="#443780"/>
<rect x="347.07" y="231.35" width="9.53" height="9.39" fill="#414487"/>
<rect x="356.30" y="231.35" width="9.53" height="9.39" fill="#36b678"/>
<rect x="365.52" y="231.35" width="9.53" height="9.39" fill="#238c8c"/>
<rect x="374.75" y="231.35" width="9.53" height="9.39" fill="#b0dc2f"/>
<rect x="383.97" y="231.35" width="9.53" height="9.39" fill="#e3e425"/>
<rect x="319.40" y="240.44" width="9.53" height="9.39" fill="#440154"/>
<rect x="328.62" y="240.44" width="9.53" height="9.39" fill="#33648d"/>
<rect x="337.85" y="240.44" width="9.53" height="9.39" fill="#45317c"/>
<rect x="347.07" y="240.44" width="9.53" height="9.39" fill="#3c4f89"/>
<rect x="356.30" y="240.44" width="9.53" height="9.39" fill="#64ca5d"/>
<rect x="365.52" y="240.44" width="9.53" height="9.39" fill="#22a884"/>
<rect x="374.75" y="240.44" width="9.53" height="9.39" fill="#fde725"/>
<rect x="383.97" y="240.44" width="9.53" height="9.39" fill="#fde725"/>
<rect x="319.40" y="249.53" width="9.53" height="9.39" fill="#440154"/>
<rect x="328.62" y="249.53" width="9.53" height="9.39" fill="#443780"/>
<rect x="337.85" y="249.53" width="9.53" height="9.39" fill="#440154"/>
<rect x="347.07" y="249.53" width="9.53" height="9.39" fill="#482475"/>
<rect x="356.30" y="249.53" width="9.53" height="9.39" fill="#3a548b"/>
<rect x="365.52" y="249.53" width="9.53" height="9.39" fill="#471d6e"/>
<rect x="374.75" y="249.53" width="9.53" height="9.39" fill="#238c8c"/>
<rect x="383.97" y="249.53" width="9.53" height="9.39" fill="#7ad151"/>
<rect x="319.40" y="258.61" width="9.53" height="9.39" fill="#440154"/>
<rect x="328.62" y="258.61" width="9.53" height="9.39" fill="#440154"/>
<rect x="337.85" y="258.61" width="9.53" height="9.39" fill="#440154"/>
<rect x="347.07" y="258.61" width="9.53" height="9.39" fill="#440154"/>
<rect x="356.30" y="258.61" width="9.53" height="9.39" fill="#440154"/>
<rect x="365.52" y="258.61" width="9.53" height="9.39" fill="#440154"/>
<rect x="374.75" y="258.61" width="9.53" height="9.39" fill="#440154"/>
<rect x="383.97" y="258.61" width="9.53" height="9.39" fill="#440154"/>
</g>
<text x="322.60" y="264.40" font-size="6.4" text-anchor="start" fill="#f4f4f4">859</text>
<g shape-rendering="crispEdges">
<rect x="399.90" y="195.00" width="9.39" height="9.39" fill="#440154"/>
<rect x="408.99" y="195.00" width="9.39" height="9.39" fill="#45085b"/>
<rect x="418.07" y="195.00" width="9.39" height="9.39" fill="#440154"/>
<rect x="427.16" y="195.00" width="9.39" height="9.39" fill="#440154"/>
<rect x="436.25" y="195.00" width="9.39" height="9.39" fill="#440154"/>
<rect x="445.34" y="195.00" width="9.39" height="9.39" fill="#440154"/>
<rect x="454.42" y="195.00" width="9.39" height="9.39" fill="#440154"/>
<rect x="463.51" y="195.00" width="9.39" height="9.39" fill="#440154"/>
<rect x="399.90" y="204.09" width="9.39" height="9.39" fill="#440154"/>
<rect x="408.99" y="204.09" width="9.39" height="9.39" fill="#45085b"/>
<rect x="418.07" y="204.09" width="9.39" height="9.39" fill="#482475"/>
<rect x="427.16" y="204.09" width="9.39" height="9.39" fill="#482475"/>
<rect x="436.25" y="204.09" width="9.39" height="9.39" fill="#472a79"/>
<rect x="445.34" y="204.09" width="9.39" height="9.39" fill="#45317c"/>
<rect x="454.42" y="204.09" width="9.39" height="9.39" fill="#443780"/>
<rect x="463.51" y="204.09" width="9.39" height="9.39" fill="#443780"/>
<rect x="399.90" y="213.18" width="9.39" height="9.39" fill="#440154"/>
<rect x="408.99" y="213.18" width="9.39" height="9.39" fill="#45085b"/>
<rect x="418.07" y="213.18" width="9.39" height="9.39" fill="#45317c"/>
<rect x="427.16" y="213.18" width="9.39" height="9.39" fill="#460f61"/>
<rect x="436.25" y="213.18" width="9.39" height="9.39" fill="#219a89"/>
<rect x="445.34" y="213.18" width="9.39" height="9.39" fill="#238c8c"/>
<rect x="454.42" y="213.18" width="9.39" height="9.39" fill="#64ca5d"/>
<rect x="463.51" y="213.18" width="9.39" height="9.39" fill="#36b678"/>
<rect x="399.90" y="222.26" width="9.39" height="9.39" fill="#440154"/>
<rect x="408.99" y="222.26" width="9.39" height="9.39" fill="#45085b"/>
<rect x="418.07" y="222.26" width="9.39" height="9.39" fill="#443780"/>
<rect x="427.16" y="222.26" width="9.39" height="9.39" fill="#443780"/>
<rect x="436.25" y="222.26" width="9.39" height="9.39" fill="#31698d"/>
<rect x="445.34" y="222.26" width="9.39" height="9.39" fill="#31698d"/>
<rect x="454.42" y="222.26" width="9.39" height="9.39" fill="#21918c"/>
<rect x="463.51" y="222.26" width="9.39" height="9.39" fill="#26828d"/>
<rect x="399.90" y="231.35" width="9.39" height="9.39" fill="#440154"/>
<rect x="408.99" y="231.35" width="9.39" height="9.39" fill="#440154"/>
<rect x="418.07" y="231.35" width="9.39" height="9.39" fill="#460f61"/>
<rect x="427.16" y="231.35" width="9.39" height="9.39" fill="#45085b"/>
<rect x="436.25" y="231.35" width="9.39" height="9.39" fill="#414487"/>
<rect x="445.34" y="231.35" width="9.39" height="9.39" fill="#482475"/>
<rect x="454.42" y="231.35" width="9.39" height="9.39" fill="#30b17c"/>
<rect x="463.51" y="231.35" width="9.39" height="9.39" fill="#fde725"/>
<rect x="399.90" y="240.44" width="9.39" height="9.39" fill="#440154"/>
<rect x="408.99" y="240.44" width="9.39" height="9.39" fill="#440154"/>
<rect x="418.07" y="240.44" width="9.39" height="9.39" fill="#461668"/>
<rect x="427.16" y="240.44" width="9.39" height="9.39" fill="#45085b"/>
<rect x="436.25" y="240.44" width="9.39" height="9.39" fill="#2a788e"/>
<rect x="445.34" y="240.44" width="9.39" height="9.39" fill="#287d8e"/>
<rect x="454.42" y="240.44" width="9.39" height="9.39" fill="#95d740"/>
<rect x="463.51" y="240.44" width="9.39" height="9.39" fill="#fde725"/>
<rect x="399.90" y="249.53" width="9.39" height="9.39" fill="#440154"/>
<rect x="408.99" y="249.53" width="9.39" height="9.39" fill="#45317c"/>
<rect x="418.07" y="249.53" width="9.39" height="9.39" fill="#440154"/>
<rect x="427.16" y="249.53" width="9.39" height="9.39" fill="#440154"/>
<rect x="436.25" y="249.53" width="9.39" height="9.39" fill="#443780"/>
<rect x="445.34" y="249.53" width="9.39" height="9.39" fill="#3c4f89"/>
<rect x="454.42" y="249.53" width="9.39" height="9.39" fill="#3f4988"/>
<rect x="463.51" y="249.53" width="9.39" height="9.39" fill="#fde725"/>
<rect x="399.90" y="258.61" width="9.39" height="9.39" fill="#440154"/>
<rect x="408.99" y="258.61" width="9.39" height="9.39" fill="#440154"/>
<rect x="418.07" y="258.61" width="9.39" height="9.39" fill="#440154"/>
<rect x="427.16" y="258.61" width="9.39" height="9.39" fill="#440154"/>
<rect x="436.25" y="258.61" width="9.39" height="9.39" fill="#440154"/>
<rect x="445.34" y="258.61" width="9.39" height="9.39" fill="#440154"/>
<rect x="454.42" y="258.61" width="9.39" height="9.39" fill="#440154"/>
<rect x="463.51" y="258.61" width="9.39" height="9.39" fill="#440154"/>
</g>
<text x="403.10" y="264.40" font-size="6.4" text-anchor="start" fill="#f4f4f4">644</text>
<g shape-rendering="crispEdges">
<rect x="319.40" y="274.80" width="9.53" height="9.33" fill="#440154"/>
<rect x="328.62" y="274.80" width="9.53" height="9.33" fill="#461668"/>
<rect x="337.85" y="274.80" width="9.53" height="9.33" fill="#472a79"/>
<rect x="347.07" y="274.80" width="9.53" height="9.33" fill="#472a79"/>
<rect x="356.30" y="274.80" width="9.53" height="9.33" fill="#45085b"/>
<rect x="365.52" y="274.80" width="9.53" height="9.33" fill="#482475"/>
<rect x="374.75" y="274.80" width="9.53" height="9.33" fill="#440154"/>
<rect x="383.97" y="274.80" width="9.53" height="9.33" fill="#440154"/>
<rect x="319.40" y="283.82" width="9.53" height="9.33" fill="#440154"/>
<rect x="328.62" y="283.82" width="9.53" height="9.33" fill="#440154"/>
<rect x="337.85" y="283.82" width="9.53" height="9.33" fill="#471d6e"/>
<rect x="347.07" y="283.82" width="9.53" height="9.33" fill="#482475"/>
<rect x="356.30" y="283.82" width="9.53" height="9.33" fill="#440154"/>
<rect x="365.52" y="283.82" width="9.53" height="9.33" fill="#440154"/>
<rect x="374.75" y="283.82" width="9.53" height="9.33" fill="#440154"/>
<rect x="383.97" y="283.82" width="9.53" height="9.33" fill="#440154"/>
<rect x="319.40" y="292.85" width="9.53" height="9.33" fill="#440154"/>
<rect x="328.62" y="292.85" width="9.53" height="9.33" fill="#460f61"/>
<rect x="337.85" y="292.85" width="9.53" height="9.33" fill="#443780"/>
<rect x="347.07" y="292.85" width="9.53" height="9.33" fill="#21918c"/>
<rect x="356.30" y="292.85" width="9.53" height="9.33" fill="#440154"/>
<rect x="365.52" y="292.85" width="9.53" height="9.33" fill="#355f8d"/>
<rect x="374.75" y="292.85" width="9.53" height="9.33" fill="#440154"/>
<rect x="383.97" y="292.85" width="9.53" height="9.33" fill="#460f61"/>
<rect x="319.40" y="301.88" width="9.53" height="9.33" fill="#440154"/>
<rect x="328.62" y="301.88" width="9.53" height="9.33" fill="#423e83"/>
<rect x="337.85" y="301.88" width="9.53" height="9.33" fill="#355f8d"/>
<rect x="347.07" y="301.88" width="9.53" height="9.33" fill="#471d6e"/>
<rect x="356.30" y="301.88" width="9.53" height="9.33" fill="#3c4f89"/>
<rect x="365.52" y="301.88" width="9.53" height="9.33" fill="#423e83"/>
<rect x="374.75" y="301.88" width="9.53" height="9.33" fill="#440154"/>
<rect x="383.97" y="301.88" width="9.53" height="9.33" fill="#440154"/>
<rect x="319.40" y="310.90" width="9.53" height="9.33" fill="#440154"/>
<rect x="328.62" y="310.90" width="9.53" height="9.33" fill="#440154"/>
<rect x="337.85" y="310.90" width="9.53" height="9.33" fill="#482475"/>
<rect x="347.07" y="310.90" width="9.53" height="9.33" fill="#440154"/>
<rect x="356.30" y="310.90" width="9.53" height="9.33" fill="#440154"/>
<rect x="365.52" y="310.90" width="9.53" height="9.33" fill="#440154"/>
<rect x="374.75" y="310.90" width="9.53" height="9.33" fill="#440154"/>
<rect x="383.97" y="310.90" width="9.53" height="9.33" fill="#440154"/>
<rect x="319.40" y="319.93" width="9.53" height="9.33" fill="#440154"/>
<rect x="328.62" y="319.93" width="9.53" height="9.33" fill="#440154"/>
<rect x="337.85" y="319.93" width="9.53" height="9.33" fill="#423e83"/>
<rect x="347.07" y="319.93" width="9.53" height="9.33" fill="#440154"/>
<rect x="356.30" y="319.93" width="9.53" height="9.33" fill="#440154"/>
<rect x="365.52" y="319.93" width="9.53" height="9.33" fill="#440154"/>
<rect x="374.75" y="319.93" width="9.53" height="9.33" fill="#440154"/>
<rect x="383.97" y="319.93" width="9.53" height="9.33" fill="#440154"/>
<rect x="319.40" y="328.95" width="9.53" height="9.33" fill="#440154"/>
<rect x="328.62" y="328.95" width="9.53" height="9.33" fill="#440154"/>
<rect x="337.85" y="328.95" width="9.53" height="9.33" fill="#471d6e"/>
<rect x="347.07" y="328.95" width="9.53" height="9.33" fill="#471d6e"/>
<rect x="356.30" y="328.95" width="9.53" height="9.33" fill="#440154"/>
<rect x="365.52" y="328.95" width="9.53" height="9.33" fill="#440154"/>
<rect x="374.75" y="328.95" width="9.53" height="9.33" fill="#440154"/>
<rect x="383.97" y="328.95" width="9.53" height="9.33" fill="#440154"/>
<rect x="319.40" y="337.98" width="9.53" height="9.33" fill="#440154"/>
<rect x="328.62" y="337.98" width="9.53" height="9.33" fill="#440154"/>
<rect x="337.85" y="337.98" width="9.53" height="9.33" fill="#440154"/>
<rect x="347.07" y="337.98" width="9.53" height="9.33" fill="#440154"/>
<rect x="356.30" y="337.98" width="9.53" height="9.33" fill="#440154"/>
<rect x="365.52" y="337.98" width="9.53" height="9.33" fill="#440154"/>
<rect x="374.75" y="337.98" width="9.53" height="9.33" fill="#440154"/>
<rect x="383.97" y="337.98" width="9.53" height="9.33" fill="#440154"/>
</g>
<text x="322.60" y="343.70" font-size="6.4" text-anchor="start" fill="#f4f4f4">141</text>
<g shape-rendering="crispEdges">
<rect x="399.90" y="274.80" width="9.39" height="9.33" fill="#440154"/>
<rect x="408.99" y="274.80" width="9.39" height="9.33" fill="#440154"/>
<rect x="418.07" y="274.80" width="9.39" height="9.33" fill="#440154"/>
<rect x="427.16" y="274.80" width="9.39" height="9.33" fill="#440154"/>
<rect x="436.25" y="274.80" width="9.39" height="9.33" fill="#45085b"/>
<rect x="445.34" y="274.80" width="9.39" height="9.33" fill="#440154"/>
<rect x="454.42" y="274.80" width="9.39" height="9.33" fill="#440154"/>
<rect x="463.51" y="274.80" width="9.39" height="9.33" fill="#440154"/>
<rect x="399.90" y="283.82" width="9.39" height="9.33" fill="#440154"/>
<rect x="408.99" y="283.82" width="9.39" height="9.33" fill="#440154"/>
<rect x="418.07" y="283.82" width="9.39" height="9.33" fill="#440154"/>
<rect x="427.16" y="283.82" width="9.39" height="9.33" fill="#440154"/>
<rect x="436.25" y="283.82" width="9.39" height="9.33" fill="#440154"/>
<rect x="445.34" y="283.82" width="9.39" height="9.33" fill="#440154"/>
<rect x="454.42" y="283.82" width="9.39" height="9.33" fill="#440154"/>
<rect x="463.51" y="283.82" width="9.39" height="9.33" fill="#440154"/>
<rect x="399.90" y="292.85" width="9.39" height="9.33" fill="#440154"/>
<rect x="408.99" y="292.85" width="9.39" height="9.33" fill="#440154"/>
<rect x="418.07" y="292.85" width="9.39" height="9.33" fill="#440154"/>
<rect x="427.16" y="292.85" width="9.39" height="9.33" fill="#440154"/>
<rect x="436.25" y="292.85" width="9.39" height="9.33" fill="#440154"/>
<rect x="445.34" y="292.85" width="9.39" height="9.33" fill="#440154"/>
<rect x="454.42" y="292.85" width="9.39" height="9.33" fill="#440154"/>
<rect x="463.51" y="292.85" width="9.39" height="9.33" fill="#440154"/>
<rect x="399.90" y="301.88" width="9.39" height="9.33" fill="#440154"/>
<rect x="408.99" y="301.88" width="9.39" height="9.33" fill="#440154"/>
<rect x="418.07" y="301.88" width="9.39" height="9.33" fill="#440154"/>
<rect x="427.16" y="301.88" width="9.39" height="9.33" fill="#440154"/>
<rect x="436.25" y="301.88" width="9.39" height="9.33" fill="#440154"/>
<rect x="445.34" y="301.88" width="9.39" height="9.33" fill="#440154"/>
<rect x="454.42" y="301.88" width="9.39" height="9.33" fill="#461668"/>
<rect x="463.51" y="301.88" width="9.39" height="9.33" fill="#440154"/>
<rect x="399.90" y="310.90" width="9.39" height="9.33" fill="#440154"/>
<rect x="408.99" y="310.90" width="9.39" height="9.33" fill="#440154"/>
<rect x="418.07" y="310.90" width="9.39" height="9.33" fill="#440154"/>
<rect x="427.16" y="310.90" width="9.39" height="9.33" fill="#440154"/>
<rect x="436.25" y="310.90" width="9.39" height="9.33" fill="#45085b"/>
<rect x="445.34" y="310.90" width="9.39" height="9.33" fill="#440154"/>
<rect x="454.42" y="310.90" width="9.39" height="9.33" fill="#440154"/>
<rect x="463.51" y="310.90" width="9.39" height="9.33" fill="#440154"/>
<rect x="399.90" y="319.93" width="9.39" height="9.33" fill="#440154"/>
<rect x="408.99" y="319.93" width="9.39" height="9.33" fill="#440154"/>
<rect x="418.07" y="319.93" width="9.39" height="9.33" fill="#440154"/>
<rect x="427.16" y="319.93" width="9.39" height="9.33" fill="#440154"/>
<rect x="436.25" y="319.93" width="9.39" height="9.33" fill="#471d6e"/>
<rect x="445.34" y="319.93" width="9.39" height="9.33" fill="#440154"/>
<rect x="454.42" y="319.93" width="9.39" height="9.33" fill="#440154"/>
<rect x="463.51" y="319.93" width="9.39" height="9.33" fill="#440154"/>
<rect x="399.90" y="328.95" width="9.39" height="9.33" fill="#440154"/>
<rect x="408.99" y="328.95" width="9.39" height="9.33" fill="#440154"/>
<rect x="418.07" y="328.95" width="9.39" height="9.33" fill="#440154"/>
<rect x="427.16" y="328.95" width="9.39" height="9.33" fill="#440154"/>
<rect x="436.25" y="328.95" width="9.39" height="9.33" fill="#460f61"/>
<rect x="445.34" y="328.95" width="9.39" height="9.33" fill="#440154"/>
<rect x="454.42" y="328.95" width="9.39" height="9.33" fill="#440154"/>
<rect x="463.51" y="328.95" width="9.39" height="9.33" fill="#460f61"/>
<rect x="399.90" y="337.98" width="9.39" height="9.33" fill="#440154"/>
<rect x="408.99" y="337.98" width="9.39" height="9.33" fill="#440154"/>
<rect x="418.07" y="337.98" width="9.39" height="9.33" fill="#440154"/>
<rect x="427.16" y="337.98" width="9.39" height="9.33" fill="#440154"/>
<rect x="436.25" y="337.98" width="9.39" height="9.33" fill="#440154"/>
<rect x="445.34" y="337.98" width="9.39" height="9.33" fill="#440154"/>
<rect x="454.42" y="337.98" width="9.39" height="9.33" fill="#440154"/>
<rect x="463.51" y="337.98" width="9.39" height="9.33" fill="#440154"/>
</g>
<text x="403.10" y="343.70" font-size="6.4" text-anchor="start" fill="#f4f4f4">12</text>
<text x="316.00" y="202.25" font-size="7.6" text-anchor="end" stroke="#000" stroke-width="0.12">10,000</text>
<text x="316.00" y="282.00" font-size="7.6" text-anchor="end" stroke="#000" stroke-width="0.12">10,000</text>
<text x="316.00" y="211.34" font-size="7.6" text-anchor="end" stroke="#000" stroke-width="0.12">3,333</text>
<text x="316.00" y="291.03" font-size="7.6" text-anchor="end" stroke="#000" stroke-width="0.12">3,333</text>
<text x="316.00" y="220.43" font-size="7.6" text-anchor="end" stroke="#000" stroke-width="0.12">1,111</text>
<text x="316.00" y="300.06" font-size="7.6" text-anchor="end" stroke="#000" stroke-width="0.12">1,111</text>
<text x="316.00" y="229.52" font-size="7.6" text-anchor="end" stroke="#000" stroke-width="0.12">370</text>
<text x="316.00" y="309.09" font-size="7.6" text-anchor="end" stroke="#000" stroke-width="0.12">370</text>
<text x="316.00" y="238.61" font-size="7.6" text-anchor="end" stroke="#000" stroke-width="0.12">123</text>
<text x="316.00" y="318.12" font-size="7.6" text-anchor="end" stroke="#000" stroke-width="0.12">123</text>
<text x="316.00" y="247.70" font-size="7.6" text-anchor="end" stroke="#000" stroke-width="0.12">41</text>
<text x="316.00" y="327.15" font-size="7.6" text-anchor="end" stroke="#000" stroke-width="0.12">41</text>
<text x="316.00" y="256.79" font-size="7.6" text-anchor="end" stroke="#000" stroke-width="0.12">14</text>
<text x="316.00" y="336.18" font-size="7.6" text-anchor="end" stroke="#000" stroke-width="0.12">14</text>
<text x="316.00" y="265.88" font-size="7.6" text-anchor="end" stroke="#000" stroke-width="0.12">0</text>
<text x="316.00" y="345.21" font-size="7.6" text-anchor="end" stroke="#000" stroke-width="0.12">0</text>
<text x="326.71" y="351.20" font-size="7.6" text-anchor="end" stroke="#000" stroke-width="0.12" transform="rotate(-90 326.71 351.20)">0</text>
<text x="407.15" y="351.20" font-size="7.6" text-anchor="end" stroke="#000" stroke-width="0.12" transform="rotate(-90 407.15 351.20)">0</text>
<text x="335.93" y="351.20" font-size="7.6" text-anchor="end" stroke="#000" stroke-width="0.12" transform="rotate(-90 335.93 351.20)">7</text>
<text x="416.24" y="351.20" font-size="7.6" text-anchor="end" stroke="#000" stroke-width="0.12" transform="rotate(-90 416.24 351.20)">7</text>
<text x="345.15" y="351.20" font-size="7.6" text-anchor="end" stroke="#000" stroke-width="0.12" transform="rotate(-90 345.15 351.20)">21</text>
<text x="425.33" y="351.20" font-size="7.6" text-anchor="end" stroke="#000" stroke-width="0.12" transform="rotate(-90 425.33 351.20)">21</text>
<text x="354.37" y="351.20" font-size="7.6" text-anchor="end" stroke="#000" stroke-width="0.12" transform="rotate(-90 354.37 351.20)">62</text>
<text x="434.42" y="351.20" font-size="7.6" text-anchor="end" stroke="#000" stroke-width="0.12" transform="rotate(-90 434.42 351.20)">62</text>
<text x="363.59" y="351.20" font-size="7.6" text-anchor="end" stroke="#000" stroke-width="0.12" transform="rotate(-90 363.59 351.20)">185</text>
<text x="443.51" y="351.20" font-size="7.6" text-anchor="end" stroke="#000" stroke-width="0.12" transform="rotate(-90 443.51 351.20)">185</text>
<text x="372.81" y="351.20" font-size="7.6" text-anchor="end" stroke="#000" stroke-width="0.12" transform="rotate(-90 372.81 351.20)">556</text>
<text x="452.60" y="351.20" font-size="7.6" text-anchor="end" stroke="#000" stroke-width="0.12" transform="rotate(-90 452.60 351.20)">556</text>
<text x="382.03" y="351.20" font-size="7.6" text-anchor="end" stroke="#000" stroke-width="0.12" transform="rotate(-90 382.03 351.20)">1,667</text>
<text x="461.69" y="351.20" font-size="7.6" text-anchor="end" stroke="#000" stroke-width="0.12" transform="rotate(-90 461.69 351.20)">1,667</text>
<text x="391.25" y="351.20" font-size="7.6" text-anchor="end" stroke="#000" stroke-width="0.12" transform="rotate(-90 391.25 351.20)">5,000</text>
<text x="470.78" y="351.20" font-size="7.6" text-anchor="end" stroke="#000" stroke-width="0.12" transform="rotate(-90 470.78 351.20)">5,000</text>
<text x="393.50" y="382.00" font-size="8.4" text-anchor="middle" stroke="#000" stroke-width="0.28" textLength="80" lengthAdjust="spacingAndGlyphs">TH-Z145 concentration (nM)</text>
<text x="275.60" y="230.30" font-size="8.2" text-anchor="middle" stroke="#000" stroke-width="0.28" textLength="32.7" lengthAdjust="spacingAndGlyphs" transform="rotate(-90 275.60 230.30)">Atorvastatin</text>
<text x="285.90" y="230.50" font-size="8.2" text-anchor="middle" stroke="#000" stroke-width="0.28" textLength="53.9" lengthAdjust="spacingAndGlyphs" transform="rotate(-90 285.90 230.50)">concentration (nM)</text>
<text x="275.60" y="311.00" font-size="8.2" text-anchor="middle" stroke="#000" stroke-width="0.28" textLength="30" lengthAdjust="spacingAndGlyphs" transform="rotate(-90 275.60 311.00)">Cytarabine</text>
<text x="285.90" y="311.00" font-size="8.2" text-anchor="middle" stroke="#000" stroke-width="0.28" textLength="53.9" lengthAdjust="spacingAndGlyphs" transform="rotate(-90 285.90 311.00)">concentration (nM)</text>
<defs><linearGradient id="gv" x1="0" x2="0" y1="1" y2="0"><stop offset="0.0" stop-color="#440154"/><stop offset="0.1" stop-color="#482475"/><stop offset="0.2" stop-color="#414487"/><stop offset="0.3" stop-color="#355f8d"/><stop offset="0.4" stop-color="#2a788e"/><stop offset="0.5" stop-color="#21918c"/><stop offset="0.6" stop-color="#22a884"/><stop offset="0.7" stop-color="#44bf70"/><stop offset="0.8" stop-color="#7ad151"/><stop offset="0.9" stop-color="#bddf26"/><stop offset="1.0" stop-color="#fde725"/></linearGradient></defs>
<rect x="481.7" y="234.5" width="3.7" height="73.2" fill="url(#gv)" stroke="#222" stroke-width="0.3"/>
<line x1="485.4" y1="307.70" x2="487.9" y2="307.70" stroke="#000" stroke-width="0.8"/>
<text x="492.20" y="310.20" font-size="7" text-anchor="start" stroke="#000" stroke-width="0.12">0</text>
<line x1="485.4" y1="293.06" x2="487.9" y2="293.06" stroke="#000" stroke-width="0.8"/>
<text x="492.20" y="295.56" font-size="7" text-anchor="start" stroke="#000" stroke-width="0.12">10</text>
<line x1="485.4" y1="278.42" x2="487.9" y2="278.42" stroke="#000" stroke-width="0.8"/>
<text x="492.20" y="280.92" font-size="7" text-anchor="start" stroke="#000" stroke-width="0.12">20</text>
<line x1="485.4" y1="263.78" x2="487.9" y2="263.78" stroke="#000" stroke-width="0.8"/>
<text x="492.20" y="266.28" font-size="7" text-anchor="start" stroke="#000" stroke-width="0.12">30</text>
<line x1="485.4" y1="249.14" x2="487.9" y2="249.14" stroke="#000" stroke-width="0.8"/>
<text x="492.20" y="251.64" font-size="7" text-anchor="start" stroke="#000" stroke-width="0.12">40</text>
<line x1="485.4" y1="234.50" x2="487.9" y2="234.50" stroke="#000" stroke-width="0.8"/>
<text x="492.20" y="237.00" font-size="7" text-anchor="start" stroke="#000" stroke-width="0.12">50</text>
<text x="504.50" y="270.20" font-size="7.2" text-anchor="middle" stroke="#000" stroke-width="0.28" textLength="34.3" lengthAdjust="spacingAndGlyphs" transform="rotate(90 504.50 270.20)">Excess bliss</text>
<text x="150.00" y="405.00" font-size="11" text-anchor="start" font-weight="bold">G</text>
<g stroke="#1a1a1a" stroke-width="0.6"><circle cx="274.1" cy="535.1" r="2.1" fill="#181818"/><circle cx="273.5" cy="535.0" r="2.1" fill="#181818"/><circle cx="274.1" cy="534.5" r="2.1" fill="#181818"/><circle cx="273.9" cy="535.1" r="2.1" fill="#181818"/><circle cx="273.8" cy="534.9" r="2.1" fill="#181818"/><circle cx="274.2" cy="535.2" r="2.1" fill="#181818"/><circle cx="273.6" cy="535.0" r="2.1" fill="#181818"/><circle cx="273.6" cy="535.0" r="2.1" fill="#181818"/><circle cx="273.6" cy="534.8" r="2.1" fill="#181818"/><circle cx="273.5" cy="535.0" r="2.1" fill="#181818"/><circle cx="273.6" cy="535.0" r="2.1" fill="#181818"/><circle cx="273.6" cy="535.4" r="2.1" fill="#181818"/><circle cx="273.6" cy="535.2" r="2.1" fill="#181818"/><circle cx="273.6" cy="535.2" r="2.1" fill="#181818"/><circle cx="273.5" cy="535.1" r="2.1" fill="#181818"/><circle cx="273.6" cy="535.4" r="2.1" fill="#181818"/><circle cx="273.9" cy="535.4" r="2.1" fill="#181818"/><circle cx="273.6" cy="535.4" r="2.1" fill="#181818"/><circle cx="273.4" cy="535.4" r="2.1" fill="#181818"/><circle cx="273.6" cy="535.4" r="2.1" fill="#181818"/><circle cx="273.7" cy="535.2" r="2.1" fill="#181818"/><circle cx="273.4" cy="535.4" r="2.1" fill="#181818"/><circle cx="273.4" cy="535.4" r="2.1" fill="#181818"/><circle cx="273.5" cy="535.2" r="2.1" fill="#181818"/><circle cx="274.4" cy="535.1" r="2.1" fill="#181818"/><circle cx="273.5" cy="535.2" r="2.1" fill="#181818"/><circle cx="273.6" cy="535.4" r="2.1" fill="#181818"/><circle cx="273.6" cy="535.4" r="2.1" fill="#181818"/><circle cx="273.5" cy="535.4" r="2.1" fill="#181818"/><circle cx="274.1" cy="535.4" r="2.1" fill="#181818"/><circle cx="273.4" cy="535.2" r="2.1" fill="#181818"/><circle cx="274.1" cy="535.4" r="2.1" fill="#181818"/><circle cx="273.4" cy="535.3" r="2.1" fill="#181818"/><circle cx="272.8" cy="535.1" r="2.1" fill="#181818"/><circle cx="273.7" cy="535.1" r="2.1" fill="#181818"/><circle cx="273.9" cy="535.4" r="2.1" fill="#181818"/><circle cx="273.5" cy="535.4" r="2.1" fill="#181818"/><circle cx="273.5" cy="535.4" r="2.1" fill="#181818"/><circle cx="274.0" cy="535.4" r="2.1" fill="#181818"/><circle cx="274.2" cy="535.4" r="2.1" fill="#181818"/><circle cx="274.4" cy="534.7" r="2.1" fill="#181818"/><circle cx="274.3" cy="534.8" r="2.1" fill="#181818"/><circle cx="273.7" cy="534.6" r="2.1" fill="#181818"/><circle cx="274.0" cy="535.4" r="2.1" fill="#181818"/><circle cx="274.7" cy="534.8" r="2.1" fill="#181818"/><circle cx="273.8" cy="535.4" r="2.1" fill="#181818"/><circle cx="274.2" cy="535.4" r="2.1" fill="#181818"/><circle cx="272.8" cy="535.1" r="2.1" fill="#181818"/><circle cx="273.8" cy="535.3" r="2.1" fill="#181818"/><circle cx="274.0" cy="535.4" r="2.1" fill="#181818"/><circle cx="274.0" cy="535.4" r="2.1" fill="#181818"/><circle cx="274.0" cy="535.4" r="2.1" fill="#181818"/><circle cx="273.5" cy="535.2" r="2.1" fill="#181818"/><circle cx="273.4" cy="535.2" r="2.1" fill="#181818"/><circle cx="273.4" cy="535.4" r="2.1" fill="#181818"/><circle cx="273.0" cy="535.1" r="2.1" fill="#181818"/><circle cx="272.9" cy="535.0" r="2.1" fill="#181818"/><circle cx="274.2" cy="535.4" r="2.1" fill="#181818"/><circle cx="272.2" cy="534.8" r="2.1" fill="#181818"/><circle cx="272.7" cy="535.1" r="2.1" fill="#181818"/><circle cx="272.8" cy="535.1" r="2.1" fill="#181818"/><circle cx="273.5" cy="534.7" r="2.1" fill="#181818"/><circle cx="273.0" cy="534.7" r="2.1" fill="#181818"/><circle cx="273.4" cy="535.4" r="2.1" fill="#181818"/><circle cx="274.0" cy="535.4" r="2.1" fill="#181818"/><circle cx="273.6" cy="535.4" r="2.1" fill="#181818"/><circle cx="273.8" cy="535.4" r="2.1" fill="#181818"/><circle cx="273.4" cy="535.4" r="2.1" fill="#181818"/><circle cx="272.8" cy="535.1" r="2.1" fill="#181818"/><circle cx="273.8" cy="535.1" r="2.1" fill="#181818"/><circle cx="273.0" cy="535.2" r="2.1" fill="#181818"/><circle cx="273.4" cy="535.4" r="2.1" fill="#181818"/><circle cx="272.8" cy="535.3" r="2.1" fill="#181818"/><circle cx="273.8" cy="535.4" r="2.1" fill="#181818"/><circle cx="273.7" cy="535.4" r="2.1" fill="#181818"/><circle cx="274.0" cy="535.4" r="2.1" fill="#181818"/><circle cx="273.4" cy="534.9" r="2.1" fill="#181818"/><circle cx="273.0" cy="535.0" r="2.1" fill="#181818"/><circle cx="273.0" cy="535.2" r="2.1" fill="#181818"/><circle cx="272.8" cy="535.4" r="2.1" fill="#181818"/><circle cx="273.0" cy="535.3" r="2.1" fill="#181818"/><circle cx="273.0" cy="535.0" r="2.1" fill="#181818"/><circle cx="272.9" cy="535.1" r="2.1" fill="#181818"/><circle cx="272.2" cy="534.7" r="2.1" fill="#181818"/><circle cx="273.8" cy="535.4" r="2.1" fill="#181818"/><circle cx="273.4" cy="535.4" r="2.1" fill="#181818"/><circle cx="272.9" cy="535.3" r="2.1" fill="#181818"/><circle cx="273.7" cy="535.4" r="2.1" fill="#181818"/><circle cx="273.0" cy="535.4" r="2.1" fill="#181818"/><circle cx="272.7" cy="535.4" r="2.1" fill="#181818"/><circle cx="273.3" cy="534.8" r="2.1" fill="#181818"/><circle cx="272.9" cy="535.2" r="2.1" fill="#181818"/><circle cx="273.0" cy="535.4" r="2.1" fill="#181818"/><circle cx="272.2" cy="535.2" r="2.1" fill="#181818"/><circle cx="272.0" cy="535.1" r="2.1" fill="#181818"/><circle cx="272.4" cy="535.1" r="2.1" fill="#181818"/><circle cx="273.1" cy="535.4" r="2.1" fill="#181818"/><circle cx="273.0" cy="535.4" r="2.1" fill="#181818"/><circle cx="272.9" cy="535.3" r="2.1" fill="#181818"/><circle cx="273.1" cy="535.1" r="2.1" fill="#181818"/><circle cx="273.0" cy="535.4" r="2.1" fill="#181818"/><circle cx="273.1" cy="535.4" r="2.1" fill="#181818"/><circle cx="273.5" cy="534.4" r="2.1" fill="#181818"/><circle cx="273.1" cy="535.1" r="2.1" fill="#181818"/><circle cx="272.4" cy="534.9" r="2.1" fill="#181818"/><circle cx="273.1" cy="535.4" r="2.1" fill="#181818"/><circle cx="272.2" cy="535.1" r="2.1" fill="#181818"/><circle cx="273.1" cy="535.4" r="2.1" fill="#181818"/><circle cx="273.1" cy="535.3" r="2.1" fill="#181818"/><circle cx="273.1" cy="535.2" r="2.1" fill="#181818"/><circle cx="273.3" cy="535.1" r="2.1" fill="#181818"/><circle cx="273.0" cy="535.4" r="2.1" fill="#181818"/><circle cx="273.0" cy="535.4" r="2.1" fill="#181818"/><circle cx="273.0" cy="535.4" r="2.1" fill="#181818"/><circle cx="273.0" cy="535.4" r="2.1" fill="#181818"/><circle cx="273.0" cy="535.4" r="2.1" fill="#181818"/><circle cx="273.3" cy="535.0" r="2.1" fill="#181818"/><circle cx="273.1" cy="535.4" r="2.1" fill="#181818"/><circle cx="272.5" cy="535.4" r="2.1" fill="#181818"/><circle cx="273.1" cy="535.4" r="2.1" fill="#181818"/><circle cx="272.6" cy="535.0" r="2.1" fill="#181818"/><circle cx="273.4" cy="535.4" r="2.1" fill="#181818"/><circle cx="272.6" cy="535.0" r="2.1" fill="#181818"/><circle cx="272.8" cy="535.4" r="2.1" fill="#181818"/><circle cx="273.1" cy="535.4" r="2.1" fill="#181818"/><circle cx="272.7" cy="535.4" r="2.1" fill="#181818"/><circle cx="272.9" cy="535.4" r="2.1" fill="#181818"/><circle cx="272.5" cy="535.4" r="2.1" fill="#181818"/><circle cx="273.2" cy="535.3" r="2.1" fill="#181818"/><circle cx="272.6" cy="535.3" r="2.1" fill="#181818"/><circle cx="272.5" cy="535.1" r="2.1" fill="#181818"/><circle cx="273.1" cy="535.0" r="2.1" fill="#181818"/><circle cx="272.3" cy="535.0" r="2.1" fill="#181818"/><circle cx="272.0" cy="535.2" r="2.1" fill="#181818"/><circle cx="274.4" cy="534.4" r="2.1" fill="#181818"/><circle cx="272.5" cy="535.4" r="2.1" fill="#181818"/><circle cx="273.1" cy="535.4" r="2.1" fill="#181818"/><circle cx="272.7" cy="535.4" r="2.1" fill="#181818"/><circle cx="272.0" cy="535.0" r="2.1" fill="#181818"/><circle cx="272.4" cy="535.2" r="2.1" fill="#181818"/><circle cx="273.1" cy="535.4" r="2.1" fill="#181818"/><circle cx="273.1" cy="535.4" r="2.1" fill="#181818"/><circle cx="272.7" cy="535.4" r="2.1" fill="#181818"/><circle cx="272.4" cy="534.8" r="2.1" fill="#181818"/><circle cx="272.8" cy="535.4" r="2.1" fill="#181818"/><circle cx="272.9" cy="535.4" r="2.1" fill="#181818"/><circle cx="273.1" cy="535.4" r="2.1" fill="#181818"/><circle cx="272.7" cy="535.4" r="2.1" fill="#181818"/><circle cx="273.1" cy="535.2" r="2.1" fill="#181818"/><circle cx="272.0" cy="535.0" r="2.1" fill="#181818"/><circle cx="272.7" cy="535.4" r="2.1" fill="#181818"/><circle cx="272.6" cy="535.4" r="2.1" fill="#181818"/><circle cx="273.2" cy="535.4" r="2.1" fill="#181818"/><circle cx="271.3" cy="535.1" r="2.1" fill="#181818"/><circle cx="272.8" cy="535.4" r="2.1" fill="#181818"/><circle cx="273.4" cy="535.4" r="2.1" fill="#181818"/><circle cx="273.2" cy="535.4" r="2.1" fill="#181818"/><circle cx="272.4" cy="534.8" r="2.1" fill="#181818"/><circle cx="272.1" cy="535.4" r="2.1" fill="#181818"/><circle cx="272.3" cy="535.4" r="2.1" fill="#181818"/><circle cx="272.4" cy="535.4" r="2.1" fill="#181818"/><circle cx="272.5" cy="534.9" r="2.1" fill="#181818"/><circle cx="273.2" cy="534.9" r="2.1" fill="#181818"/><circle cx="273.1" cy="535.4" r="2.1" fill="#181818"/><circle cx="273.2" cy="535.4" r="2.1" fill="#181818"/><circle cx="273.2" cy="535.3" r="2.1" fill="#181818"/><circle cx="273.2" cy="534.6" r="2.1" fill="#181818"/><circle cx="272.2" cy="535.4" r="2.1" fill="#181818"/><circle cx="272.0" cy="535.1" r="2.1" fill="#181818"/><circle cx="272.3" cy="535.4" r="2.1" fill="#181818"/><circle cx="272.0" cy="534.8" r="2.1" fill="#181818"/><circle cx="273.2" cy="535.4" r="2.1" fill="#181818"/><circle cx="273.2" cy="535.0" r="2.1" fill="#181818"/><circle cx="271.3" cy="534.8" r="2.1" fill="#181818"/><circle cx="272.2" cy="535.4" r="2.1" fill="#181818"/><circle cx="273.2" cy="535.4" r="2.1" fill="#181818"/><circle cx="272.1" cy="535.3" r="2.1" fill="#181818"/><circle cx="272.8" cy="535.4" r="2.1" fill="#181818"/><circle cx="272.5" cy="535.0" r="2.1" fill="#181818"/><circle cx="274.6" cy="534.5" r="2.1" fill="#181818"/><circle cx="272.9" cy="535.4" r="2.1" fill="#181818"/><circle cx="273.2" cy="534.7" r="2.1" fill="#181818"/><circle cx="273.2" cy="535.3" r="2.1" fill="#181818"/><circle cx="272.2" cy="534.4" r="2.1" fill="#181818"/><circle cx="273.3" cy="535.1" r="2.1" fill="#181818"/><circle cx="273.2" cy="535.4" r="2.1" fill="#181818"/><circle cx="273.2" cy="535.4" r="2.1" fill="#181818"/><circle cx="272.5" cy="535.0" r="2.1" fill="#181818"/><circle cx="273.2" cy="535.3" r="2.1" fill="#181818"/><circle cx="271.7" cy="534.9" r="2.1" fill="#181818"/><circle cx="272.5" cy="535.4" r="2.1" fill="#181818"/><circle cx="273.4" cy="535.4" r="2.1" fill="#181818"/><circle cx="272.5" cy="535.3" r="2.1" fill="#181818"/><circle cx="273.2" cy="535.4" r="2.1" fill="#181818"/><circle cx="274.5" cy="535.4" r="2.1" fill="#181818"/><circle cx="273.2" cy="535.3" r="2.1" fill="#181818"/><circle cx="271.4" cy="535.0" r="2.1" fill="#181818"/><circle cx="272.6" cy="534.5" r="2.1" fill="#181818"/><circle cx="273.4" cy="535.4" r="2.1" fill="#181818"/><circle cx="273.2" cy="535.4" r="2.1" fill="#181818"/><circle cx="273.2" cy="535.4" r="2.1" fill="#181818"/><circle cx="273.4" cy="535.4" r="2.1" fill="#181818"/><circle cx="274.6" cy="535.2" r="2.1" fill="#181818"/><circle cx="274.5" cy="535.4" r="2.1" fill="#181818"/><circle cx="271.2" cy="534.8" r="2.1" fill="#181818"/><circle cx="271.2" cy="534.7" r="2.1" fill="#181818"/><circle cx="272.5" cy="535.4" r="2.1" fill="#181818"/><circle cx="272.2" cy="535.4" r="2.1" fill="#181818"/><circle cx="274.5" cy="535.3" r="2.1" fill="#181818"/><circle cx="271.9" cy="534.3" r="2.1" fill="#181818"/><circle cx="272.2" cy="535.4" r="2.1" fill="#181818"/><circle cx="273.3" cy="535.3" r="2.1" fill="#181818"/><circle cx="272.0" cy="535.4" r="2.1" fill="#181818"/><circle cx="272.0" cy="535.4" r="2.1" fill="#181818"/><circle cx="273.3" cy="535.3" r="2.1" fill="#181818"/><circle cx="272.1" cy="535.4" r="2.1" fill="#181818"/><circle cx="273.3" cy="535.4" r="2.1" fill="#181818"/><circle cx="273.3" cy="535.4" r="2.1" fill="#181818"/><circle cx="272.2" cy="535.4" r="2.1" fill="#181818"/><circle cx="273.3" cy="535.4" r="2.1" fill="#181818"/><circle cx="273.3" cy="535.4" r="2.1" fill="#181818"/><circle cx="271.7" cy="535.2" r="2.1" fill="#181818"/><circle cx="274.5" cy="535.4" r="2.1" fill="#181818"/><circle cx="271.9" cy="535.4" r="2.1" fill="#181818"/><circle cx="271.9" cy="535.4" r="2.1" fill="#181818"/><circle cx="273.2" cy="534.1" r="2.1" fill="#181818"/><circle cx="271.9" cy="535.4" r="2.1" fill="#181818"/><circle cx="271.6" cy="535.3" r="2.1" fill="#181818"/><circle cx="274.6" cy="535.4" r="2.1" fill="#181818"/><circle cx="274.9" cy="535.1" r="2.1" fill="#181818"/><circle cx="271.5" cy="535.1" r="2.1" fill="#181818"/><circle cx="271.4" cy="535.3" r="2.1" fill="#181818"/><circle cx="271.1" cy="535.3" r="2.1" fill="#181818"/><circle cx="271.2" cy="535.4" r="2.1" fill="#181818"/><circle cx="271.1" cy="535.3" r="2.1" fill="#181818"/><circle cx="271.6" cy="535.4" r="2.1" fill="#181818"/><circle cx="271.5" cy="535.4" r="2.1" fill="#181818"/><circle cx="271.7" cy="535.4" r="2.1" fill="#181818"/><circle cx="271.7" cy="535.4" r="2.1" fill="#181818"/><circle cx="271.5" cy="535.3" r="2.1" fill="#181818"/><circle cx="274.9" cy="534.7" r="2.1" fill="#181818"/><circle cx="275.0" cy="534.6" r="2.1" fill="#181818"/><circle cx="271.5" cy="535.2" r="2.1" fill="#181818"/><circle cx="275.0" cy="534.7" r="2.1" fill="#181818"/><circle cx="271.4" cy="535.4" r="2.1" fill="#181818"/><circle cx="271.1" cy="534.6" r="2.1" fill="#181818"/><circle cx="271.8" cy="535.4" r="2.1" fill="#181818"/><circle cx="271.4" cy="535.4" r="2.1" fill="#181818"/><circle cx="271.8" cy="535.4" r="2.1" fill="#181818"/><circle cx="271.5" cy="535.4" r="2.1" fill="#181818"/><circle cx="271.7" cy="535.4" r="2.1" fill="#181818"/><circle cx="271.5" cy="535.4" r="2.1" fill="#181818"/><circle cx="271.8" cy="535.4" r="2.1" fill="#181818"/><circle cx="274.9" cy="535.4" r="2.1" fill="#181818"/><circle cx="271.0" cy="535.1" r="2.1" fill="#181818"/><circle cx="274.8" cy="535.4" r="2.1" fill="#181818"/><circle cx="274.8" cy="535.4" r="2.1" fill="#181818"/><circle cx="274.8" cy="535.4" r="2.1" fill="#181818"/><circle cx="271.0" cy="535.4" r="2.1" fill="#181818"/><circle cx="275.0" cy="534.9" r="2.1" fill="#181818"/><circle cx="271.0" cy="535.0" r="2.1" fill="#181818"/><circle cx="275.1" cy="535.2" r="2.1" fill="#181818"/><circle cx="275.0" cy="535.4" r="2.1" fill="#181818"/><circle cx="270.9" cy="535.2" r="2.1" fill="#181818"/><circle cx="275.1" cy="534.4" r="2.1" fill="#181818"/><circle cx="275.0" cy="535.4" r="2.1" fill="#181818"/><circle cx="270.9" cy="535.4" r="2.1" fill="#181818"/><circle cx="275.1" cy="535.4" r="2.1" fill="#181818"/><circle cx="275.0" cy="534.2" r="2.1" fill="#181818"/><circle cx="275.2" cy="535.0" r="2.1" fill="#181818"/><circle cx="270.9" cy="534.8" r="2.1" fill="#181818"/><circle cx="275.2" cy="534.9" r="2.1" fill="#181818"/><circle cx="275.2" cy="535.4" r="2.1" fill="#181818"/><circle cx="270.9" cy="534.3" r="2.1" fill="#181818"/><circle cx="270.9" cy="534.2" r="2.1" fill="#181818"/><circle cx="275.2" cy="535.1" r="2.1" fill="#181818"/><circle cx="275.2" cy="535.1" r="2.1" fill="#181818"/><circle cx="270.7" cy="535.4" r="2.1" fill="#181818"/><circle cx="270.7" cy="535.4" r="2.1" fill="#181818"/><circle cx="275.3" cy="535.4" r="2.1" fill="#181818"/><circle cx="275.4" cy="535.1" r="2.1" fill="#181818"/><circle cx="270.7" cy="534.9" r="2.1" fill="#181818"/><circle cx="275.4" cy="535.2" r="2.1" fill="#181818"/><circle cx="275.5" cy="534.7" r="2.1" fill="#181818"/><circle cx="275.4" cy="535.4" r="2.1" fill="#181818"/><circle cx="270.6" cy="535.1" r="2.1" fill="#181818"/><circle cx="275.5" cy="535.4" r="2.1" fill="#181818"/><circle cx="275.6" cy="535.4" r="2.1" fill="#181818"/><circle cx="275.6" cy="535.4" r="2.1" fill="#181818"/><circle cx="270.5" cy="534.7" r="2.1" fill="#181818"/><circle cx="270.5" cy="534.7" r="2.1" fill="#181818"/><circle cx="275.7" cy="535.2" r="2.1" fill="#181818"/><circle cx="275.6" cy="535.4" r="2.1" fill="#181818"/><circle cx="275.7" cy="535.2" r="2.1" fill="#181818"/><circle cx="270.5" cy="535.1" r="2.1" fill="#181818"/><circle cx="275.7" cy="534.8" r="2.1" fill="#181818"/><circle cx="275.7" cy="534.9" r="2.1" fill="#181818"/><circle cx="270.5" cy="534.8" r="2.1" fill="#181818"/><circle cx="275.8" cy="535.2" r="2.1" fill="#181818"/><circle cx="270.4" cy="535.2" r="2.1" fill="#181818"/><circle cx="275.8" cy="534.8" r="2.1" fill="#181818"/><circle cx="275.9" cy="534.9" r="2.1" fill="#181818"/><circle cx="275.9" cy="535.0" r="2.1" fill="#181818"/><circle cx="270.4" cy="534.9" r="2.1" fill="#181818"/><circle cx="276.0" cy="535.1" r="2.1" fill="#181818"/><circle cx="270.4" cy="535.4" r="2.1" fill="#181818"/><circle cx="270.3" cy="534.7" r="2.1" fill="#181818"/><circle cx="276.0" cy="535.2" r="2.1" fill="#181818"/><circle cx="270.2" cy="535.2" r="2.1" fill="#181818"/><circle cx="270.2" cy="535.4" r="2.1" fill="#181818"/><circle cx="270.2" cy="534.9" r="2.1" fill="#181818"/><circle cx="270.1" cy="535.1" r="2.1" fill="#181818"/><circle cx="276.2" cy="535.4" r="2.1" fill="#181818"/><circle cx="270.0" cy="535.0" r="2.1" fill="#181818"/><circle cx="276.2" cy="534.3" r="2.1" fill="#181818"/><circle cx="275.9" cy="533.8" r="2.1" fill="#181818"/><circle cx="276.3" cy="534.6" r="2.1" fill="#181818"/><circle cx="276.3" cy="534.9" r="2.1" fill="#181818"/><circle cx="270.0" cy="534.9" r="2.1" fill="#181818"/><circle cx="270.0" cy="534.8" r="2.1" fill="#181818"/><circle cx="276.4" cy="535.2" r="2.1" fill="#181818"/><circle cx="276.3" cy="534.8" r="2.1" fill="#181818"/><circle cx="270.1" cy="534.2" r="2.1" fill="#181818"/><circle cx="276.3" cy="534.8" r="2.1" fill="#181818"/><circle cx="270.0" cy="534.3" r="2.1" fill="#181818"/><circle cx="276.4" cy="535.1" r="2.1" fill="#181818"/><circle cx="269.9" cy="535.2" r="2.1" fill="#181818"/><circle cx="269.9" cy="534.9" r="2.1" fill="#181818"/><circle cx="276.4" cy="535.4" r="2.1" fill="#181818"/><circle cx="276.3" cy="534.6" r="2.1" fill="#181818"/><circle cx="276.4" cy="534.9" r="2.1" fill="#181818"/><circle cx="269.8" cy="534.6" r="2.1" fill="#181818"/><circle cx="276.5" cy="535.2" r="2.1" fill="#181818"/><circle cx="269.8" cy="534.8" r="2.1" fill="#181818"/><circle cx="269.8" cy="534.4" r="2.1" fill="#181818"/><circle cx="276.5" cy="535.1" r="2.1" fill="#181818"/><circle cx="276.5" cy="534.9" r="2.1" fill="#181818"/><circle cx="269.7" cy="534.7" r="2.1" fill="#181818"/><circle cx="269.6" cy="534.9" r="2.1" fill="#181818"/><circle cx="269.5" cy="534.6" r="2.1" fill="#181818"/><circle cx="276.6" cy="534.8" r="2.1" fill="#181818"/><circle cx="276.6" cy="534.5" r="2.1" fill="#181818"/><circle cx="269.6" cy="534.6" r="2.1" fill="#181818"/><circle cx="269.6" cy="534.1" r="2.1" fill="#181818"/><circle cx="269.5" cy="534.8" r="2.1" fill="#181818"/><circle cx="269.3" cy="534.7" r="2.1" fill="#181818"/><circle cx="276.7" cy="535.0" r="2.1" fill="#181818"/><circle cx="269.3" cy="534.8" r="2.1" fill="#181818"/><circle cx="269.3" cy="534.9" r="2.1" fill="#181818"/><circle cx="269.3" cy="534.6" r="2.1" fill="#181818"/><circle cx="269.3" cy="534.3" r="2.1" fill="#181818"/><circle cx="276.8" cy="534.7" r="2.1" fill="#181818"/><circle cx="269.4" cy="535.3" r="2.1" fill="#181818"/><circle cx="276.8" cy="534.7" r="2.1" fill="#181818"/><circle cx="269.5" cy="535.4" r="2.1" fill="#181818"/><circle cx="276.7" cy="535.4" r="2.1" fill="#181818"/><circle cx="276.8" cy="535.0" r="2.1" fill="#181818"/><circle cx="269.2" cy="535.0" r="2.1" fill="#181818"/><circle cx="276.8" cy="535.2" r="2.1" fill="#181818"/><circle cx="276.9" cy="535.0" r="2.1" fill="#181818"/><circle cx="269.2" cy="534.2" r="2.1" fill="#181818"/><circle cx="269.3" cy="534.3" r="2.1" fill="#181818"/><circle cx="276.9" cy="534.2" r="2.1" fill="#181818"/><circle cx="269.1" cy="534.7" r="2.1" fill="#181818"/><circle cx="276.8" cy="533.8" r="2.1" fill="#181818"/><circle cx="277.0" cy="535.0" r="2.1" fill="#181818"/><circle cx="277.1" cy="534.1" r="2.1" fill="#181818"/><circle cx="276.9" cy="534.3" r="2.1" fill="#181818"/><circle cx="276.5" cy="533.6" r="2.1" fill="#181818"/><circle cx="269.1" cy="534.5" r="2.1" fill="#181818"/><circle cx="276.9" cy="534.8" r="2.1" fill="#181818"/><circle cx="277.2" cy="534.2" r="2.1" fill="#181818"/><circle cx="277.0" cy="535.1" r="2.1" fill="#181818"/><circle cx="277.4" cy="533.7" r="2.1" fill="#181818"/><circle cx="277.6" cy="534.2" r="2.1" fill="#181818"/><circle cx="277.2" cy="533.9" r="2.1" fill="#181818"/><circle cx="277.1" cy="533.4" r="2.1" fill="#181818"/><circle cx="276.9" cy="534.0" r="2.1" fill="#181818"/><circle cx="277.4" cy="533.8" r="2.1" fill="#181818"/><circle cx="269.0" cy="535.0" r="2.1" fill="#181818"/><circle cx="277.4" cy="534.2" r="2.1" fill="#181818"/><circle cx="269.2" cy="535.2" r="2.1" fill="#181818"/><circle cx="269.1" cy="533.9" r="2.1" fill="#181818"/><circle cx="269.0" cy="534.1" r="2.1" fill="#181818"/><circle cx="277.3" cy="534.6" r="2.1" fill="#181818"/><circle cx="277.3" cy="533.4" r="2.1" fill="#181818"/><circle cx="277.7" cy="534.3" r="2.1" fill="#181818"/><circle cx="277.4" cy="534.2" r="2.1" fill="#181818"/><circle cx="277.4" cy="534.1" r="2.1" fill="#181818"/><circle cx="269.1" cy="533.9" r="2.1" fill="#181818"/><circle cx="268.9" cy="534.2" r="2.1" fill="#181818"/><circle cx="268.9" cy="534.3" r="2.1" fill="#181818"/><circle cx="277.6" cy="534.4" r="2.1" fill="#181818"/><circle cx="277.6" cy="533.8" r="2.1" fill="#181818"/><circle cx="277.8" cy="534.2" r="2.1" fill="#181818"/><circle cx="268.9" cy="534.6" r="2.1" fill="#181818"/><circle cx="277.9" cy="534.4" r="2.1" fill="#181818"/><circle cx="268.7" cy="534.3" r="2.1" fill="#181818"/><circle cx="268.7" cy="534.5" r="2.1" fill="#181818"/><circle cx="277.1" cy="535.4" r="2.1" fill="#181818"/><circle cx="277.4" cy="535.2" r="2.1" fill="#181818"/><circle cx="268.8" cy="533.7" r="2.1" fill="#181818"/><circle cx="278.0" cy="534.2" r="2.1" fill="#181818"/><circle cx="268.8" cy="533.8" r="2.1" fill="#181818"/><circle cx="277.9" cy="534.0" r="2.1" fill="#181818"/><circle cx="278.0" cy="534.4" r="2.1" fill="#181818"/><circle cx="278.0" cy="534.2" r="2.1" fill="#181818"/><circle cx="268.6" cy="534.3" r="2.1" fill="#181818"/><circle cx="278.0" cy="534.6" r="2.1" fill="#181818"/><circle cx="268.8" cy="533.8" r="2.1" fill="#181818"/><circle cx="268.8" cy="533.7" r="2.1" fill="#181818"/><circle cx="268.6" cy="533.8" r="2.1" fill="#181818"/><circle cx="268.4" cy="534.2" r="2.1" fill="#181818"/><circle cx="268.7" cy="534.9" r="2.1" fill="#181818"/><circle cx="268.5" cy="534.8" r="2.1" fill="#181818"/><circle cx="268.4" cy="534.0" r="2.1" fill="#181818"/><circle cx="277.6" cy="533.2" r="2.1" fill="#181818"/><circle cx="268.4" cy="534.5" r="2.1" fill="#181818"/><circle cx="268.5" cy="534.9" r="2.1" fill="#181818"/><circle cx="278.2" cy="534.3" r="2.1" fill="#181818"/><circle cx="268.3" cy="534.4" r="2.1" fill="#181818"/><circle cx="278.3" cy="534.5" r="2.1" fill="#181818"/><circle cx="268.2" cy="534.5" r="2.1" fill="#181818"/><circle cx="268.1" cy="534.0" r="2.1" fill="#181818"/><circle cx="268.0" cy="533.5" r="2.1" fill="#181818"/><circle cx="278.4" cy="534.2" r="2.1" fill="#181818"/><circle cx="268.0" cy="533.4" r="2.1" fill="#181818"/><circle cx="278.1" cy="533.6" r="2.1" fill="#181818"/><circle cx="268.1" cy="533.3" r="2.1" fill="#181818"/><circle cx="268.1" cy="533.3" r="2.1" fill="#181818"/><circle cx="268.1" cy="533.2" r="2.1" fill="#181818"/><circle cx="278.0" cy="533.2" r="2.1" fill="#181818"/><circle cx="278.4" cy="534.1" r="2.1" fill="#181818"/><circle cx="278.5" cy="533.6" r="2.1" fill="#181818"/><circle cx="278.4" cy="533.5" r="2.1" fill="#181818"/><circle cx="278.6" cy="533.8" r="2.1" fill="#181818"/><circle cx="278.6" cy="533.7" r="2.1" fill="#181818"/><circle cx="267.7" cy="534.1" r="2.1" fill="#181818"/><circle cx="278.4" cy="533.3" r="2.1" fill="#181818"/><circle cx="267.9" cy="533.3" r="2.1" fill="#181818"/><circle cx="278.4" cy="533.0" r="2.1" fill="#181818"/><circle cx="278.4" cy="533.1" r="2.1" fill="#181818"/><circle cx="267.6" cy="533.5" r="2.1" fill="#181818"/><circle cx="267.6" cy="533.5" r="2.1" fill="#181818"/><circle cx="267.7" cy="533.6" r="2.1" fill="#181818"/><circle cx="278.2" cy="533.0" r="2.1" fill="#181818"/><circle cx="278.8" cy="533.1" r="2.1" fill="#181818"/><circle cx="279.0" cy="534.3" r="2.1" fill="#181818"/><circle cx="278.9" cy="533.4" r="2.1" fill="#181818"/><circle cx="267.5" cy="533.3" r="2.1" fill="#181818"/><circle cx="267.2" cy="534.0" r="2.1" fill="#181818"/><circle cx="279.1" cy="534.0" r="2.1" fill="#181818"/><circle cx="267.8" cy="532.9" r="2.1" fill="#181818"/><circle cx="267.5" cy="533.0" r="2.1" fill="#181818"/><circle cx="267.3" cy="533.3" r="2.1" fill="#181818"/><circle cx="267.5" cy="532.9" r="2.1" fill="#181818"/><circle cx="267.7" cy="532.7" r="2.1" fill="#181818"/><circle cx="267.4" cy="532.9" r="2.1" fill="#181818"/><circle cx="278.8" cy="533.0" r="2.1" fill="#181818"/><circle cx="279.2" cy="533.4" r="2.1" fill="#181818"/><circle cx="279.0" cy="533.2" r="2.1" fill="#181818"/><circle cx="267.1" cy="533.0" r="2.1" fill="#181818"/><circle cx="279.0" cy="533.0" r="2.1" fill="#181818"/><circle cx="267.3" cy="532.8" r="2.1" fill="#181818"/><circle cx="266.8" cy="533.6" r="2.1" fill="#181818"/><circle cx="279.0" cy="532.7" r="2.1" fill="#181818"/><circle cx="279.3" cy="533.3" r="2.1" fill="#181818"/><circle cx="279.2" cy="533.0" r="2.1" fill="#181818"/><circle cx="266.9" cy="533.1" r="2.1" fill="#181818"/><circle cx="267.0" cy="533.0" r="2.1" fill="#181818"/><circle cx="279.4" cy="534.2" r="2.1" fill="#181818"/><circle cx="266.7" cy="533.5" r="2.1" fill="#181818"/><circle cx="266.6" cy="533.7" r="2.1" fill="#181818"/><circle cx="267.0" cy="533.0" r="2.1" fill="#181818"/><circle cx="279.3" cy="532.6" r="2.1" fill="#181818"/><circle cx="267.2" cy="532.7" r="2.1" fill="#181818"/><circle cx="279.4" cy="532.4" r="2.1" fill="#181818"/><circle cx="279.5" cy="533.0" r="2.1" fill="#181818"/><circle cx="266.8" cy="532.8" r="2.1" fill="#181818"/><circle cx="278.8" cy="532.2" r="2.1" fill="#181818"/><circle cx="279.6" cy="533.6" r="2.1" fill="#181818"/><circle cx="279.5" cy="533.0" r="2.1" fill="#181818"/><circle cx="266.7" cy="533.0" r="2.1" fill="#181818"/><circle cx="266.8" cy="532.6" r="2.1" fill="#181818"/><circle cx="279.6" cy="532.2" r="2.1" fill="#181818"/><circle cx="279.4" cy="532.3" r="2.1" fill="#181818"/><circle cx="279.6" cy="532.9" r="2.1" fill="#181818"/><circle cx="266.7" cy="532.5" r="2.1" fill="#181818"/><circle cx="280.0" cy="532.7" r="2.1" fill="#181818"/><circle cx="279.7" cy="532.4" r="2.1" fill="#181818"/><circle cx="279.7" cy="532.7" r="2.1" fill="#181818"/><circle cx="279.6" cy="532.3" r="2.1" fill="#181818"/><circle cx="267.1" cy="532.1" r="2.1" fill="#181818"/><circle cx="267.2" cy="532.0" r="2.1" fill="#181818"/><circle cx="279.3" cy="531.8" r="2.1" fill="#181818"/><circle cx="266.6" cy="532.5" r="2.1" fill="#181818"/><circle cx="266.9" cy="532.2" r="2.1" fill="#181818"/><circle cx="279.7" cy="532.1" r="2.1" fill="#181818"/><circle cx="279.7" cy="532.1" r="2.1" fill="#181818"/><circle cx="279.8" cy="532.1" r="2.1" fill="#181818"/><circle cx="280.2" cy="533.2" r="2.1" fill="#181818"/><circle cx="266.4" cy="532.9" r="2.1" fill="#181818"/><circle cx="279.8" cy="533.0" r="2.1" fill="#181818"/><circle cx="279.8" cy="532.2" r="2.1" fill="#181818"/><circle cx="266.4" cy="532.9" r="2.1" fill="#181818"/><circle cx="279.9" cy="532.3" r="2.1" fill="#181818"/><circle cx="266.2" cy="533.0" r="2.1" fill="#181818"/><circle cx="266.3" cy="532.7" r="2.1" fill="#181818"/><circle cx="280.6" cy="531.8" r="2.1" fill="#181818"/><circle cx="265.7" cy="531.5" r="2.1" fill="#181818"/><circle cx="265.7" cy="531.7" r="2.1" fill="#181818"/><circle cx="265.7" cy="531.5" r="2.1" fill="#181818"/><circle cx="265.7" cy="531.7" r="2.1" fill="#181818"/><circle cx="280.5" cy="532.0" r="2.1" fill="#181818"/><circle cx="266.1" cy="531.3" r="2.1" fill="#181818"/><circle cx="265.7" cy="531.6" r="2.1" fill="#181818"/><circle cx="280.9" cy="531.8" r="2.1" fill="#181818"/><circle cx="266.3" cy="532.4" r="2.1" fill="#181818"/><circle cx="281.2" cy="531.4" r="2.1" fill="#181818"/><circle cx="267.0" cy="531.8" r="2.1" fill="#181818"/><circle cx="266.4" cy="532.1" r="2.1" fill="#181818"/><circle cx="280.2" cy="532.3" r="2.1" fill="#181818"/><circle cx="266.0" cy="532.0" r="2.1" fill="#181818"/><circle cx="280.8" cy="531.0" r="2.1" fill="#181818"/><circle cx="266.1" cy="531.8" r="2.1" fill="#181818"/><circle cx="281.7" cy="530.4" r="2.1" fill="#181818"/><circle cx="266.0" cy="532.3" r="2.1" fill="#181818"/><circle cx="280.8" cy="530.9" r="2.1" fill="#181818"/><circle cx="266.3" cy="532.0" r="2.1" fill="#181818"/><circle cx="280.7" cy="531.4" r="2.1" fill="#181818"/><circle cx="281.2" cy="530.8" r="2.1" fill="#181818"/><circle cx="265.7" cy="531.3" r="2.1" fill="#181818"/><circle cx="281.3" cy="531.0" r="2.1" fill="#181818"/><circle cx="266.3" cy="531.8" r="2.1" fill="#181818"/><circle cx="283.7" cy="529.4" r="2.1" fill="#181818"/><circle cx="281.5" cy="530.5" r="2.1" fill="#181818"/><circle cx="280.6" cy="531.1" r="2.1" fill="#181818"/><circle cx="281.0" cy="530.5" r="2.1" fill="#181818"/><circle cx="280.4" cy="532.2" r="2.1" fill="#181818"/><circle cx="265.9" cy="532.4" r="2.1" fill="#181818"/><circle cx="280.1" cy="531.1" r="2.1" fill="#181818"/><circle cx="267.0" cy="531.2" r="2.1" fill="#181818"/><circle cx="281.5" cy="530.1" r="2.1" fill="#181818"/><circle cx="279.7" cy="531.5" r="2.1" fill="#181818"/><circle cx="265.8" cy="531.1" r="2.1" fill="#181818"/><circle cx="281.3" cy="530.4" r="2.1" fill="#181818"/><circle cx="282.9" cy="529.1" r="2.1" fill="#181818"/><circle cx="280.5" cy="531.0" r="2.1" fill="#181818"/><circle cx="281.2" cy="530.4" r="2.1" fill="#181818"/><circle cx="265.3" cy="531.0" r="2.1" fill="#181818"/><circle cx="283.0" cy="530.4" r="2.1" fill="#181818"/><circle cx="264.5" cy="531.8" r="2.1" fill="#181818"/><circle cx="282.3" cy="529.5" r="2.1" fill="#181818"/><circle cx="280.7" cy="530.6" r="2.1" fill="#181818"/><circle cx="283.2" cy="528.5" r="2.1" fill="#181818"/><circle cx="283.5" cy="530.0" r="2.1" fill="#181818"/><circle cx="282.9" cy="530.4" r="2.1" fill="#181818"/><circle cx="284.0" cy="528.8" r="2.1" fill="#181818"/><circle cx="282.6" cy="528.9" r="2.1" fill="#181818"/><circle cx="283.2" cy="530.9" r="2.1" fill="#181818"/><circle cx="282.0" cy="529.6" r="2.1" fill="#181818"/><circle cx="264.9" cy="531.0" r="2.1" fill="#181818"/><circle cx="282.4" cy="528.8" r="2.1" fill="#181818"/><circle cx="281.2" cy="530.2" r="2.1" fill="#181818"/><circle cx="281.7" cy="529.9" r="2.1" fill="#181818"/><circle cx="284.2" cy="529.1" r="2.1" fill="#181818"/><circle cx="284.5" cy="528.5" r="2.1" fill="#181818"/><circle cx="281.6" cy="529.9" r="2.1" fill="#181818"/><circle cx="282.1" cy="529.3" r="2.1" fill="#181818"/><circle cx="264.8" cy="530.5" r="2.1" fill="#181818"/><circle cx="282.1" cy="529.2" r="2.1" fill="#181818"/><circle cx="264.8" cy="530.6" r="2.1" fill="#181818"/><circle cx="283.2" cy="531.1" r="2.1" fill="#181818"/><circle cx="265.0" cy="530.6" r="2.1" fill="#181818"/><circle cx="264.7" cy="530.7" r="2.1" fill="#181818"/><circle cx="281.4" cy="529.8" r="2.1" fill="#181818"/><circle cx="282.6" cy="528.4" r="2.1" fill="#181818"/><circle cx="281.8" cy="529.5" r="2.1" fill="#181818"/><circle cx="264.8" cy="530.8" r="2.1" fill="#181818"/><circle cx="281.2" cy="529.7" r="2.1" fill="#181818"/><circle cx="282.1" cy="528.3" r="2.1" fill="#181818"/><circle cx="282.0" cy="529.1" r="2.1" fill="#181818"/><circle cx="282.2" cy="528.4" r="2.1" fill="#181818"/><circle cx="281.8" cy="528.8" r="2.1" fill="#181818"/><circle cx="283.0" cy="528.1" r="2.1" fill="#181818"/><circle cx="283.3" cy="527.9" r="2.1" fill="#181818"/><circle cx="283.0" cy="528.1" r="2.1" fill="#181818"/><circle cx="265.3" cy="530.3" r="2.1" fill="#181818"/><circle cx="282.4" cy="528.0" r="2.1" fill="#181818"/><circle cx="282.7" cy="528.0" r="2.1" fill="#181818"/><circle cx="264.9" cy="530.2" r="2.1" fill="#181818"/><circle cx="283.4" cy="527.9" r="2.1" fill="#181818"/><circle cx="284.8" cy="529.1" r="2.1" fill="#181818"/><circle cx="283.5" cy="531.3" r="2.1" fill="#181818"/><circle cx="284.6" cy="529.7" r="2.1" fill="#181818"/><circle cx="263.1" cy="529.4" r="2.1" fill="#181818"/><circle cx="263.5" cy="530.5" r="2.1" fill="#181818"/><circle cx="282.9" cy="527.7" r="2.1" fill="#181818"/><circle cx="284.8" cy="527.5" r="2.1" fill="#181818"/><circle cx="283.7" cy="527.5" r="2.1" fill="#181818"/><circle cx="264.6" cy="529.8" r="2.1" fill="#181818"/><circle cx="281.7" cy="528.8" r="2.1" fill="#181818"/><circle cx="265.1" cy="529.9" r="2.1" fill="#181818"/><circle cx="265.2" cy="530.1" r="2.1" fill="#181818"/><circle cx="281.9" cy="528.1" r="2.1" fill="#181818"/><circle cx="264.6" cy="529.9" r="2.1" fill="#181818"/><circle cx="262.1" cy="530.0" r="2.1" fill="#181818"/><circle cx="284.9" cy="527.8" r="2.1" fill="#181818"/><circle cx="284.6" cy="527.6" r="2.1" fill="#181818"/><circle cx="264.6" cy="529.6" r="2.1" fill="#181818"/><circle cx="264.3" cy="529.1" r="2.1" fill="#181818"/><circle cx="283.5" cy="527.1" r="2.1" fill="#181818"/><circle cx="263.9" cy="529.5" r="2.1" fill="#181818"/><circle cx="264.4" cy="529.5" r="2.1" fill="#181818"/><circle cx="263.3" cy="528.1" r="2.1" fill="#181818"/><circle cx="263.7" cy="529.0" r="2.1" fill="#181818"/><circle cx="284.0" cy="526.8" r="2.1" fill="#181818"/><circle cx="263.4" cy="531.1" r="2.1" fill="#181818"/><circle cx="264.1" cy="529.6" r="2.1" fill="#181818"/><circle cx="264.1" cy="529.0" r="2.1" fill="#181818"/><circle cx="283.5" cy="527.0" r="2.1" fill="#181818"/><circle cx="264.2" cy="529.5" r="2.1" fill="#181818"/><circle cx="283.4" cy="527.3" r="2.1" fill="#181818"/><circle cx="265.0" cy="529.4" r="2.1" fill="#181818"/><circle cx="263.1" cy="528.2" r="2.1" fill="#181818"/><circle cx="264.4" cy="529.0" r="2.1" fill="#181818"/><circle cx="265.1" cy="529.4" r="2.1" fill="#181818"/><circle cx="263.6" cy="528.5" r="2.1" fill="#181818"/><circle cx="285.5" cy="528.3" r="2.1" fill="#181818"/><circle cx="283.8" cy="531.3" r="2.1" fill="#181818"/><circle cx="283.2" cy="526.9" r="2.1" fill="#181818"/><circle cx="283.8" cy="526.6" r="2.1" fill="#181818"/><circle cx="282.9" cy="532.2" r="2.1" fill="#181818"/><circle cx="285.3" cy="526.9" r="2.1" fill="#181818"/><circle cx="263.8" cy="528.8" r="2.1" fill="#181818"/><circle cx="283.1" cy="527.0" r="2.1" fill="#181818"/><circle cx="283.1" cy="526.6" r="2.1" fill="#181818"/><circle cx="262.5" cy="528.6" r="2.1" fill="#181818"/><circle cx="284.8" cy="526.5" r="2.1" fill="#181818"/><circle cx="263.4" cy="528.0" r="2.1" fill="#181818"/><circle cx="262.2" cy="527.1" r="2.1" fill="#181818"/><circle cx="262.8" cy="527.9" r="2.1" fill="#181818"/><circle cx="262.1" cy="527.4" r="2.1" fill="#181818"/><circle cx="283.6" cy="526.3" r="2.1" fill="#181818"/><circle cx="284.6" cy="526.3" r="2.1" fill="#181818"/><circle cx="286.1" cy="526.9" r="2.1" fill="#181818"/><circle cx="262.5" cy="527.7" r="2.1" fill="#181818"/><circle cx="283.7" cy="526.0" r="2.1" fill="#181818"/><circle cx="263.2" cy="527.6" r="2.1" fill="#181818"/><circle cx="263.1" cy="527.4" r="2.1" fill="#181818"/><circle cx="262.4" cy="528.3" r="2.1" fill="#181818"/><circle cx="284.7" cy="530.4" r="2.1" fill="#181818"/><circle cx="263.1" cy="527.0" r="2.1" fill="#181818"/><circle cx="264.6" cy="528.4" r="2.1" fill="#181818"/><circle cx="262.0" cy="527.1" r="2.1" fill="#181818"/><circle cx="263.4" cy="527.6" r="2.1" fill="#181818"/><circle cx="262.1" cy="530.4" r="2.1" fill="#181818"/><circle cx="283.3" cy="526.2" r="2.1" fill="#181818"/><circle cx="283.7" cy="525.7" r="2.1" fill="#181818"/><circle cx="263.8" cy="527.8" r="2.1" fill="#181818"/><circle cx="261.9" cy="528.3" r="2.1" fill="#181818"/><circle cx="286.1" cy="526.5" r="2.1" fill="#181818"/><circle cx="261.3" cy="527.3" r="2.1" fill="#181818"/><circle cx="262.3" cy="525.7" r="2.1" fill="#181818"/><circle cx="261.4" cy="529.6" r="2.1" fill="#181818"/><circle cx="284.4" cy="530.9" r="2.1" fill="#181818"/><circle cx="286.5" cy="525.6" r="2.1" fill="#181818"/><circle cx="262.1" cy="530.8" r="2.1" fill="#181818"/><circle cx="283.4" cy="532.1" r="2.1" fill="#181818"/><circle cx="286.5" cy="525.9" r="2.1" fill="#181818"/><circle cx="262.5" cy="526.4" r="2.1" fill="#181818"/><circle cx="262.7" cy="526.4" r="2.1" fill="#181818"/><circle cx="260.6" cy="526.9" r="2.1" fill="#181818"/><circle cx="282.9" cy="532.5" r="2.1" fill="#181818"/><circle cx="283.3" cy="532.3" r="2.1" fill="#181818"/><circle cx="284.1" cy="525.1" r="2.1" fill="#181818"/><circle cx="284.4" cy="524.7" r="2.1" fill="#181818"/><circle cx="260.5" cy="523.5" r="2.1" fill="#181818"/><circle cx="286.3" cy="526.4" r="2.1" fill="#181818"/><circle cx="261.8" cy="525.3" r="2.1" fill="#181818"/><circle cx="261.1" cy="523.1" r="2.1" fill="#181818"/><circle cx="284.3" cy="525.3" r="2.1" fill="#181818"/><circle cx="261.2" cy="523.1" r="2.1" fill="#181818"/><circle cx="261.1" cy="523.5" r="2.1" fill="#181818"/><circle cx="284.1" cy="524.9" r="2.1" fill="#181818"/><circle cx="261.2" cy="523.2" r="2.1" fill="#181818"/><circle cx="261.0" cy="522.6" r="2.1" fill="#181818"/><circle cx="284.6" cy="524.6" r="2.1" fill="#181818"/><circle cx="260.0" cy="525.8" r="2.1" fill="#181818"/><circle cx="261.7" cy="525.1" r="2.1" fill="#181818"/><circle cx="261.5" cy="523.2" r="2.1" fill="#181818"/><circle cx="261.5" cy="524.5" r="2.1" fill="#181818"/><circle cx="286.2" cy="528.6" r="2.1" fill="#181818"/><circle cx="262.0" cy="525.1" r="2.1" fill="#181818"/><circle cx="262.0" cy="525.0" r="2.1" fill="#181818"/><circle cx="284.3" cy="531.3" r="2.1" fill="#181818"/><circle cx="260.8" cy="528.6" r="2.1" fill="#181818"/><circle cx="261.3" cy="528.1" r="2.1" fill="#181818"/><circle cx="285.1" cy="530.4" r="2.1" fill="#181818"/><circle cx="261.4" cy="523.6" r="2.1" fill="#181818"/><circle cx="261.8" cy="524.9" r="2.1" fill="#181818"/><circle cx="261.4" cy="523.6" r="2.1" fill="#181818"/><circle cx="261.6" cy="524.8" r="2.1" fill="#181818"/><circle cx="261.9" cy="524.8" r="2.1" fill="#181818"/><circle cx="262.2" cy="524.8" r="2.1" fill="#181818"/><circle cx="262.0" cy="524.4" r="2.1" fill="#181818"/><circle cx="260.7" cy="528.3" r="2.1" fill="#181818"/><circle cx="260.1" cy="524.4" r="2.1" fill="#181818"/><circle cx="261.8" cy="522.6" r="2.1" fill="#181818"/><circle cx="262.0" cy="524.3" r="2.1" fill="#181818"/><circle cx="260.8" cy="522.1" r="2.1" fill="#181818"/><circle cx="285.5" cy="529.9" r="2.1" fill="#181818"/><circle cx="286.0" cy="524.3" r="2.1" fill="#181818"/><circle cx="284.8" cy="524.2" r="2.1" fill="#181818"/><circle cx="284.3" cy="524.1" r="2.1" fill="#181818"/><circle cx="285.8" cy="530.0" r="2.1" fill="#181818"/><circle cx="286.1" cy="524.5" r="2.1" fill="#181818"/><circle cx="285.1" cy="530.8" r="2.1" fill="#181818"/><circle cx="260.8" cy="529.3" r="2.1" fill="#181818"/><circle cx="260.4" cy="521.9" r="2.1" fill="#181818"/><circle cx="260.2" cy="521.5" r="2.1" fill="#181818"/><circle cx="284.4" cy="524.1" r="2.1" fill="#181818"/><circle cx="262.3" cy="524.5" r="2.1" fill="#181818"/><circle cx="260.7" cy="527.8" r="2.1" fill="#181818"/><circle cx="286.6" cy="528.8" r="2.1" fill="#181818"/><circle cx="260.9" cy="521.9" r="2.1" fill="#181818"/><circle cx="285.7" cy="531.2" r="2.1" fill="#181818"/><circle cx="286.6" cy="527.6" r="2.1" fill="#181818"/><circle cx="259.7" cy="522.0" r="2.1" fill="#181818"/><circle cx="259.1" cy="521.7" r="2.1" fill="#181818"/><circle cx="283.8" cy="532.1" r="2.1" fill="#181818"/><circle cx="286.6" cy="523.0" r="2.1" fill="#181818"/><circle cx="259.3" cy="524.3" r="2.1" fill="#181818"/><circle cx="286.9" cy="520.3" r="2.1" fill="#181818"/><circle cx="285.7" cy="520.7" r="2.1" fill="#181818"/><circle cx="286.1" cy="520.6" r="2.1" fill="#181818"/><circle cx="286.9" cy="520.2" r="2.1" fill="#181818"/><circle cx="260.5" cy="521.7" r="2.1" fill="#181818"/><circle cx="285.7" cy="522.8" r="2.1" fill="#181818"/><circle cx="260.8" cy="529.7" r="2.1" fill="#181818"/><circle cx="285.9" cy="521.2" r="2.1" fill="#181818"/><circle cx="286.1" cy="521.0" r="2.1" fill="#181818"/><circle cx="285.8" cy="521.2" r="2.1" fill="#181818"/><circle cx="260.2" cy="521.1" r="2.1" fill="#181818"/><circle cx="262.5" cy="524.5" r="2.1" fill="#181818"/><circle cx="259.9" cy="521.3" r="2.1" fill="#181818"/><circle cx="286.4" cy="520.6" r="2.1" fill="#181818"/><circle cx="286.9" cy="528.3" r="2.1" fill="#181818"/><circle cx="287.1" cy="520.9" r="2.1" fill="#181818"/><circle cx="286.5" cy="520.3" r="2.1" fill="#181818"/><circle cx="285.1" cy="523.4" r="2.1" fill="#181818"/><circle cx="260.6" cy="521.1" r="2.1" fill="#181818"/><circle cx="287.0" cy="519.0" r="2.1" fill="#181818"/><circle cx="284.1" cy="524.0" r="2.1" fill="#181818"/><circle cx="260.9" cy="521.6" r="2.1" fill="#181818"/><circle cx="285.7" cy="522.6" r="2.1" fill="#181818"/><circle cx="286.4" cy="518.7" r="2.1" fill="#181818"/><circle cx="286.8" cy="519.0" r="2.1" fill="#181818"/><circle cx="286.8" cy="518.6" r="2.1" fill="#181818"/><circle cx="287.0" cy="518.8" r="2.1" fill="#181818"/><circle cx="285.4" cy="521.5" r="2.1" fill="#181818"/><circle cx="285.6" cy="523.2" r="2.1" fill="#181818"/><circle cx="287.4" cy="519.7" r="2.1" fill="#181818"/><circle cx="259.1" cy="524.2" r="2.1" fill="#181818"/><circle cx="285.4" cy="522.0" r="2.1" fill="#181818"/><circle cx="286.5" cy="518.7" r="2.1" fill="#181818"/><circle cx="260.2" cy="520.7" r="2.1" fill="#181818"/><circle cx="285.3" cy="523.1" r="2.1" fill="#181818"/><circle cx="286.4" cy="519.1" r="2.1" fill="#181818"/><circle cx="286.0" cy="522.2" r="2.1" fill="#181818"/><circle cx="260.0" cy="521.0" r="2.1" fill="#181818"/><circle cx="287.0" cy="518.8" r="2.1" fill="#181818"/><circle cx="259.5" cy="519.4" r="2.1" fill="#181818"/><circle cx="286.9" cy="518.0" r="2.1" fill="#181818"/><circle cx="285.0" cy="522.0" r="2.1" fill="#181818"/><circle cx="259.7" cy="519.7" r="2.1" fill="#181818"/><circle cx="285.2" cy="523.1" r="2.1" fill="#181818"/><circle cx="287.5" cy="521.0" r="2.1" fill="#181818"/><circle cx="287.9" cy="519.3" r="2.1" fill="#181818"/><circle cx="259.3" cy="520.4" r="2.1" fill="#181818"/><circle cx="259.5" cy="519.2" r="2.1" fill="#181818"/><circle cx="259.6" cy="520.6" r="2.1" fill="#181818"/><circle cx="263.3" cy="532.7" r="2.1" fill="#181818"/><circle cx="287.6" cy="526.8" r="2.1" fill="#181818"/><circle cx="288.4" cy="519.9" r="2.1" fill="#181818"/><circle cx="263.0" cy="532.6" r="2.1" fill="#181818"/><circle cx="287.6" cy="517.7" r="2.1" fill="#181818"/><circle cx="258.4" cy="519.3" r="2.1" fill="#181818"/><circle cx="287.1" cy="517.4" r="2.1" fill="#181818"/><circle cx="259.2" cy="518.9" r="2.1" fill="#181818"/><circle cx="286.4" cy="517.4" r="2.1" fill="#181818"/><circle cx="288.1" cy="517.6" r="2.1" fill="#181818"/><circle cx="287.8" cy="528.3" r="2.1" fill="#181818"/><circle cx="259.7" cy="518.7" r="2.1" fill="#181818"/><circle cx="259.8" cy="527.8" r="2.1" fill="#181818"/><circle cx="287.3" cy="517.2" r="2.1" fill="#181818"/><circle cx="261.0" cy="531.0" r="2.1" fill="#181818"/><circle cx="288.2" cy="527.9" r="2.1" fill="#181818"/><circle cx="288.5" cy="527.6" r="2.1" fill="#181818"/><circle cx="288.1" cy="516.7" r="2.1" fill="#181818"/><circle cx="287.4" cy="517.0" r="2.1" fill="#181818"/><circle cx="287.7" cy="525.6" r="2.1" fill="#181818"/><circle cx="287.6" cy="516.1" r="2.1" fill="#181818"/><circle cx="288.5" cy="525.8" r="2.1" fill="#181818"/><circle cx="262.6" cy="532.2" r="2.1" fill="#181818"/><circle cx="288.8" cy="527.0" r="2.1" fill="#181818"/><circle cx="288.4" cy="527.3" r="2.1" fill="#181818"/><circle cx="284.8" cy="533.1" r="2.1" fill="#181818"/><circle cx="258.7" cy="517.3" r="2.1" fill="#181818"/><circle cx="259.0" cy="517.5" r="2.1" fill="#181818"/><circle cx="249.3" cy="473.7" r="2.1" fill="#4d4d4d"/><circle cx="257.1" cy="510.1" r="2.1" fill="#181818"/><circle cx="293.6" cy="493.0" r="2.1" fill="#252525"/><circle cx="294.0" cy="493.5" r="2.1" fill="#242424"/><circle cx="259.3" cy="517.5" r="2.1" fill="#181818"/><circle cx="258.6" cy="517.2" r="2.1" fill="#181818"/><circle cx="259.2" cy="518.0" r="2.1" fill="#181818"/><circle cx="249.1" cy="473.1" r="2.1" fill="#4f4f4f"/><circle cx="255.7" cy="502.6" r="2.1" fill="#181818"/><circle cx="293.9" cy="492.8" r="2.1" fill="#262626"/><circle cx="255.2" cy="503.8" r="2.1" fill="#181818"/><circle cx="287.6" cy="530.3" r="2.1" fill="#181818"/><circle cx="284.2" cy="533.4" r="2.1" fill="#181818"/><circle cx="257.7" cy="521.7" r="2.1" fill="#181818"/><circle cx="284.0" cy="533.3" r="2.1" fill="#181818"/><circle cx="254.8" cy="503.2" r="2.1" fill="#232323"/><circle cx="293.5" cy="493.6" r="2.1" fill="#373737"/><circle cx="249.3" cy="477.4" r="2.1" fill="#585858"/><circle cx="259.3" cy="517.6" r="2.1" fill="#181818"/><circle cx="293.1" cy="493.7" r="2.1" fill="#363636"/><circle cx="255.2" cy="503.2" r="2.1" fill="#232323"/><circle cx="294.3" cy="492.0" r="2.1" fill="#3a3a3a"/><circle cx="293.5" cy="491.6" r="2.1" fill="#3b3b3b"/><circle cx="289.7" cy="510.2" r="2.1" fill="#181818"/><circle cx="258.7" cy="516.7" r="2.1" fill="#181818"/><circle cx="289.2" cy="513.9" r="2.1" fill="#181818"/><circle cx="293.6" cy="491.9" r="2.1" fill="#3a3a3a"/><circle cx="249.7" cy="473.0" r="2.1" fill="#626262"/><circle cx="255.0" cy="503.0" r="2.1" fill="#232323"/><circle cx="293.6" cy="492.4" r="2.1" fill="#393939"/><circle cx="250.1" cy="477.1" r="2.1" fill="#595959"/><circle cx="294.0" cy="492.5" r="2.1" fill="#393939"/><circle cx="293.3" cy="494.1" r="2.1" fill="#363636"/><circle cx="249.9" cy="476.5" r="2.1" fill="#5a5a5a"/><circle cx="293.8" cy="491.9" r="2.1" fill="#3a3a3a"/><circle cx="288.2" cy="515.3" r="2.1" fill="#181818"/><circle cx="293.4" cy="491.7" r="2.1" fill="#3b3b3b"/><circle cx="294.1" cy="493.7" r="2.1" fill="#363636"/><circle cx="286.2" cy="532.3" r="2.1" fill="#181818"/><circle cx="286.3" cy="532.2" r="2.1" fill="#181818"/><circle cx="283.2" cy="533.4" r="2.1" fill="#181818"/><circle cx="261.0" cy="531.3" r="2.1" fill="#181818"/><circle cx="258.2" cy="518.3" r="2.1" fill="#181818"/><circle cx="249.5" cy="478.5" r="2.1" fill="#696969"/><circle cx="293.6" cy="491.0" r="2.1" fill="#4f4f4f"/><circle cx="255.1" cy="504.1" r="2.1" fill="#333333"/><circle cx="249.2" cy="472.6" r="2.1" fill="#757575"/><circle cx="250.4" cy="478.2" r="2.1" fill="#696969"/><circle cx="257.9" cy="514.5" r="2.1" fill="#1e1e1e"/><circle cx="289.0" cy="512.9" r="2.1" fill="#212121"/><circle cx="288.8" cy="512.6" r="2.1" fill="#222222"/><circle cx="255.3" cy="505.4" r="2.1" fill="#313131"/><circle cx="255.6" cy="506.5" r="2.1" fill="#2e2e2e"/><circle cx="258.1" cy="514.8" r="2.1" fill="#1d1d1d"/><circle cx="249.7" cy="477.1" r="2.1" fill="#6c6c6c"/><circle cx="289.0" cy="511.3" r="2.1" fill="#242424"/><circle cx="249.4" cy="475.6" r="2.1" fill="#6f6f6f"/><circle cx="249.2" cy="470.5" r="2.1" fill="#797979"/><circle cx="255.6" cy="506.4" r="2.1" fill="#2f2f2f"/><circle cx="250.0" cy="478.3" r="2.1" fill="#696969"/><circle cx="249.0" cy="471.0" r="2.1" fill="#787878"/><circle cx="248.9" cy="471.5" r="2.1" fill="#777777"/><circle cx="258.3" cy="514.9" r="2.1" fill="#1d1d1d"/><circle cx="287.6" cy="515.3" r="2.1" fill="#1c1c1c"/><circle cx="258.0" cy="516.8" r="2.1" fill="#191919"/><circle cx="288.5" cy="512.7" r="2.1" fill="#222222"/><circle cx="249.2" cy="472.7" r="2.1" fill="#757575"/><circle cx="288.7" cy="512.6" r="2.1" fill="#222222"/><circle cx="249.6" cy="475.9" r="2.1" fill="#6e6e6e"/><circle cx="288.9" cy="513.5" r="2.1" fill="#202020"/><circle cx="248.6" cy="471.0" r="2.1" fill="#787878"/><circle cx="248.7" cy="471.2" r="2.1" fill="#787878"/><circle cx="257.6" cy="518.3" r="2.1" fill="#181818"/><circle cx="288.4" cy="528.6" r="2.1" fill="#181818"/><circle cx="259.1" cy="528.4" r="2.1" fill="#181818"/><circle cx="248.9" cy="471.7" r="2.1" fill="#898989"/><circle cx="249.2" cy="471.6" r="2.1" fill="#8a8a8a"/><circle cx="254.4" cy="501.5" r="2.1" fill="#4b4b4b"/><circle cx="249.8" cy="474.8" r="2.1" fill="#838383"/><circle cx="288.7" cy="511.5" r="2.1" fill="#373737"/><circle cx="255.1" cy="505.2" r="2.1" fill="#444444"/><circle cx="254.7" cy="501.1" r="2.1" fill="#4c4c4c"/><circle cx="290.2" cy="510.7" r="2.1" fill="#383838"/><circle cx="254.7" cy="502.0" r="2.1" fill="#4a4a4a"/><circle cx="254.6" cy="502.1" r="2.1" fill="#4a4a4a"/><circle cx="289.2" cy="511.6" r="2.1" fill="#363636"/><circle cx="250.0" cy="478.7" r="2.1" fill="#7b7b7b"/><circle cx="289.1" cy="512.7" r="2.1" fill="#343434"/><circle cx="249.8" cy="478.8" r="2.1" fill="#7b7b7b"/><circle cx="254.1" cy="499.2" r="2.1" fill="#505050"/><circle cx="249.9" cy="476.0" r="2.1" fill="#818181"/><circle cx="255.2" cy="505.3" r="2.1" fill="#434343"/><circle cx="254.4" cy="500.9" r="2.1" fill="#4d4d4d"/><circle cx="255.0" cy="501.3" r="2.1" fill="#4c4c4c"/><circle cx="293.0" cy="495.2" r="2.1" fill="#595959"/><circle cx="254.9" cy="500.3" r="2.1" fill="#4e4e4e"/><circle cx="255.9" cy="505.2" r="2.1" fill="#444444"/><circle cx="288.9" cy="511.7" r="2.1" fill="#363636"/><circle cx="257.7" cy="522.6" r="2.1" fill="#202020"/><circle cx="258.3" cy="523.9" r="2.1" fill="#1d1d1d"/><circle cx="259.5" cy="531.0" r="2.1" fill="#181818"/><circle cx="255.6" cy="505.0" r="2.1" fill="#575757"/><circle cx="256.0" cy="507.8" r="2.1" fill="#515151"/><circle cx="294.2" cy="490.6" r="2.1" fill="#757575"/><circle cx="294.0" cy="490.6" r="2.1" fill="#757575"/><circle cx="287.7" cy="515.8" r="2.1" fill="#404040"/><circle cx="256.4" cy="507.8" r="2.1" fill="#515151"/><circle cx="249.4" cy="472.1" r="2.1" fill="#9b9b9b"/><circle cx="250.3" cy="479.3" r="2.1" fill="#8c8c8c"/><circle cx="255.2" cy="504.4" r="2.1" fill="#585858"/><circle cx="250.8" cy="480.8" r="2.1" fill="#898989"/><circle cx="257.6" cy="512.9" r="2.1" fill="#464646"/><circle cx="249.9" cy="479.2" r="2.1" fill="#8c8c8c"/><circle cx="249.3" cy="471.9" r="2.1" fill="#9c9c9c"/><circle cx="288.9" cy="512.3" r="2.1" fill="#474747"/><circle cx="250.6" cy="479.1" r="2.1" fill="#8d8d8d"/><circle cx="250.7" cy="480.6" r="2.1" fill="#898989"/><circle cx="288.8" cy="511.8" r="2.1" fill="#494949"/><circle cx="288.8" cy="512.0" r="2.1" fill="#484848"/><circle cx="288.7" cy="525.3" r="2.1" fill="#2d2d2d"/><circle cx="258.5" cy="529.6" r="2.1" fill="#242424"/><circle cx="252.3" cy="489.7" r="2.1" fill="#898989"/><circle cx="251.8" cy="491.0" r="2.1" fill="#868686"/><circle cx="254.7" cy="500.0" r="2.1" fill="#747474"/><circle cx="251.0" cy="484.9" r="2.1" fill="#939393"/><circle cx="254.1" cy="499.9" r="2.1" fill="#747474"/><circle cx="293.3" cy="495.6" r="2.1" fill="#7d7d7d"/><circle cx="257.9" cy="512.3" r="2.1" fill="#5a5a5a"/><circle cx="289.2" cy="508.8" r="2.1" fill="#626262"/><circle cx="293.2" cy="495.5" r="2.1" fill="#7d7d7d"/><circle cx="291.8" cy="501.4" r="2.1" fill="#717171"/><circle cx="294.3" cy="489.7" r="2.1" fill="#898989"/><circle cx="251.7" cy="489.8" r="2.1" fill="#898989"/><circle cx="257.1" cy="511.3" r="2.1" fill="#5c5c5c"/><circle cx="252.5" cy="491.5" r="2.1" fill="#858585"/><circle cx="291.3" cy="502.6" r="2.1" fill="#6e6e6e"/><circle cx="257.9" cy="512.7" r="2.1" fill="#595959"/><circle cx="291.2" cy="502.4" r="2.1" fill="#6f6f6f"/><circle cx="249.5" cy="475.1" r="2.1" fill="#a8a8a8"/><circle cx="252.9" cy="491.1" r="2.1" fill="#868686"/><circle cx="252.8" cy="492.6" r="2.1" fill="#838383"/><circle cx="291.6" cy="502.6" r="2.1" fill="#6e6e6e"/><circle cx="258.0" cy="512.6" r="2.1" fill="#5a5a5a"/><circle cx="257.3" cy="512.3" r="2.1" fill="#5a5a5a"/><circle cx="254.2" cy="498.6" r="2.1" fill="#777777"/><circle cx="291.7" cy="501.3" r="2.1" fill="#717171"/><circle cx="248.5" cy="468.8" r="2.1" fill="#b5b5b5"/><circle cx="257.3" cy="512.9" r="2.1" fill="#595959"/><circle cx="248.6" cy="469.0" r="2.1" fill="#b4b4b4"/><circle cx="257.6" cy="512.5" r="2.1" fill="#5a5a5a"/><circle cx="255.8" cy="508.0" r="2.1" fill="#636363"/><circle cx="250.3" cy="475.2" r="2.1" fill="#a7a7a7"/><circle cx="252.6" cy="492.7" r="2.1" fill="#838383"/><circle cx="258.5" cy="515.7" r="2.1" fill="#535353"/><circle cx="288.8" cy="524.8" r="2.1" fill="#404040"/><circle cx="258.0" cy="511.6" r="2.1" fill="#6e6e6e"/><circle cx="256.5" cy="509.1" r="2.1" fill="#737373"/><circle cx="296.6" cy="477.0" r="2.1" fill="#b6b6b6"/><circle cx="257.4" cy="511.9" r="2.1" fill="#6e6e6e"/><circle cx="252.7" cy="493.6" r="2.1" fill="#949494"/><circle cx="249.3" cy="469.6" r="2.1" fill="#c6c6c6"/><circle cx="248.5" cy="468.6" r="2.1" fill="#c8c8c8"/><circle cx="252.1" cy="488.6" r="2.1" fill="#9e9e9e"/><circle cx="291.1" cy="504.0" r="2.1" fill="#7e7e7e"/><circle cx="253.0" cy="492.9" r="2.1" fill="#959595"/><circle cx="252.8" cy="492.2" r="2.1" fill="#969696"/><circle cx="252.9" cy="493.0" r="2.1" fill="#959595"/><circle cx="291.9" cy="502.1" r="2.1" fill="#828282"/><circle cx="251.0" cy="484.9" r="2.1" fill="#a6a6a6"/><circle cx="256.7" cy="512.0" r="2.1" fill="#6d6d6d"/><circle cx="252.3" cy="491.6" r="2.1" fill="#989898"/><circle cx="290.5" cy="505.1" r="2.1" fill="#7c7c7c"/><circle cx="291.6" cy="504.2" r="2.1" fill="#7e7e7e"/><circle cx="250.4" cy="480.1" r="2.1" fill="#b0b0b0"/><circle cx="251.9" cy="489.6" r="2.1" fill="#9c9c9c"/><circle cx="291.5" cy="502.1" r="2.1" fill="#828282"/><circle cx="253.9" cy="497.8" r="2.1" fill="#8b8b8b"/><circle cx="251.2" cy="485.3" r="2.1" fill="#a5a5a5"/><circle cx="252.7" cy="490.5" r="2.1" fill="#9a9a9a"/><circle cx="260.3" cy="531.7" r="2.1" fill="#444444"/><circle cx="250.7" cy="481.9" r="2.1" fill="#bfbfbf"/><circle cx="253.6" cy="498.6" r="2.1" fill="#9c9c9c"/><circle cx="296.4" cy="476.5" r="2.1" fill="#cacaca"/><circle cx="291.4" cy="500.7" r="2.1" fill="#979797"/><circle cx="253.6" cy="495.3" r="2.1" fill="#a3a3a3"/><circle cx="251.4" cy="486.5" r="2.1" fill="#b5b5b5"/><circle cx="291.5" cy="503.7" r="2.1" fill="#919191"/><circle cx="296.8" cy="476.4" r="2.1" fill="#cacaca"/><circle cx="292.6" cy="496.2" r="2.1" fill="#a1a1a1"/><circle cx="290.4" cy="506.3" r="2.1" fill="#8c8c8c"/><circle cx="248.4" cy="466.3" r="2.1" fill="#d2d2d2"/><circle cx="251.7" cy="486.8" r="2.1" fill="#b4b4b4"/><circle cx="294.3" cy="489.2" r="2.1" fill="#afafaf"/><circle cx="296.4" cy="478.3" r="2.1" fill="#c6c6c6"/><circle cx="252.0" cy="487.1" r="2.1" fill="#b4b4b4"/><circle cx="292.0" cy="500.2" r="2.1" fill="#989898"/><circle cx="253.5" cy="495.3" r="2.1" fill="#a3a3a3"/><circle cx="253.6" cy="497.4" r="2.1" fill="#9e9e9e"/><circle cx="251.9" cy="487.5" r="2.1" fill="#b3b3b3"/><circle cx="288.8" cy="524.5" r="2.1" fill="#666666"/><circle cx="288.5" cy="530.3" r="2.1" fill="#5a5a5a"/><circle cx="296.2" cy="477.2" r="2.1" fill="#d2d2d2"/><circle cx="297.0" cy="474.2" r="2.1" fill="#d2d2d2"/><circle cx="256.8" cy="508.6" r="2.1" fill="#9a9a9a"/><circle cx="253.5" cy="497.2" r="2.1" fill="#b1b1b1"/><circle cx="290.3" cy="508.0" r="2.1" fill="#9b9b9b"/><circle cx="289.7" cy="508.6" r="2.1" fill="#9a9a9a"/><circle cx="247.8" cy="463.7" r="2.1" fill="#d2d2d2"/><circle cx="250.8" cy="483.6" r="2.1" fill="#cecece"/><circle cx="251.8" cy="486.7" r="2.1" fill="#c7c7c7"/><circle cx="251.7" cy="483.7" r="2.1" fill="#cdcdcd"/><circle cx="248.6" cy="466.6" r="2.1" fill="#d2d2d2"/><circle cx="256.3" cy="508.2" r="2.1" fill="#9a9a9a"/><circle cx="296.8" cy="474.2" r="2.1" fill="#d2d2d2"/><circle cx="292.0" cy="498.5" r="2.1" fill="#afafaf"/><circle cx="247.8" cy="464.0" r="2.1" fill="#d2d2d2"/><circle cx="253.7" cy="496.4" r="2.1" fill="#b3b3b3"/><circle cx="291.8" cy="500.7" r="2.1" fill="#aaaaaa"/><circle cx="290.2" cy="506.6" r="2.1" fill="#9e9e9e"/><circle cx="248.0" cy="465.6" r="2.1" fill="#d2d2d2"/><circle cx="256.3" cy="508.5" r="2.1" fill="#9a9a9a"/><circle cx="291.8" cy="500.5" r="2.1" fill="#aaaaaa"/><circle cx="250.6" cy="483.6" r="2.1" fill="#cecece"/><circle cx="247.8" cy="465.0" r="2.1" fill="#d2d2d2"/><circle cx="290.7" cy="506.9" r="2.1" fill="#9d9d9d"/><circle cx="294.7" cy="485.0" r="2.1" fill="#cbcbcb"/><circle cx="296.9" cy="474.4" r="2.1" fill="#d2d2d2"/><circle cx="295.6" cy="485.1" r="2.1" fill="#d2d2d2"/><circle cx="248.0" cy="463.1" r="2.1" fill="#d2d2d2"/><circle cx="251.4" cy="486.6" r="2.1" fill="#d2d2d2"/><circle cx="295.7" cy="479.2" r="2.1" fill="#d2d2d2"/><circle cx="253.6" cy="496.5" r="2.1" fill="#c5c5c5"/><circle cx="295.2" cy="483.4" r="2.1" fill="#d2d2d2"/><circle cx="289.9" cy="507.6" r="2.1" fill="#aeaeae"/><circle cx="247.3" cy="461.8" r="2.1" fill="#d2d2d2"/><circle cx="295.1" cy="483.2" r="2.1" fill="#d2d2d2"/><circle cx="247.7" cy="464.9" r="2.1" fill="#d2d2d2"/><circle cx="256.1" cy="508.5" r="2.1" fill="#adadad"/><circle cx="253.6" cy="495.5" r="2.1" fill="#c7c7c7"/><circle cx="295.3" cy="487.1" r="2.1" fill="#d2d2d2"/><circle cx="296.0" cy="478.9" r="2.1" fill="#d2d2d2"/><circle cx="248.2" cy="468.0" r="2.1" fill="#d2d2d2"/><circle cx="250.8" cy="483.2" r="2.1" fill="#d2d2d2"/><circle cx="247.4" cy="464.3" r="2.1" fill="#d2d2d2"/><circle cx="295.3" cy="486.1" r="2.1" fill="#d2d2d2"/><circle cx="294.9" cy="484.7" r="2.1" fill="#d2d2d2"/><circle cx="294.5" cy="487.3" r="2.1" fill="#d2d2d2"/><circle cx="251.5" cy="483.4" r="2.1" fill="#d2d2d2"/><circle cx="295.5" cy="485.2" r="2.1" fill="#d2d2d2"/><circle cx="296.1" cy="479.2" r="2.1" fill="#d2d2d2"/><circle cx="294.9" cy="484.8" r="2.1" fill="#d2d2d2"/><circle cx="290.7" cy="507.7" r="2.1" fill="#aeaeae"/><circle cx="258.0" cy="527.5" r="2.1" fill="#858585"/><circle cx="258.1" cy="524.2" r="2.1" fill="#8c8c8c"/><circle cx="259.4" cy="531.9" r="2.1" fill="#7c7c7c"/><circle cx="297.8" cy="471.8" r="2.1" fill="#d2d2d2"/><circle cx="292.1" cy="497.3" r="2.1" fill="#d2d2d2"/><circle cx="295.5" cy="483.1" r="2.1" fill="#d2d2d2"/><circle cx="295.8" cy="480.9" r="2.1" fill="#d2d2d2"/><circle cx="292.9" cy="496.7" r="2.1" fill="#d2d2d2"/><circle cx="296.8" cy="476.0" r="2.1" fill="#d2d2d2"/><circle cx="290.3" cy="506.9" r="2.1" fill="#c2c2c2"/><circle cx="296.8" cy="475.4" r="2.1" fill="#d2d2d2"/><circle cx="295.6" cy="481.0" r="2.1" fill="#d2d2d2"/><circle cx="257.9" cy="529.6" r="2.1" fill="#939393"/><circle cx="246.3" cy="467.4" r="2.1" fill="#d2d2d2"/><circle cx="297.1" cy="471.6" r="2.1" fill="#d2d2d2"/><circle cx="297.2" cy="471.9" r="2.1" fill="#d2d2d2"/><circle cx="296.0" cy="479.7" r="2.1" fill="#d2d2d2"/><circle cx="292.5" cy="497.1" r="2.1" fill="#d2d2d2"/><circle cx="246.6" cy="457.2" r="2.1" fill="#d2d2d2"/><circle cx="248.1" cy="461.2" r="2.1" fill="#d2d2d2"/><circle cx="294.5" cy="488.0" r="2.1" fill="#d2d2d2"/><circle cx="292.5" cy="497.2" r="2.1" fill="#d2d2d2"/><circle cx="246.6" cy="459.5" r="2.1" fill="#d2d2d2"/><circle cx="246.8" cy="457.9" r="2.1" fill="#d2d2d2"/><circle cx="247.4" cy="459.6" r="2.1" fill="#d2d2d2"/><circle cx="247.5" cy="460.8" r="2.1" fill="#d2d2d2"/><circle cx="247.0" cy="459.7" r="2.1" fill="#d2d2d2"/><circle cx="297.5" cy="471.4" r="2.1" fill="#d2d2d2"/><circle cx="246.7" cy="455.2" r="2.1" fill="#d2d2d2"/><circle cx="300.8" cy="448.0" r="2.1" fill="#d2d2d2"/><circle cx="246.9" cy="455.6" r="2.1" fill="#d2d2d2"/><circle cx="300.5" cy="447.1" r="2.1" fill="#d2d2d2"/><circle cx="301.4" cy="447.8" r="2.1" fill="#d2d2d2"/><circle cx="245.4" cy="463.9" r="2.1" fill="#d2d2d2"/><circle cx="245.9" cy="453.0" r="2.1" fill="#d2d2d2"/><circle cx="301.0" cy="446.1" r="2.1" fill="#d2d2d2"/><circle cx="301.1" cy="445.4" r="2.1" fill="#d2d2d2"/><circle cx="301.0" cy="446.2" r="2.1" fill="#d2d2d2"/><circle cx="246.1" cy="454.7" r="2.1" fill="#d2d2d2"/><circle cx="300.1" cy="455.9" r="2.1" fill="#d2d2d2"/><circle cx="257.7" cy="529.1" r="2.1" fill="#cccccc"/><circle cx="289.8" cy="530.0" r="2.1" fill="#cacaca"/><circle cx="300.2" cy="454.2" r="2.1" fill="#d2d2d2"/><circle cx="299.6" cy="455.5" r="2.1" fill="#d2d2d2"/><circle cx="245.3" cy="446.7" r="2.1" fill="#d2d2d2"/><circle cx="245.9" cy="451.4" r="2.1" fill="#d2d2d2"/><circle cx="246.3" cy="453.2" r="2.1" fill="#d2d2d2"/><circle cx="298.0" cy="469.7" r="2.1" fill="#d2d2d2"/><circle cx="297.6" cy="469.9" r="2.1" fill="#d2d2d2"/><circle cx="245.2" cy="456.7" r="2.1" fill="#d2d2d2"/><circle cx="301.3" cy="449.2" r="2.1" fill="#d2d2d2"/><circle cx="300.8" cy="449.7" r="2.1" fill="#d2d2d2"/><circle cx="299.8" cy="456.6" r="2.1" fill="#d2d2d2"/><circle cx="245.4" cy="448.8" r="2.1" fill="#d2d2d2"/><circle cx="245.9" cy="449.6" r="2.1" fill="#d2d2d2"/><circle cx="299.9" cy="453.2" r="2.1" fill="#d2d2d2"/><circle cx="301.2" cy="453.1" r="2.1" fill="#d2d2d2"/><circle cx="245.0" cy="450.3" r="2.1" fill="#d2d2d2"/><circle cx="299.6" cy="459.6" r="2.1" fill="#d2d2d2"/><circle cx="245.1" cy="444.2" r="2.1" fill="#d2d2d2"/><circle cx="245.7" cy="445.5" r="2.1" fill="#d2d2d2"/><circle cx="301.0" cy="458.5" r="2.1" fill="#d2d2d2"/><circle cx="301.6" cy="443.8" r="2.1" fill="#d2d2d2"/><circle cx="244.7" cy="444.2" r="2.1" fill="#d2d2d2"/><circle cx="298.5" cy="464.3" r="2.1" fill="#d2d2d2"/><circle cx="298.9" cy="460.9" r="2.1" fill="#d2d2d2"/><circle cx="298.4" cy="463.9" r="2.1" fill="#d2d2d2"/><circle cx="298.8" cy="460.7" r="2.1" fill="#d2d2d2"/><circle cx="293.2" cy="515.4" r="2.1" fill="#d2d2d2"/><circle cx="300.6" cy="465.6" r="2.1" fill="#d2d2d2"/><circle cx="301.9" cy="506.1" r="2.1" fill="#d2d2d2"/><circle cx="297.9" cy="508.9" r="2.1" fill="#d2d2d2"/><circle cx="293.3" cy="512.9" r="2.1" fill="#d2d2d2"/><circle cx="301.2" cy="504.3" r="2.1" fill="#d2d2d2"/><circle cx="297.2" cy="508.6" r="2.1" fill="#d2d2d2"/><circle cx="291.7" cy="527.2" r="2.1" fill="#d2d2d2"/><circle cx="295.3" cy="517.5" r="2.1" fill="#d2d2d2"/><circle cx="300.3" cy="472.8" r="2.1" fill="#d2d2d2"/><circle cx="303.8" cy="492.5" r="2.1" fill="#d2d2d2"/><circle cx="305.8" cy="503.2" r="2.1" fill="#d2d2d2"/><circle cx="299.0" cy="497.1" r="2.1" fill="#d2d2d2"/><circle cx="297.9" cy="500.3" r="2.1" fill="#d2d2d2"/><circle cx="294.5" cy="521.8" r="2.1" fill="#d2d2d2"/><circle cx="300.1" cy="488.9" r="2.1" fill="#d2d2d2"/><circle cx="299.6" cy="481.7" r="2.1" fill="#d2d2d2"/><circle cx="249.0" cy="513.6" r="2.1" fill="#d2d2d2"/><circle cx="246.3" cy="509.6" r="2.1" fill="#d2d2d2"/><circle cx="247.2" cy="486.8" r="2.1" fill="#d2d2d2"/><circle cx="253.8" cy="529.7" r="2.1" fill="#d2d2d2"/><circle cx="252.2" cy="525.7" r="2.1" fill="#d2d2d2"/><circle cx="247.4" cy="497.8" r="2.1" fill="#d2d2d2"/><circle cx="246.8" cy="490.7" r="2.1" fill="#d2d2d2"/><circle cx="246.3" cy="481.7" r="2.1" fill="#d2d2d2"/><circle cx="245.8" cy="472.8" r="2.1" fill="#d2d2d2"/><circle cx="247.3" cy="463.3" r="2.1" fill="#333"/><circle cx="247.8" cy="465.3" r="2.1" fill="#2a2a2a"/><circle cx="205.2" cy="428.4" r="2.1" fill="#d0d0d0"/><circle cx="207.5" cy="428.4" r="2.1" fill="#d8d8d8"/><circle cx="210.2" cy="428.4" r="2.1" fill="#d8d8d8"/><circle cx="216.7" cy="428.4" r="2.1" fill="#333"/><circle cx="222.5" cy="428.4" r="2.1" fill="#d0d0d0"/><circle cx="224.2" cy="428.4" r="2.1" fill="#333"/><circle cx="225.8" cy="428.4" r="2.1" fill="#2a2a2a"/><circle cx="227.5" cy="428.4" r="2.1" fill="#ccc"/><circle cx="229.2" cy="428.4" r="2.1" fill="#333"/><circle cx="231.0" cy="428.4" r="2.1" fill="#2a2a2a"/><circle cx="232.6" cy="428.4" r="2.1" fill="#ddd"/><circle cx="234.3" cy="428.4" r="2.1" fill="#333"/><circle cx="236.0" cy="428.4" r="2.1" fill="#2a2a2a"/><circle cx="237.8" cy="428.4" r="2.1" fill="#444"/><circle cx="239.6" cy="428.4" r="2.1" fill="#ccc"/><circle cx="241.4" cy="428.4" r="2.1" fill="#333"/><circle cx="243.0" cy="428.4" r="2.1" fill="#2a2a2a"/><circle cx="244.6" cy="428.4" r="2.1" fill="#333"/><circle cx="245.9" cy="428.4" r="2.1" fill="#333"/><circle cx="302.4" cy="428.4" r="2.1" fill="#444"/><circle cx="304.0" cy="428.4" r="2.1" fill="#ddd"/><circle cx="305.6" cy="428.4" r="2.1" fill="#ccc"/><circle cx="307.2" cy="428.4" r="2.1" fill="#333"/><circle cx="309.0" cy="428.4" r="2.1" fill="#ddd"/><circle cx="310.6" cy="428.4" r="2.1" fill="#ccc"/><circle cx="312.2" cy="428.4" r="2.1" fill="#d4d4d4"/><circle cx="314.0" cy="428.4" r="2.1" fill="#333"/><circle cx="315.7" cy="428.4" r="2.1" fill="#ddd"/><circle cx="317.3" cy="428.4" r="2.1" fill="#ccc"/><circle cx="318.9" cy="428.4" r="2.1" fill="#d4d4d4"/><circle cx="320.6" cy="428.4" r="2.1" fill="#333"/><circle cx="322.3" cy="428.4" r="2.1" fill="#ddd"/><circle cx="324.6" cy="428.4" r="2.1" fill="#333"/><circle cx="338.3" cy="428.4" r="2.1" fill="#333"/><circle cx="341.2" cy="428.4" r="2.1" fill="#e0e0e0"/><circle cx="350.5" cy="428.4" r="2.1" fill="#333"/><circle cx="238.8" cy="439.5" r="2.1" fill="#d0d0d0"/><circle cx="240.6" cy="439.5" r="2.1" fill="#bbb"/><circle cx="242.4" cy="439.5" r="2.1" fill="#333"/><circle cx="244.2" cy="439.5" r="2.1" fill="#2a2a2a"/><circle cx="245.8" cy="439.5" r="2.1" fill="#333"/></g>
<path d="M192.6 410V535.4H360.4M192.50 535.4V538.3M219.40 535.4V538.3M246.30 535.4V538.3M273.20 535.4V538.3M300.10 535.4V538.3M327.00 535.4V538.3M353.90 535.4V538.3M189.8 535.40H192.6M189.8 517.51H192.6M189.8 499.63H192.6M189.8 481.75H192.6M189.8 463.86H192.6M189.8 445.97H192.6M189.8 428.09H192.6M189.8 410.20H192.6" stroke="#000" stroke-width="1" fill="none"/>
<text x="186.80" y="538.20" font-size="8" text-anchor="end" stroke="#000" stroke-width="0.12">0.0</text>
<text x="186.80" y="520.31" font-size="8" text-anchor="end" stroke="#000" stroke-width="0.12">0.5</text>
<text x="186.80" y="502.43" font-size="8" text-anchor="end" stroke="#000" stroke-width="0.12">1.0</text>
<text x="186.80" y="484.55" font-size="8" text-anchor="end" stroke="#000" stroke-width="0.12">1.5</text>
<text x="186.80" y="466.66" font-size="8" text-anchor="end" stroke="#000" stroke-width="0.12">2.0</text>
<text x="186.80" y="448.77" font-size="8" text-anchor="end" stroke="#000" stroke-width="0.12">2.5</text>
<text x="186.80" y="430.89" font-size="8" text-anchor="end" stroke="#000" stroke-width="0.12">3.0</text>
<text x="186.80" y="413.00" font-size="8" text-anchor="end" stroke="#000" stroke-width="0.12">3.5</text>
<text x="192.50" y="546.80" font-size="7.9" text-anchor="middle" stroke="#000" stroke-width="0.12">−7.5</text>
<text x="219.40" y="546.80" font-size="7.9" text-anchor="middle" stroke="#000" stroke-width="0.12">−5.0</text>
<text x="246.30" y="546.80" font-size="7.9" text-anchor="middle" stroke="#000" stroke-width="0.12">−2.5</text>
<text x="273.20" y="546.80" font-size="7.9" text-anchor="middle" stroke="#000" stroke-width="0.12">0.0</text>
<text x="300.10" y="546.80" font-size="7.9" text-anchor="middle" stroke="#000" stroke-width="0.12">2.5</text>
<text x="327.00" y="546.80" font-size="7.9" text-anchor="middle" stroke="#000" stroke-width="0.12">5.0</text>
<text x="353.90" y="546.80" font-size="7.9" text-anchor="middle" stroke="#000" stroke-width="0.12">7.5</text>
<text x="277" y="560.4" font-size="9.2" text-anchor="middle" textLength="36.6" lengthAdjust="spacingAndGlyphs" stroke="#000" stroke-width="0.22"><tspan font-weight="bold">RANKS</tspan> score</text>
<text transform="translate(169 480.7) rotate(-90) scale(1.03 1)" x="0" y="0" font-size="7.6" text-anchor="middle" stroke="#000" stroke-width="0.28">Significance −(log<tspan font-size="5.6" dy="1.7">10</tspan><tspan dy="-1.7"> FDR)</tspan></text>
<text x="204.80" y="417.90" font-size="6.3" text-anchor="start" stroke="#000" stroke-width="0.12" textLength="19.7" lengthAdjust="spacingAndGlyphs">RAB1B</text>
<text x="228.60" y="417.90" font-size="6.3" text-anchor="start" stroke="#000" stroke-width="0.12" textLength="29.5" lengthAdjust="spacingAndGlyphs">RABGGTA</text>
<text x="253.00" y="426.40" font-size="6.3" text-anchor="start" stroke="#000" stroke-width="0.12" textLength="21.1" lengthAdjust="spacingAndGlyphs">GGPS1</text>
<text x="253.30" y="433.40" font-size="6.3" text-anchor="start" stroke="#000" stroke-width="0.12" textLength="27.6" lengthAdjust="spacingAndGlyphs">TBC1D20</text>
<text x="214.00" y="441.80" font-size="6.3" text-anchor="start" stroke="#000" stroke-width="0.12" textLength="19.8" lengthAdjust="spacingAndGlyphs">RAB1A</text>
<text x="254.90" y="441.80" font-size="6.3" text-anchor="start" stroke="#000" stroke-width="0.12" textLength="20.2" lengthAdjust="spacingAndGlyphs">RAB6A</text>
<text x="208.90" y="465.20" font-size="6.3" text-anchor="start" stroke="#000" stroke-width="0.12" textLength="30.2" lengthAdjust="spacingAndGlyphs">RABGGTB</text>
<text x="312.80" y="418.00" font-size="6.3" text-anchor="start" stroke="#000" stroke-width="0.12" textLength="17.9" lengthAdjust="spacingAndGlyphs">FDFT1</text>
<text x="344.00" y="418.00" font-size="6.3" text-anchor="start" stroke="#000" stroke-width="0.12" textLength="26" lengthAdjust="spacingAndGlyphs">LDLRAP1</text>
<text x="331.30" y="443.60" font-size="6.3" text-anchor="start" stroke="#000" stroke-width="0.12" textLength="15.6" lengthAdjust="spacingAndGlyphs">LDLR</text>
<path d="M216.5 420.6V426.4M235.8 420.6V426.4M240.4 426.4V423.8H251.6M246 429.9H251.6M227.6 430.4V437M247 439.3H252.8M240 463.5H245M324.6 420.6V426.4M350.7 420.6V426.4M338.5 430.4V436.6" stroke="#000" stroke-width="0.6" fill="none"/>
<path d="M197 569H261M285.8 569H356" stroke="#000" stroke-width="1"/>
<path d="M192.7 569L197.6 566.5V571.5Z M360.4 569L355.5 566.5V571.5Z" fill="#000"/>
<text x="273.30" y="571.60" font-size="7.3" text-anchor="middle" stroke="#000" stroke-width="0.12" textLength="17" lengthAdjust="spacingAndGlyphs">Statin</text>
<text x="273.30" y="580.80" font-size="7.3" text-anchor="middle" stroke="#000" stroke-width="0.12" textLength="29.4" lengthAdjust="spacingAndGlyphs">sensitivity</text>
<text x="223.80" y="577.70" font-size="7.6" text-anchor="middle" stroke="#000" stroke-width="0.12">Enhanced</text>
<text x="327.60" y="577.70" font-size="7.6" text-anchor="middle" stroke="#000" stroke-width="0.12">Reduced</text>
<rect x="0.5" y="0.5" width="519" height="586" fill="none" stroke="#000" stroke-width="1"/></svg>
</body></html>
